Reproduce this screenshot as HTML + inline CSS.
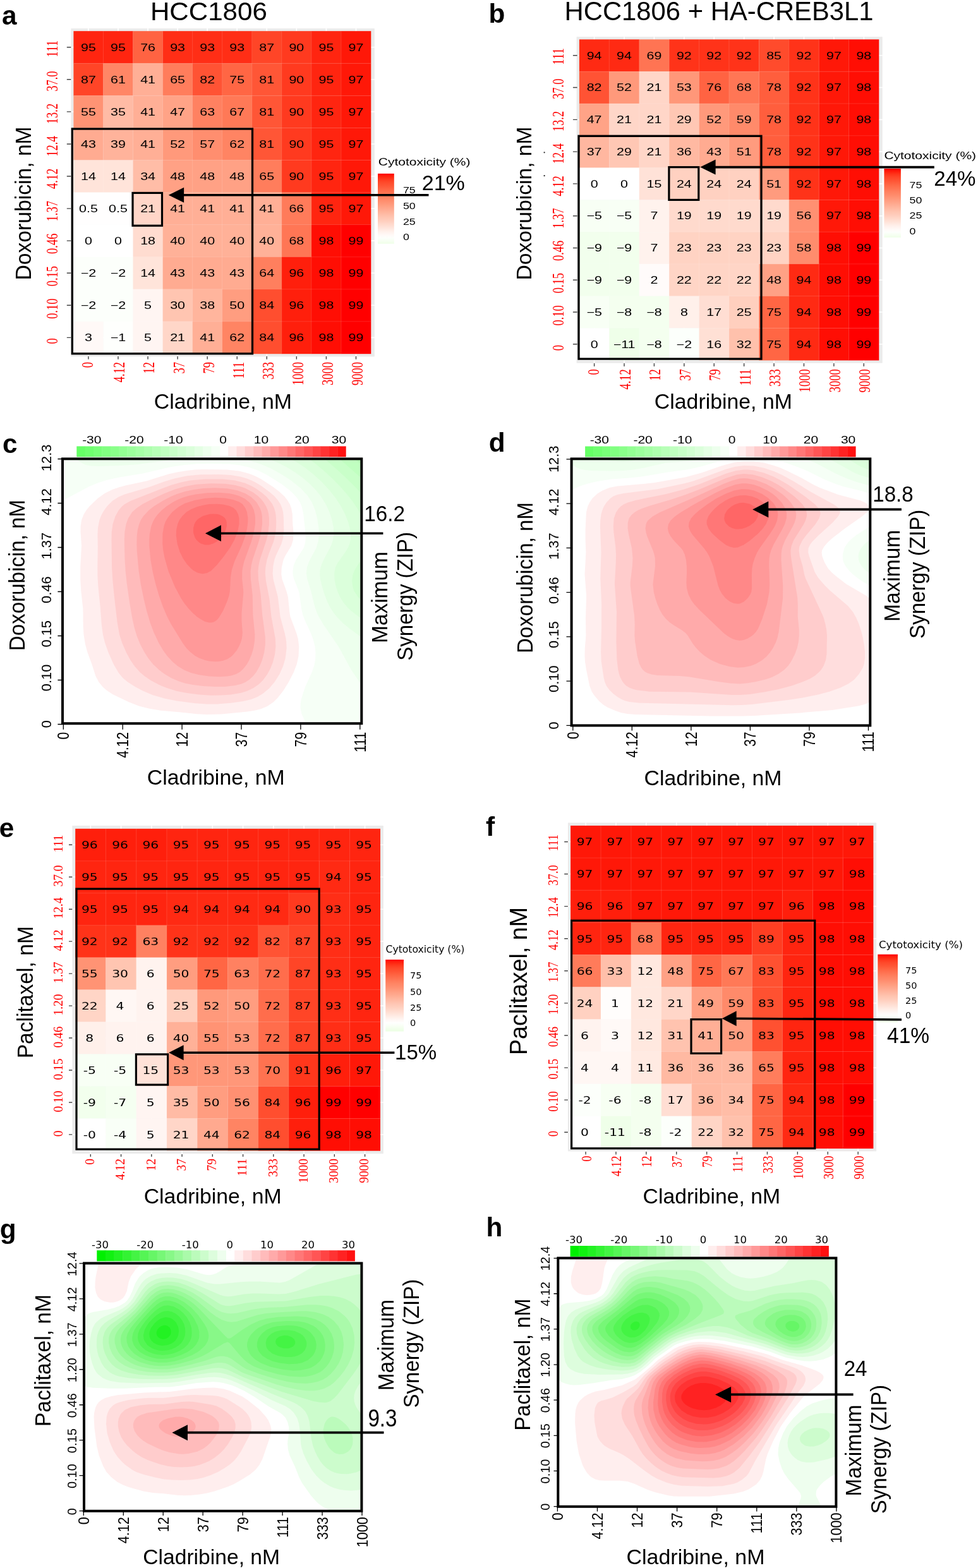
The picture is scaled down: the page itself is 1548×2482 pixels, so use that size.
<!DOCTYPE html>
<html lang="en"><head><meta charset="utf-8"><title>Figure: Cladribine combination cytotoxicity and ZIP synergy</title>
<style>html,body{margin:0;padding:0;background:#fff}svg{display:block}text{white-space:pre}</style></head><body>
<svg width="1548" height="2482" viewBox="0 0 1548 2482" role="img" aria-label="Cytotoxicity heatmaps and ZIP synergy contour maps for cladribine combined with doxorubicin or paclitaxel">
<rect width="1548" height="2482" fill="#fff"/>
<g id="panel-a">
<rect x="112.4" y="45" width="480.4" height="519.5" fill="#ebebeb"/>
<path d="M139.93 45V564.5M186.99 45V564.5M234.05 45V564.5M281.11 45V564.5M328.17 45V564.5M375.23 45V564.5M422.29 45V564.5M469.35 45V564.5M516.41 45V564.5M563.47 45V564.5M112.4 74.73H592.8M112.4 125.81H592.8M112.4 176.88H592.8M112.4 227.94H592.8M112.4 279.01H592.8M112.4 330.08H592.8M112.4 381.15H592.8M112.4 432.22H592.8M112.4 483.3H592.8M112.4 534.37H592.8" stroke="#fff" stroke-width="1.6" fill="none"/>
<rect x="116.4" y="49.2" width="94.42" height="51.37" fill="#ff2510"/>
<rect x="210.52" y="49.2" width="47.36" height="51.37" fill="#ff6342"/>
<rect x="257.58" y="49.2" width="141.48" height="51.37" fill="#ff2e16"/>
<rect x="398.76" y="49.2" width="47.36" height="51.37" fill="#ff4527"/>
<rect x="445.82" y="49.2" width="47.36" height="51.37" fill="#ff3a1f"/>
<rect x="492.88" y="49.2" width="47.36" height="51.37" fill="#ff2510"/>
<rect x="539.94" y="49.2" width="47.36" height="51.37" fill="#ff1808"/>
<rect x="116.4" y="100.27" width="47.36" height="51.37" fill="#ff4527"/>
<rect x="163.46" y="100.27" width="47.36" height="51.37" fill="#ff8666"/>
<rect x="210.52" y="100.27" width="47.36" height="51.37" fill="#ffaf96"/>
<rect x="257.58" y="100.27" width="47.36" height="51.37" fill="#ff7d5c"/>
<rect x="304.64" y="100.27" width="47.36" height="51.37" fill="#ff5334"/>
<rect x="351.7" y="100.27" width="47.36" height="51.37" fill="#ff6644"/>
<rect x="398.76" y="100.27" width="47.36" height="51.37" fill="#ff5636"/>
<rect x="445.82" y="100.27" width="47.36" height="51.37" fill="#ff3a1f"/>
<rect x="492.88" y="100.27" width="47.36" height="51.37" fill="#ff2510"/>
<rect x="539.94" y="100.27" width="47.36" height="51.37" fill="#ff1808"/>
<rect x="116.4" y="151.34" width="47.36" height="51.37" fill="#ff9374"/>
<rect x="163.46" y="151.34" width="47.36" height="51.37" fill="#ffbba5"/>
<rect x="210.52" y="151.34" width="47.36" height="51.37" fill="#ffaf96"/>
<rect x="257.58" y="151.34" width="47.36" height="51.37" fill="#ffa387"/>
<rect x="304.64" y="151.34" width="47.36" height="51.37" fill="#ff8161"/>
<rect x="351.7" y="151.34" width="47.36" height="51.37" fill="#ff7957"/>
<rect x="398.76" y="151.34" width="47.36" height="51.37" fill="#ff5636"/>
<rect x="445.82" y="151.34" width="47.36" height="51.37" fill="#ff3a1f"/>
<rect x="492.88" y="151.34" width="47.36" height="51.37" fill="#ff2510"/>
<rect x="539.94" y="151.34" width="47.36" height="51.37" fill="#ff1808"/>
<rect x="116.4" y="202.41" width="47.36" height="51.37" fill="#ffab91"/>
<rect x="163.46" y="202.41" width="47.36" height="51.37" fill="#ffb39b"/>
<rect x="210.52" y="202.41" width="47.36" height="51.37" fill="#ffaf96"/>
<rect x="257.58" y="202.41" width="47.36" height="51.37" fill="#ff997b"/>
<rect x="304.64" y="202.41" width="47.36" height="51.37" fill="#ff8e6f"/>
<rect x="351.7" y="202.41" width="47.36" height="51.37" fill="#ff8463"/>
<rect x="398.76" y="202.41" width="47.36" height="51.37" fill="#ff5636"/>
<rect x="445.82" y="202.41" width="47.36" height="51.37" fill="#ff3a1f"/>
<rect x="492.88" y="202.41" width="47.36" height="51.37" fill="#ff2510"/>
<rect x="539.94" y="202.41" width="47.36" height="51.37" fill="#ff1808"/>
<rect x="116.4" y="253.48" width="94.42" height="51.37" fill="#ffe4da"/>
<rect x="210.52" y="253.48" width="47.36" height="51.37" fill="#ffbda7"/>
<rect x="257.58" y="253.48" width="141.48" height="51.37" fill="#ffa185"/>
<rect x="398.76" y="253.48" width="47.36" height="51.37" fill="#ff7d5c"/>
<rect x="445.82" y="253.48" width="47.36" height="51.37" fill="#ff3a1f"/>
<rect x="492.88" y="253.48" width="47.36" height="51.37" fill="#ff2510"/>
<rect x="539.94" y="253.48" width="47.36" height="51.37" fill="#ff1808"/>
<rect x="116.4" y="304.55" width="94.42" height="51.37" fill="#fffefe"/>
<rect x="210.52" y="304.55" width="47.36" height="51.37" fill="#ffd6c8"/>
<rect x="257.58" y="304.55" width="188.54" height="51.37" fill="#ffaf96"/>
<rect x="445.82" y="304.55" width="47.36" height="51.37" fill="#ff7b5a"/>
<rect x="492.88" y="304.55" width="47.36" height="51.37" fill="#ff2510"/>
<rect x="539.94" y="304.55" width="47.36" height="51.37" fill="#ff1808"/>
<rect x="116.4" y="355.62" width="94.42" height="51.37" fill="#ffffff"/>
<rect x="210.52" y="355.62" width="47.36" height="51.37" fill="#ffdcd0"/>
<rect x="257.58" y="355.62" width="188.54" height="51.37" fill="#ffb198"/>
<rect x="445.82" y="355.62" width="47.36" height="51.37" fill="#ff7655"/>
<rect x="492.88" y="355.62" width="47.36" height="51.37" fill="#ff0e04"/>
<rect x="539.94" y="355.62" width="47.36" height="51.37" fill="#ff0000"/>
<rect x="116.4" y="406.69" width="94.42" height="51.37" fill="#fcfffb"/>
<rect x="210.52" y="406.69" width="47.36" height="51.37" fill="#ffe4da"/>
<rect x="257.58" y="406.69" width="141.48" height="51.37" fill="#ffab91"/>
<rect x="398.76" y="406.69" width="47.36" height="51.37" fill="#ff7f5e"/>
<rect x="445.82" y="406.69" width="47.36" height="51.37" fill="#ff1f0c"/>
<rect x="492.88" y="406.69" width="47.36" height="51.37" fill="#ff0e04"/>
<rect x="539.94" y="406.69" width="47.36" height="51.37" fill="#ff0000"/>
<rect x="116.4" y="457.76" width="94.42" height="51.37" fill="#fcfffb"/>
<rect x="210.52" y="457.76" width="47.36" height="51.37" fill="#fff5f2"/>
<rect x="257.58" y="457.76" width="47.36" height="51.37" fill="#ffc5b1"/>
<rect x="304.64" y="457.76" width="47.36" height="51.37" fill="#ffb59d"/>
<rect x="351.7" y="457.76" width="47.36" height="51.37" fill="#ff9d80"/>
<rect x="398.76" y="457.76" width="47.36" height="51.37" fill="#ff4e2f"/>
<rect x="445.82" y="457.76" width="47.36" height="51.37" fill="#ff1f0c"/>
<rect x="492.88" y="457.76" width="47.36" height="51.37" fill="#ff0e04"/>
<rect x="539.94" y="457.76" width="47.36" height="51.37" fill="#ff0000"/>
<rect x="116.4" y="508.83" width="47.36" height="51.37" fill="#fff9f7"/>
<rect x="163.46" y="508.83" width="47.36" height="51.37" fill="#fefffd"/>
<rect x="210.52" y="508.83" width="47.36" height="51.37" fill="#fff5f2"/>
<rect x="257.58" y="508.83" width="47.36" height="51.37" fill="#ffd6c8"/>
<rect x="304.64" y="508.83" width="47.36" height="51.37" fill="#ffaf96"/>
<rect x="351.7" y="508.83" width="47.36" height="51.37" fill="#ff8463"/>
<rect x="398.76" y="508.83" width="47.36" height="51.37" fill="#ff4e2f"/>
<rect x="445.82" y="508.83" width="47.36" height="51.37" fill="#ff1f0c"/>
<rect x="492.88" y="508.83" width="47.36" height="51.37" fill="#ff0e04"/>
<rect x="539.94" y="508.83" width="47.36" height="51.37" fill="#ff0000"/>
<path d="M163.46 49.2V559.9M210.52 49.2V559.9M257.58 49.2V559.9M304.64 49.2V559.9M351.7 49.2V559.9M398.76 49.2V559.9M445.82 49.2V559.9M492.88 49.2V559.9M539.94 49.2V559.9M116.4 100.27H587M116.4 151.34H587M116.4 202.41H587M116.4 253.48H587M116.4 304.55H587M116.4 355.62H587M116.4 406.69H587M116.4 457.76H587M116.4 508.83H587" stroke="#fff" stroke-opacity="0.13" stroke-width="1" fill="none"/>
<g font-family="'Liberation Sans',Arial,Helvetica,sans-serif" font-size="16" text-anchor="middle">
<text transform="translate(139.93 80.53) scale(1.34 1)">95</text>
<text transform="translate(186.99 80.53) scale(1.34 1)">95</text>
<text transform="translate(234.05 80.53) scale(1.34 1)">76</text>
<text transform="translate(281.11 80.53) scale(1.34 1)">93</text>
<text transform="translate(328.17 80.53) scale(1.34 1)">93</text>
<text transform="translate(375.23 80.53) scale(1.34 1)">93</text>
<text transform="translate(422.29 80.53) scale(1.34 1)">87</text>
<text transform="translate(469.35 80.53) scale(1.34 1)">90</text>
<text transform="translate(516.41 80.53) scale(1.34 1)">95</text>
<text transform="translate(563.47 80.53) scale(1.34 1)">97</text>
<text transform="translate(139.93 131.61) scale(1.34 1)">87</text>
<text transform="translate(186.99 131.61) scale(1.34 1)">61</text>
<text transform="translate(234.05 131.61) scale(1.34 1)">41</text>
<text transform="translate(281.11 131.61) scale(1.34 1)">65</text>
<text transform="translate(328.17 131.61) scale(1.34 1)">82</text>
<text transform="translate(375.23 131.61) scale(1.34 1)">75</text>
<text transform="translate(422.29 131.61) scale(1.34 1)">81</text>
<text transform="translate(469.35 131.61) scale(1.34 1)">90</text>
<text transform="translate(516.41 131.61) scale(1.34 1)">95</text>
<text transform="translate(563.47 131.61) scale(1.34 1)">97</text>
<text transform="translate(139.93 182.68) scale(1.34 1)">55</text>
<text transform="translate(186.99 182.68) scale(1.34 1)">35</text>
<text transform="translate(234.05 182.68) scale(1.34 1)">41</text>
<text transform="translate(281.11 182.68) scale(1.34 1)">47</text>
<text transform="translate(328.17 182.68) scale(1.34 1)">63</text>
<text transform="translate(375.23 182.68) scale(1.34 1)">67</text>
<text transform="translate(422.29 182.68) scale(1.34 1)">81</text>
<text transform="translate(469.35 182.68) scale(1.34 1)">90</text>
<text transform="translate(516.41 182.68) scale(1.34 1)">95</text>
<text transform="translate(563.47 182.68) scale(1.34 1)">97</text>
<text transform="translate(139.93 233.75) scale(1.34 1)">43</text>
<text transform="translate(186.99 233.75) scale(1.34 1)">39</text>
<text transform="translate(234.05 233.75) scale(1.34 1)">41</text>
<text transform="translate(281.11 233.75) scale(1.34 1)">52</text>
<text transform="translate(328.17 233.75) scale(1.34 1)">57</text>
<text transform="translate(375.23 233.75) scale(1.34 1)">62</text>
<text transform="translate(422.29 233.75) scale(1.34 1)">81</text>
<text transform="translate(469.35 233.75) scale(1.34 1)">90</text>
<text transform="translate(516.41 233.75) scale(1.34 1)">95</text>
<text transform="translate(563.47 233.75) scale(1.34 1)">97</text>
<text transform="translate(139.93 284.81) scale(1.34 1)">14</text>
<text transform="translate(186.99 284.81) scale(1.34 1)">14</text>
<text transform="translate(234.05 284.81) scale(1.34 1)">34</text>
<text transform="translate(281.11 284.81) scale(1.34 1)">48</text>
<text transform="translate(328.17 284.81) scale(1.34 1)">48</text>
<text transform="translate(375.23 284.81) scale(1.34 1)">48</text>
<text transform="translate(422.29 284.81) scale(1.34 1)">65</text>
<text transform="translate(469.35 284.81) scale(1.34 1)">90</text>
<text transform="translate(516.41 284.81) scale(1.34 1)">95</text>
<text transform="translate(563.47 284.81) scale(1.34 1)">97</text>
<text transform="translate(139.93 335.88) scale(1.34 1)">0.5</text>
<text transform="translate(186.99 335.88) scale(1.34 1)">0.5</text>
<text transform="translate(234.05 335.88) scale(1.34 1)">21</text>
<text transform="translate(281.11 335.88) scale(1.34 1)">41</text>
<text transform="translate(328.17 335.88) scale(1.34 1)">41</text>
<text transform="translate(375.23 335.88) scale(1.34 1)">41</text>
<text transform="translate(422.29 335.88) scale(1.34 1)">41</text>
<text transform="translate(469.35 335.88) scale(1.34 1)">66</text>
<text transform="translate(516.41 335.88) scale(1.34 1)">95</text>
<text transform="translate(563.47 335.88) scale(1.34 1)">97</text>
<text transform="translate(139.93 386.95) scale(1.34 1)">0</text>
<text transform="translate(186.99 386.95) scale(1.34 1)">0</text>
<text transform="translate(234.05 386.95) scale(1.34 1)">18</text>
<text transform="translate(281.11 386.95) scale(1.34 1)">40</text>
<text transform="translate(328.17 386.95) scale(1.34 1)">40</text>
<text transform="translate(375.23 386.95) scale(1.34 1)">40</text>
<text transform="translate(422.29 386.95) scale(1.34 1)">40</text>
<text transform="translate(469.35 386.95) scale(1.34 1)">68</text>
<text transform="translate(516.41 386.95) scale(1.34 1)">98</text>
<text transform="translate(563.47 386.95) scale(1.34 1)">99</text>
<text transform="translate(139.93 438.02) scale(1.34 1)">−2</text>
<text transform="translate(186.99 438.02) scale(1.34 1)">−2</text>
<text transform="translate(234.05 438.02) scale(1.34 1)">14</text>
<text transform="translate(281.11 438.02) scale(1.34 1)">43</text>
<text transform="translate(328.17 438.02) scale(1.34 1)">43</text>
<text transform="translate(375.23 438.02) scale(1.34 1)">43</text>
<text transform="translate(422.29 438.02) scale(1.34 1)">64</text>
<text transform="translate(469.35 438.02) scale(1.34 1)">96</text>
<text transform="translate(516.41 438.02) scale(1.34 1)">98</text>
<text transform="translate(563.47 438.02) scale(1.34 1)">99</text>
<text transform="translate(139.93 489.1) scale(1.34 1)">−2</text>
<text transform="translate(186.99 489.1) scale(1.34 1)">−2</text>
<text transform="translate(234.05 489.1) scale(1.34 1)">5</text>
<text transform="translate(281.11 489.1) scale(1.34 1)">30</text>
<text transform="translate(328.17 489.1) scale(1.34 1)">38</text>
<text transform="translate(375.23 489.1) scale(1.34 1)">50</text>
<text transform="translate(422.29 489.1) scale(1.34 1)">84</text>
<text transform="translate(469.35 489.1) scale(1.34 1)">96</text>
<text transform="translate(516.41 489.1) scale(1.34 1)">98</text>
<text transform="translate(563.47 489.1) scale(1.34 1)">99</text>
<text transform="translate(139.93 540.16) scale(1.34 1)">3</text>
<text transform="translate(186.99 540.16) scale(1.34 1)">−1</text>
<text transform="translate(234.05 540.16) scale(1.34 1)">5</text>
<text transform="translate(281.11 540.16) scale(1.34 1)">21</text>
<text transform="translate(328.17 540.16) scale(1.34 1)">41</text>
<text transform="translate(375.23 540.16) scale(1.34 1)">62</text>
<text transform="translate(422.29 540.16) scale(1.34 1)">84</text>
<text transform="translate(469.35 540.16) scale(1.34 1)">96</text>
<text transform="translate(516.41 540.16) scale(1.34 1)">98</text>
<text transform="translate(563.47 540.16) scale(1.34 1)">99</text>
</g>
<path d="M105.8 74.73H112.4M105.8 125.81H112.4M105.8 176.88H112.4M105.8 227.94H112.4M105.8 279.01H112.4M105.8 330.08H112.4M105.8 381.15H112.4M105.8 432.22H112.4M105.8 483.3H112.4M105.8 534.37H112.4M139.93 564.1V568.8M186.99 564.1V568.8M234.05 564.1V568.8M281.11 564.1V568.8M328.17 564.1V568.8M375.23 564.1V568.8M422.29 564.1V568.8M469.35 564.1V568.8M516.41 564.1V568.8M563.47 564.1V568.8" stroke="#444" stroke-width="1.4" fill="none"/>
<g font-family="'Liberation Serif','Times New Roman',Times,serif" font-size="18.5" fill="#ff0000">
<text transform="translate(91.4 77.2) rotate(-90) scale(1 1.36)" text-anchor="middle">111</text>
<text transform="translate(91.4 128.62) rotate(-90) scale(1 1.36)" text-anchor="middle">37.0</text>
<text transform="translate(91.4 180.04) rotate(-90) scale(1 1.36)" text-anchor="middle">13.2</text>
<text transform="translate(91.4 231.47) rotate(-90) scale(1 1.36)" text-anchor="middle">12.4</text>
<text transform="translate(91.4 282.89) rotate(-90) scale(1 1.36)" text-anchor="middle">4.12</text>
<text transform="translate(91.4 334.31) rotate(-90) scale(1 1.36)" text-anchor="middle">1.37</text>
<text transform="translate(91.4 385.73) rotate(-90) scale(1 1.36)" text-anchor="middle">0.46</text>
<text transform="translate(91.4 437.16) rotate(-90) scale(1 1.36)" text-anchor="middle">0.15</text>
<text transform="translate(91.4 488.58) rotate(-90) scale(1 1.36)" text-anchor="middle">0.10</text>
<text transform="translate(91.4 540) rotate(-90) scale(1 1.36)" text-anchor="middle">0</text>
<text transform="translate(147.43 573) rotate(-90) scale(1 1.36)" text-anchor="end">0</text>
<text transform="translate(197.39 573) rotate(-90) scale(1 1.36)" text-anchor="end">4.12</text>
<text transform="translate(244.45 573) rotate(-90) scale(1 1.36)" text-anchor="end">12</text>
<text transform="translate(291.51 573) rotate(-90) scale(1 1.36)" text-anchor="end">37</text>
<text transform="translate(338.57 573) rotate(-90) scale(1 1.36)" text-anchor="end">79</text>
<text transform="translate(385.63 573) rotate(-90) scale(1 1.36)" text-anchor="end">111</text>
<text transform="translate(432.69 573) rotate(-90) scale(1 1.36)" text-anchor="end">333</text>
<text transform="translate(479.75 573) rotate(-90) scale(1 1.36)" text-anchor="end">1000</text>
<text transform="translate(526.81 573) rotate(-90) scale(1 1.36)" text-anchor="end">3000</text>
<text transform="translate(573.87 573) rotate(-90) scale(1 1.36)" text-anchor="end">9000</text>
</g>
<rect x="114.3" y="204" width="285.2" height="355.8" fill="none" stroke="#000" stroke-width="3.3"/>
<rect x="210" y="305.4" width="46.5" height="51.8" fill="none" stroke="#000" stroke-width="3.2"/>
<linearGradient id="ga" x1="0" y1="0" x2="0" y2="1"><stop offset="0" stop-color="#ff0000"/><stop offset="0.04" stop-color="#ff230e"/><stop offset="0.08" stop-color="#ff381d"/><stop offset="0.12" stop-color="#ff4829"/><stop offset="0.17" stop-color="#ff5535"/><stop offset="0.21" stop-color="#ff6140"/><stop offset="0.25" stop-color="#ff6d4b"/><stop offset="0.29" stop-color="#ff7756"/><stop offset="0.33" stop-color="#ff8261"/><stop offset="0.38" stop-color="#ff8c6c"/><stop offset="0.42" stop-color="#ff9577"/><stop offset="0.46" stop-color="#ff9f82"/><stop offset="0.5" stop-color="#ffa88e"/><stop offset="0.54" stop-color="#ffb299"/><stop offset="0.58" stop-color="#ffbba5"/><stop offset="0.62" stop-color="#ffc4b0"/><stop offset="0.67" stop-color="#ffcdbc"/><stop offset="0.71" stop-color="#ffd6c8"/><stop offset="0.75" stop-color="#ffdfd4"/><stop offset="0.79" stop-color="#ffe8e0"/><stop offset="0.83" stop-color="#fff1ec"/><stop offset="0.88" stop-color="#fffaf8"/><stop offset="0.92" stop-color="#fcfffb"/><stop offset="0.96" stop-color="#f6fff2"/><stop offset="1" stop-color="#efffe8"/></linearGradient>
<rect x="598" y="274.8" width="25.8" height="111" fill="url(#ga)"/>
<text transform="translate(598.8 261.5) scale(1.22 1)" font-family="'Liberation Sans',Arial,Helvetica,sans-serif" font-size="17.2">Cytotoxicity (%)</text>
<text transform="translate(638 305.9) scale(1.2 1)" font-family="'Liberation Sans',Arial,Helvetica,sans-serif" font-size="14.8">75</text>
<text transform="translate(638 330.7) scale(1.2 1)" font-family="'Liberation Sans',Arial,Helvetica,sans-serif" font-size="14.8">50</text>
<text transform="translate(638 355.7) scale(1.2 1)" font-family="'Liberation Sans',Arial,Helvetica,sans-serif" font-size="14.8">25</text>
<text transform="translate(638 379.8) scale(1.2 1)" font-family="'Liberation Sans',Arial,Helvetica,sans-serif" font-size="14.8">0</text>
</g>
<g id="panel-b">
<rect x="912.6" y="58.2" width="484.1" height="516.5" fill="#ebebeb"/>
<path d="M940.61 58.2V574.7M988.01 58.2V574.7M1035.42 58.2V574.7M1082.84 58.2V574.7M1130.24 58.2V574.7M1177.65 58.2V574.7M1225.07 58.2V574.7M1272.47 58.2V574.7M1319.88 58.2V574.7M1367.3 58.2V574.7M912.6 87.79H1396.7M912.6 138.57H1396.7M912.6 189.35H1396.7M912.6 240.13H1396.7M912.6 290.91H1396.7M912.6 341.69H1396.7M912.6 392.47H1396.7M912.6 443.25H1396.7M912.6 494.03H1396.7M912.6 544.81H1396.7" stroke="#fff" stroke-width="1.6" fill="none"/>
<rect x="916.9" y="62.4" width="95.12" height="51.08" fill="#ff2a13"/>
<rect x="1011.72" y="62.4" width="47.71" height="51.08" fill="#ff7453"/>
<rect x="1059.13" y="62.4" width="142.53" height="51.08" fill="#ff3319"/>
<rect x="1201.36" y="62.4" width="47.71" height="51.08" fill="#ff4b2c"/>
<rect x="1248.77" y="62.4" width="47.71" height="51.08" fill="#ff3319"/>
<rect x="1296.18" y="62.4" width="47.71" height="51.08" fill="#ff1808"/>
<rect x="1343.59" y="62.4" width="47.71" height="51.08" fill="#ff0e04"/>
<rect x="916.9" y="113.18" width="47.71" height="51.08" fill="#ff5334"/>
<rect x="964.31" y="113.18" width="47.71" height="51.08" fill="#ff997b"/>
<rect x="1011.72" y="113.18" width="47.71" height="51.08" fill="#ffd6c8"/>
<rect x="1059.13" y="113.18" width="47.71" height="51.08" fill="#ff9779"/>
<rect x="1106.54" y="113.18" width="47.71" height="51.08" fill="#ff6342"/>
<rect x="1153.95" y="113.18" width="47.71" height="51.08" fill="#ff7655"/>
<rect x="1201.36" y="113.18" width="47.71" height="51.08" fill="#ff5e3d"/>
<rect x="1248.77" y="113.18" width="47.71" height="51.08" fill="#ff3319"/>
<rect x="1296.18" y="113.18" width="47.71" height="51.08" fill="#ff1808"/>
<rect x="1343.59" y="113.18" width="47.71" height="51.08" fill="#ff0e04"/>
<rect x="916.9" y="163.96" width="47.71" height="51.08" fill="#ffa387"/>
<rect x="964.31" y="163.96" width="95.12" height="51.08" fill="#ffd6c8"/>
<rect x="1059.13" y="163.96" width="47.71" height="51.08" fill="#ffc7b4"/>
<rect x="1106.54" y="163.96" width="47.71" height="51.08" fill="#ff997b"/>
<rect x="1153.95" y="163.96" width="47.71" height="51.08" fill="#ff8a6a"/>
<rect x="1201.36" y="163.96" width="47.71" height="51.08" fill="#ff5e3d"/>
<rect x="1248.77" y="163.96" width="47.71" height="51.08" fill="#ff3319"/>
<rect x="1296.18" y="163.96" width="47.71" height="51.08" fill="#ff1808"/>
<rect x="1343.59" y="163.96" width="47.71" height="51.08" fill="#ff0e04"/>
<rect x="916.9" y="214.74" width="47.71" height="51.08" fill="#ffb7a0"/>
<rect x="964.31" y="214.74" width="47.71" height="51.08" fill="#ffc7b4"/>
<rect x="1011.72" y="214.74" width="47.71" height="51.08" fill="#ffd6c8"/>
<rect x="1059.13" y="214.74" width="47.71" height="51.08" fill="#ffb9a2"/>
<rect x="1106.54" y="214.74" width="47.71" height="51.08" fill="#ffab91"/>
<rect x="1153.95" y="214.74" width="47.71" height="51.08" fill="#ff9b7e"/>
<rect x="1201.36" y="214.74" width="47.71" height="51.08" fill="#ff5e3d"/>
<rect x="1248.77" y="214.74" width="47.71" height="51.08" fill="#ff3319"/>
<rect x="1296.18" y="214.74" width="47.71" height="51.08" fill="#ff1808"/>
<rect x="1343.59" y="214.74" width="47.71" height="51.08" fill="#ff0e04"/>
<rect x="916.9" y="265.52" width="95.12" height="51.08" fill="#ffffff"/>
<rect x="1011.72" y="265.52" width="47.71" height="51.08" fill="#ffe2d8"/>
<rect x="1059.13" y="265.52" width="142.53" height="51.08" fill="#ffd1c1"/>
<rect x="1201.36" y="265.52" width="47.71" height="51.08" fill="#ff9b7e"/>
<rect x="1248.77" y="265.52" width="47.71" height="51.08" fill="#ff3319"/>
<rect x="1296.18" y="265.52" width="47.71" height="51.08" fill="#ff1808"/>
<rect x="1343.59" y="265.52" width="47.71" height="51.08" fill="#ff0e04"/>
<rect x="916.9" y="316.3" width="95.12" height="51.08" fill="#f8fff5"/>
<rect x="1011.72" y="316.3" width="47.71" height="51.08" fill="#fff2ed"/>
<rect x="1059.13" y="316.3" width="189.94" height="51.08" fill="#ffdacd"/>
<rect x="1248.77" y="316.3" width="47.71" height="51.08" fill="#ff9072"/>
<rect x="1296.18" y="316.3" width="47.71" height="51.08" fill="#ff1808"/>
<rect x="1343.59" y="316.3" width="47.71" height="51.08" fill="#ff0e04"/>
<rect x="916.9" y="367.08" width="95.12" height="51.08" fill="#f2ffed"/>
<rect x="1011.72" y="367.08" width="47.71" height="51.08" fill="#fff2ed"/>
<rect x="1059.13" y="367.08" width="189.94" height="51.08" fill="#ffd3c3"/>
<rect x="1248.77" y="367.08" width="47.71" height="51.08" fill="#ff8c6d"/>
<rect x="1296.18" y="367.08" width="47.71" height="51.08" fill="#ff0e04"/>
<rect x="1343.59" y="367.08" width="47.71" height="51.08" fill="#ff0000"/>
<rect x="916.9" y="417.86" width="95.12" height="51.08" fill="#f2ffed"/>
<rect x="1011.72" y="417.86" width="47.71" height="51.08" fill="#fffbfa"/>
<rect x="1059.13" y="417.86" width="142.53" height="51.08" fill="#ffd5c6"/>
<rect x="1201.36" y="417.86" width="47.71" height="51.08" fill="#ffa185"/>
<rect x="1248.77" y="417.86" width="47.71" height="51.08" fill="#ff2a13"/>
<rect x="1296.18" y="417.86" width="47.71" height="51.08" fill="#ff0e04"/>
<rect x="1343.59" y="417.86" width="47.71" height="51.08" fill="#ff0000"/>
<rect x="916.9" y="468.64" width="47.71" height="51.08" fill="#f8fff5"/>
<rect x="964.31" y="468.64" width="95.12" height="51.08" fill="#f4ffef"/>
<rect x="1059.13" y="468.64" width="47.71" height="51.08" fill="#fff0ea"/>
<rect x="1106.54" y="468.64" width="47.71" height="51.08" fill="#ffded3"/>
<rect x="1153.95" y="468.64" width="47.71" height="51.08" fill="#ffcfbe"/>
<rect x="1201.36" y="468.64" width="47.71" height="51.08" fill="#ff6644"/>
<rect x="1248.77" y="468.64" width="47.71" height="51.08" fill="#ff2a13"/>
<rect x="1296.18" y="468.64" width="47.71" height="51.08" fill="#ff0e04"/>
<rect x="1343.59" y="468.64" width="47.71" height="51.08" fill="#ff0000"/>
<rect x="916.9" y="519.42" width="47.71" height="51.08" fill="#ffffff"/>
<rect x="964.31" y="519.42" width="47.71" height="51.08" fill="#efffe9"/>
<rect x="1011.72" y="519.42" width="47.71" height="51.08" fill="#f4ffef"/>
<rect x="1059.13" y="519.42" width="47.71" height="51.08" fill="#fcfffb"/>
<rect x="1106.54" y="519.42" width="47.71" height="51.08" fill="#ffe0d5"/>
<rect x="1153.95" y="519.42" width="47.71" height="51.08" fill="#ffc1ac"/>
<rect x="1201.36" y="519.42" width="47.71" height="51.08" fill="#ff6644"/>
<rect x="1248.77" y="519.42" width="47.71" height="51.08" fill="#ff2a13"/>
<rect x="1296.18" y="519.42" width="47.71" height="51.08" fill="#ff0e04"/>
<rect x="1343.59" y="519.42" width="47.71" height="51.08" fill="#ff0000"/>
<path d="M964.31 62.4V570.2M1011.72 62.4V570.2M1059.13 62.4V570.2M1106.54 62.4V570.2M1153.95 62.4V570.2M1201.36 62.4V570.2M1248.77 62.4V570.2M1296.18 62.4V570.2M1343.59 62.4V570.2M916.9 113.18H1391M916.9 163.96H1391M916.9 214.74H1391M916.9 265.52H1391M916.9 316.3H1391M916.9 367.08H1391M916.9 417.86H1391M916.9 468.64H1391M916.9 519.42H1391" stroke="#fff" stroke-opacity="0.13" stroke-width="1" fill="none"/>
<g font-family="'Liberation Sans',Arial,Helvetica,sans-serif" font-size="16" text-anchor="middle">
<text transform="translate(940.61 93.59) scale(1.34 1)">94</text>
<text transform="translate(988.01 93.59) scale(1.34 1)">94</text>
<text transform="translate(1035.42 93.59) scale(1.34 1)">69</text>
<text transform="translate(1082.84 93.59) scale(1.34 1)">92</text>
<text transform="translate(1130.24 93.59) scale(1.34 1)">92</text>
<text transform="translate(1177.65 93.59) scale(1.34 1)">92</text>
<text transform="translate(1225.07 93.59) scale(1.34 1)">85</text>
<text transform="translate(1272.47 93.59) scale(1.34 1)">92</text>
<text transform="translate(1319.88 93.59) scale(1.34 1)">97</text>
<text transform="translate(1367.3 93.59) scale(1.34 1)">98</text>
<text transform="translate(940.61 144.37) scale(1.34 1)">82</text>
<text transform="translate(988.01 144.37) scale(1.34 1)">52</text>
<text transform="translate(1035.42 144.37) scale(1.34 1)">21</text>
<text transform="translate(1082.84 144.37) scale(1.34 1)">53</text>
<text transform="translate(1130.24 144.37) scale(1.34 1)">76</text>
<text transform="translate(1177.65 144.37) scale(1.34 1)">68</text>
<text transform="translate(1225.07 144.37) scale(1.34 1)">78</text>
<text transform="translate(1272.47 144.37) scale(1.34 1)">92</text>
<text transform="translate(1319.88 144.37) scale(1.34 1)">97</text>
<text transform="translate(1367.3 144.37) scale(1.34 1)">98</text>
<text transform="translate(940.61 195.15) scale(1.34 1)">47</text>
<text transform="translate(988.01 195.15) scale(1.34 1)">21</text>
<text transform="translate(1035.42 195.15) scale(1.34 1)">21</text>
<text transform="translate(1082.84 195.15) scale(1.34 1)">29</text>
<text transform="translate(1130.24 195.15) scale(1.34 1)">52</text>
<text transform="translate(1177.65 195.15) scale(1.34 1)">59</text>
<text transform="translate(1225.07 195.15) scale(1.34 1)">78</text>
<text transform="translate(1272.47 195.15) scale(1.34 1)">92</text>
<text transform="translate(1319.88 195.15) scale(1.34 1)">97</text>
<text transform="translate(1367.3 195.15) scale(1.34 1)">98</text>
<text transform="translate(940.61 245.93) scale(1.34 1)">37</text>
<text transform="translate(988.01 245.93) scale(1.34 1)">29</text>
<text transform="translate(1035.42 245.93) scale(1.34 1)">21</text>
<text transform="translate(1082.84 245.93) scale(1.34 1)">36</text>
<text transform="translate(1130.24 245.93) scale(1.34 1)">43</text>
<text transform="translate(1177.65 245.93) scale(1.34 1)">51</text>
<text transform="translate(1225.07 245.93) scale(1.34 1)">78</text>
<text transform="translate(1272.47 245.93) scale(1.34 1)">92</text>
<text transform="translate(1319.88 245.93) scale(1.34 1)">97</text>
<text transform="translate(1367.3 245.93) scale(1.34 1)">98</text>
<text transform="translate(940.61 296.71) scale(1.34 1)">0</text>
<text transform="translate(988.01 296.71) scale(1.34 1)">0</text>
<text transform="translate(1035.42 296.71) scale(1.34 1)">15</text>
<text transform="translate(1082.84 296.71) scale(1.34 1)">24</text>
<text transform="translate(1130.24 296.71) scale(1.34 1)">24</text>
<text transform="translate(1177.65 296.71) scale(1.34 1)">24</text>
<text transform="translate(1225.07 296.71) scale(1.34 1)">51</text>
<text transform="translate(1272.47 296.71) scale(1.34 1)">92</text>
<text transform="translate(1319.88 296.71) scale(1.34 1)">97</text>
<text transform="translate(1367.3 296.71) scale(1.34 1)">98</text>
<text transform="translate(940.61 347.49) scale(1.34 1)">−5</text>
<text transform="translate(988.01 347.49) scale(1.34 1)">−5</text>
<text transform="translate(1035.42 347.49) scale(1.34 1)">7</text>
<text transform="translate(1082.84 347.49) scale(1.34 1)">19</text>
<text transform="translate(1130.24 347.49) scale(1.34 1)">19</text>
<text transform="translate(1177.65 347.49) scale(1.34 1)">19</text>
<text transform="translate(1225.07 347.49) scale(1.34 1)">19</text>
<text transform="translate(1272.47 347.49) scale(1.34 1)">56</text>
<text transform="translate(1319.88 347.49) scale(1.34 1)">97</text>
<text transform="translate(1367.3 347.49) scale(1.34 1)">98</text>
<text transform="translate(940.61 398.27) scale(1.34 1)">−9</text>
<text transform="translate(988.01 398.27) scale(1.34 1)">−9</text>
<text transform="translate(1035.42 398.27) scale(1.34 1)">7</text>
<text transform="translate(1082.84 398.27) scale(1.34 1)">23</text>
<text transform="translate(1130.24 398.27) scale(1.34 1)">23</text>
<text transform="translate(1177.65 398.27) scale(1.34 1)">23</text>
<text transform="translate(1225.07 398.27) scale(1.34 1)">23</text>
<text transform="translate(1272.47 398.27) scale(1.34 1)">58</text>
<text transform="translate(1319.88 398.27) scale(1.34 1)">98</text>
<text transform="translate(1367.3 398.27) scale(1.34 1)">99</text>
<text transform="translate(940.61 449.05) scale(1.34 1)">−9</text>
<text transform="translate(988.01 449.05) scale(1.34 1)">−9</text>
<text transform="translate(1035.42 449.05) scale(1.34 1)">2</text>
<text transform="translate(1082.84 449.05) scale(1.34 1)">22</text>
<text transform="translate(1130.24 449.05) scale(1.34 1)">22</text>
<text transform="translate(1177.65 449.05) scale(1.34 1)">22</text>
<text transform="translate(1225.07 449.05) scale(1.34 1)">48</text>
<text transform="translate(1272.47 449.05) scale(1.34 1)">94</text>
<text transform="translate(1319.88 449.05) scale(1.34 1)">98</text>
<text transform="translate(1367.3 449.05) scale(1.34 1)">99</text>
<text transform="translate(940.61 499.83) scale(1.34 1)">−5</text>
<text transform="translate(988.01 499.83) scale(1.34 1)">−8</text>
<text transform="translate(1035.42 499.83) scale(1.34 1)">−8</text>
<text transform="translate(1082.84 499.83) scale(1.34 1)">8</text>
<text transform="translate(1130.24 499.83) scale(1.34 1)">17</text>
<text transform="translate(1177.65 499.83) scale(1.34 1)">25</text>
<text transform="translate(1225.07 499.83) scale(1.34 1)">75</text>
<text transform="translate(1272.47 499.83) scale(1.34 1)">94</text>
<text transform="translate(1319.88 499.83) scale(1.34 1)">98</text>
<text transform="translate(1367.3 499.83) scale(1.34 1)">99</text>
<text transform="translate(940.61 550.61) scale(1.34 1)">0</text>
<text transform="translate(988.01 550.61) scale(1.34 1)">−11</text>
<text transform="translate(1035.42 550.61) scale(1.34 1)">−8</text>
<text transform="translate(1082.84 550.61) scale(1.34 1)">−2</text>
<text transform="translate(1130.24 550.61) scale(1.34 1)">16</text>
<text transform="translate(1177.65 550.61) scale(1.34 1)">32</text>
<text transform="translate(1225.07 550.61) scale(1.34 1)">75</text>
<text transform="translate(1272.47 550.61) scale(1.34 1)">94</text>
<text transform="translate(1319.88 550.61) scale(1.34 1)">98</text>
<text transform="translate(1367.3 550.61) scale(1.34 1)">99</text>
</g>
<path d="M906.9 87.79H913.7M906.9 138.57H913.7M906.9 189.35H913.7M906.9 240.13H913.7M906.9 290.91H913.7M906.9 341.69H913.7M906.9 392.47H913.7M906.9 443.25H913.7M906.9 494.03H913.7M906.9 544.81H913.7M940.61 575V580M988.01 575V580M1035.42 575V580M1082.84 575V580M1130.24 575V580M1177.65 575V580M1225.07 575V580M1272.47 575V580M1319.88 575V580M1367.3 575V580" stroke="#444" stroke-width="1.4" fill="none"/>
<g font-family="'Liberation Serif','Times New Roman',Times,serif" font-size="18.5" fill="#ff0000">
<text transform="translate(892.2 89.5) rotate(-90) scale(1 1.36)" text-anchor="middle">111</text>
<text transform="translate(892.2 140.73) rotate(-90) scale(1 1.36)" text-anchor="middle">37.0</text>
<text transform="translate(892.2 191.97) rotate(-90) scale(1 1.36)" text-anchor="middle">13.2</text>
<text transform="translate(892.2 243.2) rotate(-90) scale(1 1.36)" text-anchor="middle">12.4</text>
<text transform="translate(892.2 294.43) rotate(-90) scale(1 1.36)" text-anchor="middle">4.12</text>
<text transform="translate(892.2 345.67) rotate(-90) scale(1 1.36)" text-anchor="middle">1.37</text>
<text transform="translate(892.2 396.9) rotate(-90) scale(1 1.36)" text-anchor="middle">0.46</text>
<text transform="translate(892.2 448.13) rotate(-90) scale(1 1.36)" text-anchor="middle">0.15</text>
<text transform="translate(892.2 499.37) rotate(-90) scale(1 1.36)" text-anchor="middle">0.10</text>
<text transform="translate(892.2 550.6) rotate(-90) scale(1 1.36)" text-anchor="middle">0</text>
<text transform="translate(947.61 584.2) rotate(-90) scale(1 1.36)" text-anchor="end">0</text>
<text transform="translate(998.01 584.2) rotate(-90) scale(1 1.36)" text-anchor="end">4.12</text>
<text transform="translate(1045.42 584.2) rotate(-90) scale(1 1.36)" text-anchor="end">12</text>
<text transform="translate(1092.84 584.2) rotate(-90) scale(1 1.36)" text-anchor="end">37</text>
<text transform="translate(1140.24 584.2) rotate(-90) scale(1 1.36)" text-anchor="end">79</text>
<text transform="translate(1187.65 584.2) rotate(-90) scale(1 1.36)" text-anchor="end">111</text>
<text transform="translate(1235.07 584.2) rotate(-90) scale(1 1.36)" text-anchor="end">333</text>
<text transform="translate(1282.47 584.2) rotate(-90) scale(1 1.36)" text-anchor="end">1000</text>
<text transform="translate(1329.88 584.2) rotate(-90) scale(1 1.36)" text-anchor="end">3000</text>
<text transform="translate(1377.3 584.2) rotate(-90) scale(1 1.36)" text-anchor="end">9000</text>
</g>
<rect x="916" y="215.3" width="289" height="352.8" fill="none" stroke="#000" stroke-width="3.3"/>
<rect x="1058.9" y="264.6" width="46.9" height="51.8" fill="none" stroke="#000" stroke-width="3.2"/>
<linearGradient id="gb" x1="0" y1="0" x2="0" y2="1"><stop offset="0" stop-color="#ff0000"/><stop offset="0.04" stop-color="#ff1c0b"/><stop offset="0.08" stop-color="#ff341a"/><stop offset="0.12" stop-color="#ff4527"/><stop offset="0.17" stop-color="#ff5333"/><stop offset="0.21" stop-color="#ff5f3e"/><stop offset="0.25" stop-color="#ff6b49"/><stop offset="0.29" stop-color="#ff7554"/><stop offset="0.33" stop-color="#ff805f"/><stop offset="0.38" stop-color="#ff8a6a"/><stop offset="0.42" stop-color="#ff9475"/><stop offset="0.46" stop-color="#ff9d81"/><stop offset="0.5" stop-color="#ffa78c"/><stop offset="0.54" stop-color="#ffb098"/><stop offset="0.58" stop-color="#ffbaa3"/><stop offset="0.62" stop-color="#ffc3af"/><stop offset="0.67" stop-color="#ffccbb"/><stop offset="0.71" stop-color="#ffd5c6"/><stop offset="0.75" stop-color="#ffded2"/><stop offset="0.79" stop-color="#ffe7de"/><stop offset="0.83" stop-color="#fff0eb"/><stop offset="0.88" stop-color="#fff9f7"/><stop offset="0.92" stop-color="#fdfffc"/><stop offset="0.96" stop-color="#f6fff2"/><stop offset="1" stop-color="#efffe9"/></linearGradient>
<rect x="1399.4" y="267" width="26.5" height="109" fill="url(#gb)"/>
<text transform="translate(1399.4 252.3) scale(1.22 1)" font-family="'Liberation Sans',Arial,Helvetica,sans-serif" font-size="17.2">Cytotoxicity (%)</text>
<text transform="translate(1439.6 297.7) scale(1.2 1)" font-family="'Liberation Sans',Arial,Helvetica,sans-serif" font-size="14.8">75</text>
<text transform="translate(1439.6 321.6) scale(1.2 1)" font-family="'Liberation Sans',Arial,Helvetica,sans-serif" font-size="14.8">50</text>
<text transform="translate(1439.6 345.8) scale(1.2 1)" font-family="'Liberation Sans',Arial,Helvetica,sans-serif" font-size="14.8">25</text>
<text transform="translate(1439.6 370.7) scale(1.2 1)" font-family="'Liberation Sans',Arial,Helvetica,sans-serif" font-size="14.8">0</text>
</g>
<g id="panel-e">
<rect x="114.3" y="1306.9" width="492.5" height="519.3" fill="#ebebeb"/>
<path d="M143.33 1306.9V1826.2M191.58 1306.9V1826.2M239.83 1306.9V1826.2M288.08 1306.9V1826.2M336.33 1306.9V1826.2M384.58 1306.9V1826.2M432.83 1306.9V1826.2M481.08 1306.9V1826.2M529.33 1306.9V1826.2M577.58 1306.9V1826.2M114.3 1337.28H606.8M114.3 1388.24H606.8M114.3 1439.2H606.8M114.3 1490.16H606.8M114.3 1541.12H606.8M114.3 1592.08H606.8M114.3 1643.04H606.8M114.3 1694H606.8M114.3 1744.96H606.8M114.3 1795.92H606.8" stroke="#fff" stroke-width="1.6" fill="none"/>
<rect x="119.2" y="1311.8" width="145.05" height="51.26" fill="#ff1f0c"/>
<rect x="263.95" y="1311.8" width="338.05" height="51.26" fill="#ff2510"/>
<rect x="119.2" y="1362.76" width="386.3" height="51.26" fill="#ff2510"/>
<rect x="505.2" y="1362.76" width="48.55" height="51.26" fill="#ff2a13"/>
<rect x="553.45" y="1362.76" width="48.55" height="51.26" fill="#ff2510"/>
<rect x="119.2" y="1413.72" width="145.05" height="51.26" fill="#ff2510"/>
<rect x="263.95" y="1413.72" width="193.3" height="51.26" fill="#ff2a13"/>
<rect x="456.95" y="1413.72" width="48.55" height="51.26" fill="#ff3a1f"/>
<rect x="505.2" y="1413.72" width="48.55" height="51.26" fill="#ff2e16"/>
<rect x="553.45" y="1413.72" width="48.55" height="51.26" fill="#ff2510"/>
<rect x="119.2" y="1464.68" width="96.8" height="51.26" fill="#ff3319"/>
<rect x="215.7" y="1464.68" width="48.55" height="51.26" fill="#ff8161"/>
<rect x="263.95" y="1464.68" width="145.05" height="51.26" fill="#ff3319"/>
<rect x="408.7" y="1464.68" width="48.55" height="51.26" fill="#ff5334"/>
<rect x="456.95" y="1464.68" width="48.55" height="51.26" fill="#ff4527"/>
<rect x="505.2" y="1464.68" width="48.55" height="51.26" fill="#ff2e16"/>
<rect x="553.45" y="1464.68" width="48.55" height="51.26" fill="#ff2510"/>
<rect x="119.2" y="1515.64" width="48.55" height="51.26" fill="#ff9374"/>
<rect x="167.45" y="1515.64" width="48.55" height="51.26" fill="#ffc5b1"/>
<rect x="215.7" y="1515.64" width="48.55" height="51.26" fill="#fff3ef"/>
<rect x="263.95" y="1515.64" width="48.55" height="51.26" fill="#ff9d80"/>
<rect x="312.2" y="1515.64" width="48.55" height="51.26" fill="#ff6644"/>
<rect x="360.45" y="1515.64" width="48.55" height="51.26" fill="#ff8161"/>
<rect x="408.7" y="1515.64" width="48.55" height="51.26" fill="#ff6d4c"/>
<rect x="456.95" y="1515.64" width="48.55" height="51.26" fill="#ff4527"/>
<rect x="505.2" y="1515.64" width="48.55" height="51.26" fill="#ff2e16"/>
<rect x="553.45" y="1515.64" width="48.55" height="51.26" fill="#ff2510"/>
<rect x="119.2" y="1566.6" width="48.55" height="51.26" fill="#ffd5c6"/>
<rect x="167.45" y="1566.6" width="48.55" height="51.26" fill="#fff7f4"/>
<rect x="215.7" y="1566.6" width="48.55" height="51.26" fill="#fff3ef"/>
<rect x="263.95" y="1566.6" width="48.55" height="51.26" fill="#ffcfbe"/>
<rect x="312.2" y="1566.6" width="48.55" height="51.26" fill="#ff997b"/>
<rect x="360.45" y="1566.6" width="48.55" height="51.26" fill="#ff9d80"/>
<rect x="408.7" y="1566.6" width="48.55" height="51.26" fill="#ff6d4c"/>
<rect x="456.95" y="1566.6" width="48.55" height="51.26" fill="#ff4527"/>
<rect x="505.2" y="1566.6" width="48.55" height="51.26" fill="#ff2e16"/>
<rect x="553.45" y="1566.6" width="48.55" height="51.26" fill="#ff2510"/>
<rect x="119.2" y="1617.56" width="48.55" height="51.26" fill="#fff0ea"/>
<rect x="167.45" y="1617.56" width="96.8" height="51.26" fill="#fff3ef"/>
<rect x="263.95" y="1617.56" width="48.55" height="51.26" fill="#ffb198"/>
<rect x="312.2" y="1617.56" width="48.55" height="51.26" fill="#ff9374"/>
<rect x="360.45" y="1617.56" width="48.55" height="51.26" fill="#ff9779"/>
<rect x="408.7" y="1617.56" width="48.55" height="51.26" fill="#ff6d4c"/>
<rect x="456.95" y="1617.56" width="48.55" height="51.26" fill="#ff4527"/>
<rect x="505.2" y="1617.56" width="48.55" height="51.26" fill="#ff2e16"/>
<rect x="553.45" y="1617.56" width="48.55" height="51.26" fill="#ff2510"/>
<rect x="119.2" y="1668.52" width="96.8" height="51.26" fill="#f8fff5"/>
<rect x="215.7" y="1668.52" width="48.55" height="51.26" fill="#ffe2d8"/>
<rect x="263.95" y="1668.52" width="145.05" height="51.26" fill="#ff9779"/>
<rect x="408.7" y="1668.52" width="48.55" height="51.26" fill="#ff7250"/>
<rect x="456.95" y="1668.52" width="48.55" height="51.26" fill="#ff371c"/>
<rect x="505.2" y="1668.52" width="48.55" height="51.26" fill="#ff1f0c"/>
<rect x="553.45" y="1668.52" width="48.55" height="51.26" fill="#ff1808"/>
<rect x="119.2" y="1719.48" width="48.55" height="51.26" fill="#f2ffed"/>
<rect x="167.45" y="1719.48" width="48.55" height="51.26" fill="#f5fff1"/>
<rect x="215.7" y="1719.48" width="48.55" height="51.26" fill="#fff5f2"/>
<rect x="263.95" y="1719.48" width="48.55" height="51.26" fill="#ffbba5"/>
<rect x="312.2" y="1719.48" width="48.55" height="51.26" fill="#ff9d80"/>
<rect x="360.45" y="1719.48" width="48.55" height="51.26" fill="#ff9072"/>
<rect x="408.7" y="1719.48" width="48.55" height="51.26" fill="#ff4e2f"/>
<rect x="456.95" y="1719.48" width="48.55" height="51.26" fill="#ff1f0c"/>
<rect x="505.2" y="1719.48" width="96.8" height="51.26" fill="#ff0000"/>
<rect x="119.2" y="1770.44" width="48.55" height="51.26" fill="#ffffff"/>
<rect x="167.45" y="1770.44" width="48.55" height="51.26" fill="#f9fff7"/>
<rect x="215.7" y="1770.44" width="48.55" height="51.26" fill="#fff5f2"/>
<rect x="263.95" y="1770.44" width="48.55" height="51.26" fill="#ffd6c8"/>
<rect x="312.2" y="1770.44" width="48.55" height="51.26" fill="#ffa98f"/>
<rect x="360.45" y="1770.44" width="48.55" height="51.26" fill="#ff8463"/>
<rect x="408.7" y="1770.44" width="48.55" height="51.26" fill="#ff4e2f"/>
<rect x="456.95" y="1770.44" width="48.55" height="51.26" fill="#ff1f0c"/>
<rect x="505.2" y="1770.44" width="96.8" height="51.26" fill="#ff0e04"/>
<path d="M167.45 1311.8V1821.4M215.7 1311.8V1821.4M263.95 1311.8V1821.4M312.2 1311.8V1821.4M360.45 1311.8V1821.4M408.7 1311.8V1821.4M456.95 1311.8V1821.4M505.2 1311.8V1821.4M553.45 1311.8V1821.4M119.2 1362.76H601.7M119.2 1413.72H601.7M119.2 1464.68H601.7M119.2 1515.64H601.7M119.2 1566.6H601.7M119.2 1617.56H601.7M119.2 1668.52H601.7M119.2 1719.48H601.7M119.2 1770.44H601.7" stroke="#fff" stroke-opacity="0.13" stroke-width="1" fill="none"/>
<g font-family="'DejaVu Sans',Verdana,sans-serif" font-size="16" text-anchor="middle">
<text transform="translate(141.83 1343.08) scale(1.27 1)">96</text>
<text transform="translate(190.08 1343.08) scale(1.27 1)">96</text>
<text transform="translate(238.33 1343.08) scale(1.27 1)">96</text>
<text transform="translate(286.58 1343.08) scale(1.27 1)">95</text>
<text transform="translate(334.83 1343.08) scale(1.27 1)">95</text>
<text transform="translate(383.08 1343.08) scale(1.27 1)">95</text>
<text transform="translate(431.33 1343.08) scale(1.27 1)">95</text>
<text transform="translate(479.58 1343.08) scale(1.27 1)">95</text>
<text transform="translate(527.83 1343.08) scale(1.27 1)">95</text>
<text transform="translate(576.08 1343.08) scale(1.27 1)">95</text>
<text transform="translate(141.83 1394.04) scale(1.27 1)">95</text>
<text transform="translate(190.08 1394.04) scale(1.27 1)">95</text>
<text transform="translate(238.33 1394.04) scale(1.27 1)">95</text>
<text transform="translate(286.58 1394.04) scale(1.27 1)">95</text>
<text transform="translate(334.83 1394.04) scale(1.27 1)">95</text>
<text transform="translate(383.08 1394.04) scale(1.27 1)">95</text>
<text transform="translate(431.33 1394.04) scale(1.27 1)">95</text>
<text transform="translate(479.58 1394.04) scale(1.27 1)">95</text>
<text transform="translate(527.83 1394.04) scale(1.27 1)">94</text>
<text transform="translate(576.08 1394.04) scale(1.27 1)">95</text>
<text transform="translate(141.83 1445) scale(1.27 1)">95</text>
<text transform="translate(190.08 1445) scale(1.27 1)">95</text>
<text transform="translate(238.33 1445) scale(1.27 1)">95</text>
<text transform="translate(286.58 1445) scale(1.27 1)">94</text>
<text transform="translate(334.83 1445) scale(1.27 1)">94</text>
<text transform="translate(383.08 1445) scale(1.27 1)">94</text>
<text transform="translate(431.33 1445) scale(1.27 1)">94</text>
<text transform="translate(479.58 1445) scale(1.27 1)">90</text>
<text transform="translate(527.83 1445) scale(1.27 1)">93</text>
<text transform="translate(576.08 1445) scale(1.27 1)">95</text>
<text transform="translate(141.83 1495.96) scale(1.27 1)">92</text>
<text transform="translate(190.08 1495.96) scale(1.27 1)">92</text>
<text transform="translate(238.33 1495.96) scale(1.27 1)">63</text>
<text transform="translate(286.58 1495.96) scale(1.27 1)">92</text>
<text transform="translate(334.83 1495.96) scale(1.27 1)">92</text>
<text transform="translate(383.08 1495.96) scale(1.27 1)">92</text>
<text transform="translate(431.33 1495.96) scale(1.27 1)">82</text>
<text transform="translate(479.58 1495.96) scale(1.27 1)">87</text>
<text transform="translate(527.83 1495.96) scale(1.27 1)">93</text>
<text transform="translate(576.08 1495.96) scale(1.27 1)">95</text>
<text transform="translate(141.83 1546.92) scale(1.27 1)">55</text>
<text transform="translate(190.08 1546.92) scale(1.27 1)">30</text>
<text transform="translate(238.33 1546.92) scale(1.27 1)">6</text>
<text transform="translate(286.58 1546.92) scale(1.27 1)">50</text>
<text transform="translate(334.83 1546.92) scale(1.27 1)">75</text>
<text transform="translate(383.08 1546.92) scale(1.27 1)">63</text>
<text transform="translate(431.33 1546.92) scale(1.27 1)">72</text>
<text transform="translate(479.58 1546.92) scale(1.27 1)">87</text>
<text transform="translate(527.83 1546.92) scale(1.27 1)">93</text>
<text transform="translate(576.08 1546.92) scale(1.27 1)">95</text>
<text transform="translate(141.83 1597.88) scale(1.27 1)">22</text>
<text transform="translate(190.08 1597.88) scale(1.27 1)">4</text>
<text transform="translate(238.33 1597.88) scale(1.27 1)">6</text>
<text transform="translate(286.58 1597.88) scale(1.27 1)">25</text>
<text transform="translate(334.83 1597.88) scale(1.27 1)">52</text>
<text transform="translate(383.08 1597.88) scale(1.27 1)">50</text>
<text transform="translate(431.33 1597.88) scale(1.27 1)">72</text>
<text transform="translate(479.58 1597.88) scale(1.27 1)">87</text>
<text transform="translate(527.83 1597.88) scale(1.27 1)">93</text>
<text transform="translate(576.08 1597.88) scale(1.27 1)">95</text>
<text transform="translate(141.83 1648.84) scale(1.27 1)">8</text>
<text transform="translate(190.08 1648.84) scale(1.27 1)">6</text>
<text transform="translate(238.33 1648.84) scale(1.27 1)">6</text>
<text transform="translate(286.58 1648.84) scale(1.27 1)">40</text>
<text transform="translate(334.83 1648.84) scale(1.27 1)">55</text>
<text transform="translate(383.08 1648.84) scale(1.27 1)">53</text>
<text transform="translate(431.33 1648.84) scale(1.27 1)">72</text>
<text transform="translate(479.58 1648.84) scale(1.27 1)">87</text>
<text transform="translate(527.83 1648.84) scale(1.27 1)">93</text>
<text transform="translate(576.08 1648.84) scale(1.27 1)">95</text>
<text transform="translate(141.83 1699.8) scale(1.27 1)">-5</text>
<text transform="translate(190.08 1699.8) scale(1.27 1)">-5</text>
<text transform="translate(238.33 1699.8) scale(1.27 1)">15</text>
<text transform="translate(286.58 1699.8) scale(1.27 1)">53</text>
<text transform="translate(334.83 1699.8) scale(1.27 1)">53</text>
<text transform="translate(383.08 1699.8) scale(1.27 1)">53</text>
<text transform="translate(431.33 1699.8) scale(1.27 1)">70</text>
<text transform="translate(479.58 1699.8) scale(1.27 1)">91</text>
<text transform="translate(527.83 1699.8) scale(1.27 1)">96</text>
<text transform="translate(576.08 1699.8) scale(1.27 1)">97</text>
<text transform="translate(141.83 1750.76) scale(1.27 1)">-9</text>
<text transform="translate(190.08 1750.76) scale(1.27 1)">-7</text>
<text transform="translate(238.33 1750.76) scale(1.27 1)">5</text>
<text transform="translate(286.58 1750.76) scale(1.27 1)">35</text>
<text transform="translate(334.83 1750.76) scale(1.27 1)">50</text>
<text transform="translate(383.08 1750.76) scale(1.27 1)">56</text>
<text transform="translate(431.33 1750.76) scale(1.27 1)">84</text>
<text transform="translate(479.58 1750.76) scale(1.27 1)">96</text>
<text transform="translate(527.83 1750.76) scale(1.27 1)">99</text>
<text transform="translate(576.08 1750.76) scale(1.27 1)">99</text>
<text transform="translate(141.83 1801.72) scale(1.27 1)">-0</text>
<text transform="translate(190.08 1801.72) scale(1.27 1)">-4</text>
<text transform="translate(238.33 1801.72) scale(1.27 1)">5</text>
<text transform="translate(286.58 1801.72) scale(1.27 1)">21</text>
<text transform="translate(334.83 1801.72) scale(1.27 1)">44</text>
<text transform="translate(383.08 1801.72) scale(1.27 1)">62</text>
<text transform="translate(431.33 1801.72) scale(1.27 1)">84</text>
<text transform="translate(479.58 1801.72) scale(1.27 1)">96</text>
<text transform="translate(527.83 1801.72) scale(1.27 1)">98</text>
<text transform="translate(576.08 1801.72) scale(1.27 1)">98</text>
</g>
<path d="M109 1337.28H114.3M109 1388.24H114.3M109 1439.2H114.3M109 1490.16H114.3M109 1541.12H114.3M109 1592.08H114.3M109 1643.04H114.3M109 1694H114.3M109 1744.96H114.3M109 1795.92H114.3M143.33 1827V1831M191.58 1827V1831M239.83 1827V1831M288.08 1827V1831M336.33 1827V1831M384.58 1827V1831M432.83 1827V1831M481.08 1827V1831M529.33 1827V1831M577.58 1827V1831" stroke="#444" stroke-width="1.4" fill="none"/>
<g font-family="'Liberation Serif','Times New Roman',Times,serif" font-size="19.4" fill="#ff0000">
<text transform="translate(98.6 1335.5) rotate(-90) scale(1 1.04)" text-anchor="middle">111</text>
<text transform="translate(98.6 1386.5) rotate(-90) scale(1 1.04)" text-anchor="middle">37.0</text>
<text transform="translate(98.6 1437.5) rotate(-90) scale(1 1.04)" text-anchor="middle">12.4</text>
<text transform="translate(98.6 1488.5) rotate(-90) scale(1 1.04)" text-anchor="middle">4.12</text>
<text transform="translate(98.6 1539.5) rotate(-90) scale(1 1.04)" text-anchor="middle">1.37</text>
<text transform="translate(98.6 1590.5) rotate(-90) scale(1 1.04)" text-anchor="middle">1.20</text>
<text transform="translate(98.6 1641.5) rotate(-90) scale(1 1.04)" text-anchor="middle">0.46</text>
<text transform="translate(98.6 1692.5) rotate(-90) scale(1 1.04)" text-anchor="middle">0.15</text>
<text transform="translate(98.6 1743.5) rotate(-90) scale(1 1.04)" text-anchor="middle">0.10</text>
<text transform="translate(98.6 1794.5) rotate(-90) scale(1 1.04)" text-anchor="middle">0</text>
<text transform="translate(149.13 1834) rotate(-90) scale(1 1.04)" text-anchor="end">0</text>
<text transform="translate(197.38 1834) rotate(-90) scale(1 1.04)" text-anchor="end">4.12</text>
<text transform="translate(245.63 1834) rotate(-90) scale(1 1.04)" text-anchor="end">12</text>
<text transform="translate(293.88 1834) rotate(-90) scale(1 1.04)" text-anchor="end">37</text>
<text transform="translate(342.13 1834) rotate(-90) scale(1 1.04)" text-anchor="end">79</text>
<text transform="translate(390.38 1834) rotate(-90) scale(1 1.04)" text-anchor="end">111</text>
<text transform="translate(438.63 1834) rotate(-90) scale(1 1.04)" text-anchor="end">333</text>
<text transform="translate(486.88 1834) rotate(-90) scale(1 1.04)" text-anchor="end">1000</text>
<text transform="translate(535.12 1834) rotate(-90) scale(1 1.04)" text-anchor="end">3000</text>
<text transform="translate(583.38 1834) rotate(-90) scale(1 1.04)" text-anchor="end">9000</text>
</g>
<rect x="121" y="1407" width="384.2" height="412.2" fill="none" stroke="#000" stroke-width="3.2"/>
<rect x="215.4" y="1668.9" width="50.2" height="48.2" fill="none" stroke="#000" stroke-width="3.2"/>
<linearGradient id="ge" x1="0" y1="0" x2="0" y2="1"><stop offset="0" stop-color="#ff0000"/><stop offset="0.04" stop-color="#ff230f"/><stop offset="0.08" stop-color="#ff391e"/><stop offset="0.12" stop-color="#ff492a"/><stop offset="0.17" stop-color="#ff5636"/><stop offset="0.21" stop-color="#ff6341"/><stop offset="0.25" stop-color="#ff6e4d"/><stop offset="0.29" stop-color="#ff7958"/><stop offset="0.33" stop-color="#ff8463"/><stop offset="0.38" stop-color="#ff8e6f"/><stop offset="0.42" stop-color="#ff987a"/><stop offset="0.46" stop-color="#ffa286"/><stop offset="0.5" stop-color="#ffab91"/><stop offset="0.54" stop-color="#ffb59d"/><stop offset="0.58" stop-color="#ffbea9"/><stop offset="0.62" stop-color="#ffc7b5"/><stop offset="0.67" stop-color="#ffd1c1"/><stop offset="0.71" stop-color="#ffdacd"/><stop offset="0.75" stop-color="#ffe3d9"/><stop offset="0.79" stop-color="#ffece5"/><stop offset="0.83" stop-color="#fff5f2"/><stop offset="0.88" stop-color="#fffffe"/><stop offset="0.92" stop-color="#f9fff6"/><stop offset="0.96" stop-color="#f2ffec"/><stop offset="1" stop-color="#ebffe3"/></linearGradient>
<rect x="610.2" y="1519" width="28.8" height="113.6" fill="url(#ge)"/>
<text transform="translate(610.6 1507.6)" font-family="'DejaVu Sans',Verdana,sans-serif" font-size="15.6">Cytotoxicity (%)</text>
<text transform="translate(649.1 1549.3)" font-family="'DejaVu Sans',Verdana,sans-serif" font-size="14.5">75</text>
<text transform="translate(649.1 1574.7)" font-family="'DejaVu Sans',Verdana,sans-serif" font-size="14.5">50</text>
<text transform="translate(649.1 1599.6)" font-family="'DejaVu Sans',Verdana,sans-serif" font-size="14.5">25</text>
<text transform="translate(649.1 1624.1)" font-family="'DejaVu Sans',Verdana,sans-serif" font-size="14.5">0</text>
</g>
<g id="panel-f">
<rect x="898.9" y="1302.3" width="488.3" height="520.1" fill="#ebebeb"/>
<path d="M927.05 1302.3V1822.4M974.95 1302.3V1822.4M1022.85 1302.3V1822.4M1070.75 1302.3V1822.4M1118.65 1302.3V1822.4M1166.55 1302.3V1822.4M1214.45 1302.3V1822.4M1262.35 1302.3V1822.4M1310.25 1302.3V1822.4M1358.15 1302.3V1822.4M898.9 1332.45H1387.2M898.9 1383.54H1387.2M898.9 1434.62H1387.2M898.9 1485.72H1387.2M898.9 1536.81H1387.2M898.9 1587.89H1387.2M898.9 1638.99H1387.2M898.9 1690.08H1387.2M898.9 1741.16H1387.2M898.9 1792.26H1387.2" stroke="#fff" stroke-width="1.6" fill="none"/>
<rect x="903.1" y="1306.9" width="479.3" height="51.39" fill="#ff1808"/>
<rect x="903.1" y="1357.99" width="431.4" height="51.39" fill="#ff1808"/>
<rect x="1334.2" y="1357.99" width="48.2" height="51.39" fill="#ff0e04"/>
<rect x="903.1" y="1409.08" width="96.1" height="51.39" fill="#ff1f0c"/>
<rect x="998.9" y="1409.08" width="239.8" height="51.39" fill="#ff1808"/>
<rect x="1238.4" y="1409.08" width="48.2" height="51.39" fill="#ff1f0c"/>
<rect x="1286.3" y="1409.08" width="96.1" height="51.39" fill="#ff0e04"/>
<rect x="903.1" y="1460.17" width="96.1" height="51.39" fill="#ff2510"/>
<rect x="998.9" y="1460.17" width="48.2" height="51.39" fill="#ff7655"/>
<rect x="1046.8" y="1460.17" width="144" height="51.39" fill="#ff2510"/>
<rect x="1190.5" y="1460.17" width="48.2" height="51.39" fill="#ff3e22"/>
<rect x="1238.4" y="1460.17" width="48.2" height="51.39" fill="#ff2510"/>
<rect x="1286.3" y="1460.17" width="96.1" height="51.39" fill="#ff0e04"/>
<rect x="903.1" y="1511.26" width="48.2" height="51.39" fill="#ff7b5a"/>
<rect x="951" y="1511.26" width="48.2" height="51.39" fill="#ffbfaa"/>
<rect x="998.9" y="1511.26" width="48.2" height="51.39" fill="#ffe8df"/>
<rect x="1046.8" y="1511.26" width="48.2" height="51.39" fill="#ffa185"/>
<rect x="1094.7" y="1511.26" width="48.2" height="51.39" fill="#ff6644"/>
<rect x="1142.6" y="1511.26" width="48.2" height="51.39" fill="#ff7957"/>
<rect x="1190.5" y="1511.26" width="48.2" height="51.39" fill="#ff5131"/>
<rect x="1238.4" y="1511.26" width="48.2" height="51.39" fill="#ff2510"/>
<rect x="1286.3" y="1511.26" width="96.1" height="51.39" fill="#ff0e04"/>
<rect x="903.1" y="1562.35" width="48.2" height="51.39" fill="#ffd1c1"/>
<rect x="951" y="1562.35" width="48.2" height="51.39" fill="#fffdfc"/>
<rect x="998.9" y="1562.35" width="48.2" height="51.39" fill="#ffe8df"/>
<rect x="1046.8" y="1562.35" width="48.2" height="51.39" fill="#ffd6c8"/>
<rect x="1094.7" y="1562.35" width="48.2" height="51.39" fill="#ff9f82"/>
<rect x="1142.6" y="1562.35" width="48.2" height="51.39" fill="#ff8a6a"/>
<rect x="1190.5" y="1562.35" width="48.2" height="51.39" fill="#ff5131"/>
<rect x="1238.4" y="1562.35" width="48.2" height="51.39" fill="#ff2510"/>
<rect x="1286.3" y="1562.35" width="96.1" height="51.39" fill="#ff0e04"/>
<rect x="903.1" y="1613.44" width="48.2" height="51.39" fill="#fff3ef"/>
<rect x="951" y="1613.44" width="48.2" height="51.39" fill="#fff9f7"/>
<rect x="998.9" y="1613.44" width="48.2" height="51.39" fill="#ffe8df"/>
<rect x="1046.8" y="1613.44" width="48.2" height="51.39" fill="#ffc3af"/>
<rect x="1094.7" y="1613.44" width="48.2" height="51.39" fill="#ffaf96"/>
<rect x="1142.6" y="1613.44" width="48.2" height="51.39" fill="#ff9d80"/>
<rect x="1190.5" y="1613.44" width="48.2" height="51.39" fill="#ff5131"/>
<rect x="1238.4" y="1613.44" width="48.2" height="51.39" fill="#ff2510"/>
<rect x="1286.3" y="1613.44" width="96.1" height="51.39" fill="#ff0e04"/>
<rect x="903.1" y="1664.53" width="96.1" height="51.39" fill="#fff7f4"/>
<rect x="998.9" y="1664.53" width="48.2" height="51.39" fill="#ffeae2"/>
<rect x="1046.8" y="1664.53" width="144" height="51.39" fill="#ffb9a2"/>
<rect x="1190.5" y="1664.53" width="48.2" height="51.39" fill="#ff7d5c"/>
<rect x="1238.4" y="1664.53" width="48.2" height="51.39" fill="#ff2510"/>
<rect x="1286.3" y="1664.53" width="96.1" height="51.39" fill="#ff0e04"/>
<rect x="903.1" y="1715.62" width="48.2" height="51.39" fill="#fcfffb"/>
<rect x="951" y="1715.62" width="48.2" height="51.39" fill="#f7fff3"/>
<rect x="998.9" y="1715.62" width="48.2" height="51.39" fill="#f4ffef"/>
<rect x="1046.8" y="1715.62" width="48.2" height="51.39" fill="#ffded3"/>
<rect x="1094.7" y="1715.62" width="48.2" height="51.39" fill="#ffb9a2"/>
<rect x="1142.6" y="1715.62" width="48.2" height="51.39" fill="#ffbda7"/>
<rect x="1190.5" y="1715.62" width="48.2" height="51.39" fill="#ff6644"/>
<rect x="1238.4" y="1715.62" width="48.2" height="51.39" fill="#ff2a13"/>
<rect x="1286.3" y="1715.62" width="48.2" height="51.39" fill="#ff0e04"/>
<rect x="1334.2" y="1715.62" width="48.2" height="51.39" fill="#ff0000"/>
<rect x="903.1" y="1766.71" width="48.2" height="51.39" fill="#ffffff"/>
<rect x="951" y="1766.71" width="48.2" height="51.39" fill="#efffe9"/>
<rect x="998.9" y="1766.71" width="48.2" height="51.39" fill="#f4ffef"/>
<rect x="1046.8" y="1766.71" width="48.2" height="51.39" fill="#fcfffb"/>
<rect x="1094.7" y="1766.71" width="48.2" height="51.39" fill="#ffd5c6"/>
<rect x="1142.6" y="1766.71" width="48.2" height="51.39" fill="#ffc1ac"/>
<rect x="1190.5" y="1766.71" width="48.2" height="51.39" fill="#ff6644"/>
<rect x="1238.4" y="1766.71" width="48.2" height="51.39" fill="#ff2a13"/>
<rect x="1286.3" y="1766.71" width="48.2" height="51.39" fill="#ff0e04"/>
<rect x="1334.2" y="1766.71" width="48.2" height="51.39" fill="#ff0000"/>
<path d="M951 1306.9V1817.8M998.9 1306.9V1817.8M1046.8 1306.9V1817.8M1094.7 1306.9V1817.8M1142.6 1306.9V1817.8M1190.5 1306.9V1817.8M1238.4 1306.9V1817.8M1286.3 1306.9V1817.8M1334.2 1306.9V1817.8M903.1 1357.99H1382.1M903.1 1409.08H1382.1M903.1 1460.17H1382.1M903.1 1511.26H1382.1M903.1 1562.35H1382.1M903.1 1613.44H1382.1M903.1 1664.53H1382.1M903.1 1715.62H1382.1M903.1 1766.71H1382.1" stroke="#fff" stroke-opacity="0.13" stroke-width="1" fill="none"/>
<g font-family="'DejaVu Sans',Verdana,sans-serif" font-size="16" text-anchor="middle">
<text transform="translate(925.55 1338.25) scale(1.27 1)">97</text>
<text transform="translate(973.45 1338.25) scale(1.27 1)">97</text>
<text transform="translate(1021.35 1338.25) scale(1.27 1)">97</text>
<text transform="translate(1069.25 1338.25) scale(1.27 1)">97</text>
<text transform="translate(1117.15 1338.25) scale(1.27 1)">97</text>
<text transform="translate(1165.05 1338.25) scale(1.27 1)">97</text>
<text transform="translate(1212.95 1338.25) scale(1.27 1)">97</text>
<text transform="translate(1260.85 1338.25) scale(1.27 1)">97</text>
<text transform="translate(1308.75 1338.25) scale(1.27 1)">97</text>
<text transform="translate(1356.65 1338.25) scale(1.27 1)">97</text>
<text transform="translate(925.55 1389.34) scale(1.27 1)">97</text>
<text transform="translate(973.45 1389.34) scale(1.27 1)">97</text>
<text transform="translate(1021.35 1389.34) scale(1.27 1)">97</text>
<text transform="translate(1069.25 1389.34) scale(1.27 1)">97</text>
<text transform="translate(1117.15 1389.34) scale(1.27 1)">97</text>
<text transform="translate(1165.05 1389.34) scale(1.27 1)">97</text>
<text transform="translate(1212.95 1389.34) scale(1.27 1)">97</text>
<text transform="translate(1260.85 1389.34) scale(1.27 1)">97</text>
<text transform="translate(1308.75 1389.34) scale(1.27 1)">97</text>
<text transform="translate(1356.65 1389.34) scale(1.27 1)">98</text>
<text transform="translate(925.55 1440.42) scale(1.27 1)">96</text>
<text transform="translate(973.45 1440.42) scale(1.27 1)">96</text>
<text transform="translate(1021.35 1440.42) scale(1.27 1)">97</text>
<text transform="translate(1069.25 1440.42) scale(1.27 1)">97</text>
<text transform="translate(1117.15 1440.42) scale(1.27 1)">97</text>
<text transform="translate(1165.05 1440.42) scale(1.27 1)">97</text>
<text transform="translate(1212.95 1440.42) scale(1.27 1)">97</text>
<text transform="translate(1260.85 1440.42) scale(1.27 1)">96</text>
<text transform="translate(1308.75 1440.42) scale(1.27 1)">98</text>
<text transform="translate(1356.65 1440.42) scale(1.27 1)">98</text>
<text transform="translate(925.55 1491.52) scale(1.27 1)">95</text>
<text transform="translate(973.45 1491.52) scale(1.27 1)">95</text>
<text transform="translate(1021.35 1491.52) scale(1.27 1)">68</text>
<text transform="translate(1069.25 1491.52) scale(1.27 1)">95</text>
<text transform="translate(1117.15 1491.52) scale(1.27 1)">95</text>
<text transform="translate(1165.05 1491.52) scale(1.27 1)">95</text>
<text transform="translate(1212.95 1491.52) scale(1.27 1)">89</text>
<text transform="translate(1260.85 1491.52) scale(1.27 1)">95</text>
<text transform="translate(1308.75 1491.52) scale(1.27 1)">98</text>
<text transform="translate(1356.65 1491.52) scale(1.27 1)">98</text>
<text transform="translate(925.55 1542.61) scale(1.27 1)">66</text>
<text transform="translate(973.45 1542.61) scale(1.27 1)">33</text>
<text transform="translate(1021.35 1542.61) scale(1.27 1)">12</text>
<text transform="translate(1069.25 1542.61) scale(1.27 1)">48</text>
<text transform="translate(1117.15 1542.61) scale(1.27 1)">75</text>
<text transform="translate(1165.05 1542.61) scale(1.27 1)">67</text>
<text transform="translate(1212.95 1542.61) scale(1.27 1)">83</text>
<text transform="translate(1260.85 1542.61) scale(1.27 1)">95</text>
<text transform="translate(1308.75 1542.61) scale(1.27 1)">98</text>
<text transform="translate(1356.65 1542.61) scale(1.27 1)">98</text>
<text transform="translate(925.55 1593.69) scale(1.27 1)">24</text>
<text transform="translate(973.45 1593.69) scale(1.27 1)">1</text>
<text transform="translate(1021.35 1593.69) scale(1.27 1)">12</text>
<text transform="translate(1069.25 1593.69) scale(1.27 1)">21</text>
<text transform="translate(1117.15 1593.69) scale(1.27 1)">49</text>
<text transform="translate(1165.05 1593.69) scale(1.27 1)">59</text>
<text transform="translate(1212.95 1593.69) scale(1.27 1)">83</text>
<text transform="translate(1260.85 1593.69) scale(1.27 1)">95</text>
<text transform="translate(1308.75 1593.69) scale(1.27 1)">98</text>
<text transform="translate(1356.65 1593.69) scale(1.27 1)">98</text>
<text transform="translate(925.55 1644.79) scale(1.27 1)">6</text>
<text transform="translate(973.45 1644.79) scale(1.27 1)">3</text>
<text transform="translate(1021.35 1644.79) scale(1.27 1)">12</text>
<text transform="translate(1069.25 1644.79) scale(1.27 1)">31</text>
<text transform="translate(1117.15 1644.79) scale(1.27 1)">41</text>
<text transform="translate(1165.05 1644.79) scale(1.27 1)">50</text>
<text transform="translate(1212.95 1644.79) scale(1.27 1)">83</text>
<text transform="translate(1260.85 1644.79) scale(1.27 1)">95</text>
<text transform="translate(1308.75 1644.79) scale(1.27 1)">98</text>
<text transform="translate(1356.65 1644.79) scale(1.27 1)">98</text>
<text transform="translate(925.55 1695.88) scale(1.27 1)">4</text>
<text transform="translate(973.45 1695.88) scale(1.27 1)">4</text>
<text transform="translate(1021.35 1695.88) scale(1.27 1)">11</text>
<text transform="translate(1069.25 1695.88) scale(1.27 1)">36</text>
<text transform="translate(1117.15 1695.88) scale(1.27 1)">36</text>
<text transform="translate(1165.05 1695.88) scale(1.27 1)">36</text>
<text transform="translate(1212.95 1695.88) scale(1.27 1)">65</text>
<text transform="translate(1260.85 1695.88) scale(1.27 1)">95</text>
<text transform="translate(1308.75 1695.88) scale(1.27 1)">98</text>
<text transform="translate(1356.65 1695.88) scale(1.27 1)">98</text>
<text transform="translate(925.55 1746.96) scale(1.27 1)">-2</text>
<text transform="translate(973.45 1746.96) scale(1.27 1)">-6</text>
<text transform="translate(1021.35 1746.96) scale(1.27 1)">-8</text>
<text transform="translate(1069.25 1746.96) scale(1.27 1)">17</text>
<text transform="translate(1117.15 1746.96) scale(1.27 1)">36</text>
<text transform="translate(1165.05 1746.96) scale(1.27 1)">34</text>
<text transform="translate(1212.95 1746.96) scale(1.27 1)">75</text>
<text transform="translate(1260.85 1746.96) scale(1.27 1)">94</text>
<text transform="translate(1308.75 1746.96) scale(1.27 1)">98</text>
<text transform="translate(1356.65 1746.96) scale(1.27 1)">99</text>
<text transform="translate(925.55 1798.06) scale(1.27 1)">0</text>
<text transform="translate(973.45 1798.06) scale(1.27 1)">-11</text>
<text transform="translate(1021.35 1798.06) scale(1.27 1)">-8</text>
<text transform="translate(1069.25 1798.06) scale(1.27 1)">-2</text>
<text transform="translate(1117.15 1798.06) scale(1.27 1)">22</text>
<text transform="translate(1165.05 1798.06) scale(1.27 1)">32</text>
<text transform="translate(1212.95 1798.06) scale(1.27 1)">75</text>
<text transform="translate(1260.85 1798.06) scale(1.27 1)">94</text>
<text transform="translate(1308.75 1798.06) scale(1.27 1)">98</text>
<text transform="translate(1356.65 1798.06) scale(1.27 1)">99</text>
</g>
<path d="M893.2 1332.45H898.9M893.2 1383.54H898.9M893.2 1434.62H898.9M893.2 1485.72H898.9M893.2 1536.81H898.9M893.2 1587.89H898.9M893.2 1638.99H898.9M893.2 1690.08H898.9M893.2 1741.16H898.9M893.2 1792.26H898.9M927.05 1823V1827.5M974.95 1823V1827.5M1022.85 1823V1827.5M1070.75 1823V1827.5M1118.65 1823V1827.5M1166.55 1823V1827.5M1214.45 1823V1827.5M1262.35 1823V1827.5M1310.25 1823V1827.5M1358.15 1823V1827.5" stroke="#444" stroke-width="1.4" fill="none"/>
<g font-family="'Liberation Serif','Times New Roman',Times,serif" font-size="18.6" fill="#ff0000">
<text transform="translate(883.2 1334.3) rotate(-90) scale(1 1.2)" text-anchor="middle">111</text>
<text transform="translate(883.2 1385.43) rotate(-90) scale(1 1.2)" text-anchor="middle">37.0</text>
<text transform="translate(883.2 1436.57) rotate(-90) scale(1 1.2)" text-anchor="middle">12.4</text>
<text transform="translate(883.2 1487.7) rotate(-90) scale(1 1.2)" text-anchor="middle">4.12</text>
<text transform="translate(883.2 1538.83) rotate(-90) scale(1 1.2)" text-anchor="middle">1.37</text>
<text transform="translate(883.2 1589.97) rotate(-90) scale(1 1.2)" text-anchor="middle">1.20</text>
<text transform="translate(883.2 1641.1) rotate(-90) scale(1 1.2)" text-anchor="middle">0.46</text>
<text transform="translate(883.2 1692.23) rotate(-90) scale(1 1.2)" text-anchor="middle">0.15</text>
<text transform="translate(883.2 1743.37) rotate(-90) scale(1 1.2)" text-anchor="middle">0.10</text>
<text transform="translate(883.2 1794.5) rotate(-90) scale(1 1.2)" text-anchor="middle">0</text>
<text transform="translate(935.55 1829.5) rotate(-90) scale(1 1.2)" text-anchor="end">0</text>
<text transform="translate(983.45 1829.5) rotate(-90) scale(1 1.2)" text-anchor="end">4.12</text>
<text transform="translate(1031.35 1829.5) rotate(-90) scale(1 1.2)" text-anchor="end">12</text>
<text transform="translate(1079.25 1829.5) rotate(-90) scale(1 1.2)" text-anchor="end">37</text>
<text transform="translate(1127.15 1829.5) rotate(-90) scale(1 1.2)" text-anchor="end">79</text>
<text transform="translate(1175.05 1829.5) rotate(-90) scale(1 1.2)" text-anchor="end">111</text>
<text transform="translate(1222.95 1829.5) rotate(-90) scale(1 1.2)" text-anchor="end">333</text>
<text transform="translate(1270.85 1829.5) rotate(-90) scale(1 1.2)" text-anchor="end">1000</text>
<text transform="translate(1318.75 1829.5) rotate(-90) scale(1 1.2)" text-anchor="end">3000</text>
<text transform="translate(1366.65 1829.5) rotate(-90) scale(1 1.2)" text-anchor="end">9000</text>
</g>
<rect x="904.6" y="1457.2" width="385.2" height="360.6" fill="none" stroke="#000" stroke-width="3.2"/>
<rect x="1094" y="1613.6" width="47.6" height="53.8" fill="none" stroke="#000" stroke-width="3.2"/>
<linearGradient id="gf" x1="0" y1="0" x2="0" y2="1"><stop offset="0" stop-color="#ff0000"/><stop offset="0.04" stop-color="#ff230f"/><stop offset="0.08" stop-color="#ff381d"/><stop offset="0.12" stop-color="#ff482a"/><stop offset="0.17" stop-color="#ff5535"/><stop offset="0.21" stop-color="#ff6240"/><stop offset="0.25" stop-color="#ff6d4c"/><stop offset="0.29" stop-color="#ff7857"/><stop offset="0.33" stop-color="#ff8262"/><stop offset="0.38" stop-color="#ff8c6d"/><stop offset="0.42" stop-color="#ff9678"/><stop offset="0.46" stop-color="#ffa083"/><stop offset="0.5" stop-color="#ffa98f"/><stop offset="0.54" stop-color="#ffb29a"/><stop offset="0.58" stop-color="#ffbca6"/><stop offset="0.62" stop-color="#ffc5b1"/><stop offset="0.67" stop-color="#ffcebd"/><stop offset="0.71" stop-color="#ffd7c9"/><stop offset="0.75" stop-color="#ffe0d5"/><stop offset="0.79" stop-color="#ffe9e1"/><stop offset="0.83" stop-color="#fff2ed"/><stop offset="0.88" stop-color="#fffbfa"/><stop offset="0.92" stop-color="#fbfffa"/><stop offset="0.96" stop-color="#f5fff0"/><stop offset="1" stop-color="#eeffe7"/></linearGradient>
<rect x="1389.3" y="1510.7" width="31.7" height="107.5" fill="url(#gf)"/>
<text transform="translate(1391 1500.6) scale(1.04 1)" font-family="'DejaVu Sans',Verdana,sans-serif" font-size="16">Cytotoxicity (%)</text>
<text transform="translate(1432.9 1540.8)" font-family="'DejaVu Sans',Verdana,sans-serif" font-size="14.5">75</text>
<text transform="translate(1432.9 1565.1)" font-family="'DejaVu Sans',Verdana,sans-serif" font-size="14.5">50</text>
<text transform="translate(1432.9 1588.8)" font-family="'DejaVu Sans',Verdana,sans-serif" font-size="14.5">25</text>
<text transform="translate(1432.9 1612.3)" font-family="'DejaVu Sans',Verdana,sans-serif" font-size="14.5">0</text>
</g>
<g id="panel-c">
<rect x="99" y="726.3" width="473.3" height="418.9" fill="#fff"/>
<clipPath id="cpc"><rect x="99" y="726.3" width="473.3" height="418.9"/></clipPath>
<g clip-path="url(#cpc)"><g fill-rule="evenodd"><path d="M294.9 745L308.6 743.6L321.3 743L359.5 743.4L378.6 745.5L394.4 749.7L404 753.4L413.5 758.4L432.6 771.1L442.1 778.2L450 785.6L455.1 791.9L458.7 798.1L461.1 804.4L462.8 813.8L463.3 829.4L464.5 841.9L464 854.4L461.2 863.8L451.6 879.7L448.7 885.7L445.8 898.2L445.3 909L446.6 916.9L453.4 935.7L455.9 945.1L458.4 970.1L459.5 976.3L469 1001.4L471.7 1010.7L473.3 1023.3L472.5 1038.9L469.7 1051.4L464.9 1063.9L457 1079.5L448.5 1093.2L439.7 1104.6L432.6 1111.6L423 1117.9L413.5 1122L404 1124.5L391.3 1126.4L350 1130.4L327.7 1131.1L311.8 1130.3L286.4 1127.4L254.6 1124.7L235.5 1121.6L219.7 1117.4L203.8 1111.3L178.3 1098.9L168.8 1092.8L162.5 1087.2L156.3 1079.5L151.4 1070.2L145.4 1051.4L138.4 1032.6L135 1020.1L132.5 1004.5L131.7 992L131.4 963.8L128.3 935.7L127.2 916.9L127.2 898.2L129 863.8L127.5 841.9L127.6 832.5L129.1 823.1L132.8 813.8L136.7 807.5L141.8 801.2L154.9 788.7L165.6 781.1L178.3 774.8L187.9 771.4L197.4 768.8L232.4 761.3L267.3 750.3L280 747.4Z" fill="#ffeeee"/><path d="M317.1 751.2L346.8 751L365.8 752L381.7 754.7L390.8 757.5L397.6 760.2L404.7 763.7L413.5 769.1L427.5 779.4L434.5 785.6L439.9 791.9L443.9 798.1L446.5 804.4L448.1 810.6L448.9 820L449.3 838.8L448.2 851.3L445.5 860.7L436.7 879.4L434.5 885.7L432.5 895.1L431.6 907.6L432.6 917.3L439.9 945.1L443.6 976.3L450.5 1001.4L452.5 1010.7L453.3 1017L453.6 1026.4L451.7 1042L448.1 1054.5L442.5 1067L434.7 1079.5L426.2 1089.5L416.7 1097.6L407.2 1103.2L397.6 1107L384.9 1110.1L365.8 1112.8L343.6 1114.5L327.7 1114.5L308.6 1113.2L280 1109.4L261 1105.7L241.9 1100.2L226 1093.5L213.3 1086.7L202 1079.5L194.5 1073.3L187.9 1065.3L179.8 1051.4L171.4 1032.6L165.9 1017L162.9 1004.5L160.8 988.9L158.7 960.7L155.5 929.4L154.5 913.8L154.3 898.2L154.8 866.9L154.5 845L155 835.6L157.5 823.1L159.8 816.9L163 810.6L169.5 801.2L178.3 792.6L187.9 786.5L197.2 782.5L235.5 771.2L261 762L276.9 757.2L295.9 753.3Z" fill="#ffdddd"/><path d="M300.7 760.6L324.5 758.4L353.1 758.4L372.2 760.5L388.1 764.8L397.6 769L404.8 773.1L413.8 779.4L421.1 785.6L426.8 791.9L431.1 798.1L434 804.4L435.8 810.6L436.8 816.9L437.2 826.3L437 835.6L436 845L433 857.5L425.7 876.3L422.6 885.7L420.3 898.2L419.8 907.6L421 920.1L426.5 948.2L429.5 976.3L435.8 1010.7L436.4 1023.3L435.1 1035.8L431.9 1048.3L428.3 1057.6L423.3 1067L416.4 1076.4L410.2 1082.7L400.8 1089.3L391.3 1093.8L381.7 1096.7L365.8 1099.4L350 1100.6L334.1 1100.7L315 1099.6L295.9 1097.1L280 1093.9L264.1 1089.1L251.4 1083.8L238.7 1076.9L228.8 1070.2L221.5 1063.9L213 1054.5L206.5 1045.1L199.7 1032.6L193 1017L189.1 1004.5L185.7 985.7L180.6 942L178.2 916.9L177.1 898.2L176.5 854.4L176.8 841.9L178.5 829.4L182.6 816.9L187.9 807.5L193.4 801.2L197.4 797.9L206.9 792.7L270.5 767.9L286.4 763.4Z" fill="#ffcccc"/><path d="M310.4 766.8L334.1 765.2L356.3 765.7L372.2 768L381.7 770.5L388.1 772.8L400.8 779.6L408.7 785.6L413.5 790.3L417.3 795L421.1 801.2L423.7 807.5L425.2 813.8L425.9 820L426 829.4L424.2 845L420.9 857.5L411.4 885.7L409.4 895.1L408.4 904.4L409 916.9L412.7 942L415.2 973.2L419.8 1007.6L419.9 1020.1L418.3 1032.6L414.9 1045.1L411 1054.5L405.6 1063.9L400.6 1070.2L394.4 1075.9L388.1 1080L381.7 1082.7L372.2 1085.1L356.3 1086.9L340.4 1087.1L321.3 1086L305.5 1083.9L292.7 1081.4L283.2 1078.6L271.1 1073.3L261 1067.3L252.2 1060.8L242.3 1051.4L234.7 1042L228.6 1032.6L222 1020.1L216.9 1007.6L213 995.1L209.5 979.5L205.2 954.5L200.7 923.2L198.7 904.4L197.4 882.5L196.8 854.4L197.4 841.9L199.6 829.4L203.1 820L209.3 810.6L216 804.4L225.5 798.1L237.1 791.9L261 780.7L276.9 774.5L292.7 770Z" fill="#ffbbbb"/><path d="M321.2 773.1L340.4 772.2L359.5 773.2L375.4 776.2L388.1 780.9L397.6 786.8L406.1 795L411.6 804.4L413.7 810.6L414.9 816.9L415.1 829.4L412.9 845L409.5 857.5L399.9 885.7L397.7 895.1L396.6 904.4L396.9 916.9L399.7 942L400.4 973.2L403.4 1004.5L403.1 1013.9L401.1 1026.4L398.3 1035.8L394.4 1044.9L390.8 1051.4L384.9 1059L379.3 1063.9L373.7 1067L365.8 1069.5L359.5 1070.5L346.8 1071.3L330.9 1070.5L315 1068.2L302.3 1065L291.8 1060.8L281.5 1054.5L273.7 1048.1L265.1 1038.9L258.2 1029.5L250.9 1017L243.6 1001.4L237.7 985.7L232.4 968L227.6 948.2L222.8 924.5L219.7 904.2L216.8 873.2L216.4 860.7L216.7 848.1L217.8 838.8L220.3 829.4L223 823.1L226.9 816.9L235.8 807.5L243.8 801.2L259 791.9L270.5 786L280 782L292.7 778L305.5 775.2Z" fill="#ffaaaa"/><path d="M309.6 782.5L327.7 780.2L346.8 779.7L362.7 781.1L369.9 782.5L378.6 785.1L388.1 789.8L394.4 795L397 798.1L399 801.2L401.9 807.5L403.9 816.9L404 829.4L401.4 845L397.6 858.1L386.4 888.8L384.2 898.2L383.3 904.4L383.2 916.9L385 932.6L385.3 938.8L382.5 970.1L382.5 982.6L383.9 1001.4L382.9 1010.7L381 1017L378.3 1023.3L374.7 1029.5L369 1036.5L365.8 1039.4L359.5 1043.4L353.1 1045.8L346.8 1047L340.4 1047.3L330.9 1046.4L324.5 1045L315 1041.4L308.6 1037.9L301.7 1032.6L295.5 1026.4L289.6 1018.5L270.5 987.5L264.1 975.1L257.8 960.2L251.4 942.1L246 923.2L241.6 904.4L238.3 885.7L236.3 863.8L236.3 854.4L236.9 845L239.5 832.5L241.9 826.3L245.3 820L250.1 813.8L256.2 807.5L263.9 801.2L273.5 795L280 791.5L289.6 787.6L299.1 784.8Z" fill="#ff9999"/><path d="M325.1 788.7L340.4 787.8L356.3 788.5L369 790.9L378.6 794.4L383.9 798.1L388.5 804.4L390.9 810.6L392.4 820L392.3 826.3L391.3 835.6L388.1 848.9L382.6 863.8L371.2 888.8L367.1 901.3L365 913.8L363.9 935.7L362.7 942.3L359.8 951.3L353.1 966.7L346.8 977.3L343.6 980.9L340.4 983.4L337.2 984.9L334.1 985.6L330.9 985.5L324.5 983.9L318.2 980.6L311.8 976.2L305.5 970.7L299.1 964.1L292.7 956.2L286.4 946.7L276.9 929.1L266.7 904.4L260.4 882.5L258.1 870L257.2 860.7L257.4 845L259.5 832.5L261.7 826.3L265.1 820L272.6 810.6L283.2 801.9L292.7 796.7L307.8 791.9Z" fill="#ff8888"/><path d="M331.1 798.1L343.6 797.7L353.1 798.5L362.7 800.7L369 803.6L373.5 807.5L376.9 813.8L378.4 820L378.5 829.4L376 841.9L371.1 854.4L364.1 866.9L353.1 882.3L343.6 894.1L334.1 903.4L327.7 906.9L321.3 908.3L318.2 908.1L311.8 906.2L305.5 902.4L302.3 899.8L295.9 893.1L289.6 883.8L284.5 873.2L280.6 860.7L278.8 848.1L279.1 838.8L281.2 829.4L284.1 823.1L288.5 816.9L295.1 810.6L302.3 806.2L311.8 802.3L321.3 799.7Z" fill="#ff7777"/><path d="M331.9 813.8L337.2 813.4L343.6 813.8L346.8 814.5L352.2 816.9L355.8 820L357.7 823.1L358.7 826.3L358.9 832.5L357.4 838.8L354.5 845L350 851.2L346.8 854.4L342.7 857.5L337.2 860.5L330.9 862.4L324.5 862.5L318.2 860.6L315 858.6L310.8 854.4L308.6 851L306.5 845L306 841.9L306.1 835.6L307.7 829.4L309.4 826.3L311.9 823.1L315 820.4L321.3 816.7Z" fill="#ff6666"/><path d="M98.9 726.2L572.4 726.2L572.4 1145.2L484.3 1145.2L477.2 1129.6L475.5 1120.2L475.7 1113.9L476.7 1107.7L479.3 1098.3L483.4 1086.6L493.6 1063.9L497 1054.5L499 1045.1L499.5 1032.6L498.5 1023.3L495.2 1010.7L491.6 1001.4L482.8 982.6L479.3 973.2L477.1 963.8L473.7 938.8L471.7 932.6L465.4 916.9L463.8 910.7L463.4 904.4L464.7 895.1L468.7 885.7L480.9 866.9L483.4 857.5L483.8 848.1L480.3 813.8L477.5 801.2L474.7 795L470.6 788.7L465.2 782.5L458.7 776.2L445.3 766L423 751.9L409.1 745L394.4 739.7L378.6 736.2L362.7 734.6L334.1 734L311.8 734.3L292.7 735.9L273.7 738.6L261 741.2L226 749.6L187.9 755.7L168.8 760L156.1 764L141.4 770L98.9 792.5Z" fill="#f6fff6"/><path d="M120.6 726.2L283.6 726.2L216.5 735.2L191.1 736.9L156.1 738L143.4 737.5L134.5 735.6L127.5 731.8ZM380.3 726.2L572.4 726.2L572.4 1085.2L567 1076.4L556.5 1061.2L535.7 1023.3L512 988.7L504.7 976.3L501.7 970.1L498.3 960.7L492.2 935.7L486.3 916.9L484.9 907.6L485.8 898.2L489.2 888.8L500.7 866.9L503.5 857.5L504.7 848.1L504.4 835.6L502 820L498.8 807.5L493.6 795L486.6 784.3L476.1 773.1L461.2 761L446.3 751.2L429.4 741.8L413.5 734.9L397.6 729.7Z" fill="#edffed"/><path d="M425 726.2L572.4 726.2L572.4 1009.1L553.3 994.9L543.8 987.2L534.3 977.8L528 970.1L522 960.7L517.5 951.3L512.9 938.8L509.2 926.3L507.1 916.9L506.3 910.7L506.4 904.4L507.4 898.2L510.9 888.8L524.1 863.8L527.1 854.4L528.3 845L527.9 835.6L525.5 823.1L521.4 810.6L515.6 798.1L507.8 785.6L500.3 776.2L491.2 766.8L480.2 757.3L467.5 747.9L454.8 740.1L439.9 732.5Z" fill="#e4ffe4"/><path d="M459.6 726.2L572.4 726.2L572.4 979.2L562.9 972.6L555.9 967L549.4 960.7L543.8 953.9L540 948.2L535.3 938.8L532 929.4L529.8 920.1L529.1 907.6L530.8 898.2L534.3 891.2L547 873.2L550.8 866.9L553.4 860.7L554.8 854.4L555 845L553.6 835.6L551 826.3L546.1 813.8L539.6 801.2L531.5 788.7L521.7 776.2L510.1 763.7L496.6 751.2L483.4 740.7L471.2 732.5Z" fill="#dbffdb"/><path d="M489 726.2L572.4 726.2L572.4 816.6L565.4 804.4L559.1 795L549.3 782.5L538.3 770L526 757.5L512.5 745L499.3 733.9ZM570.2 888.8L572.4 885.8L572.4 950.5L566 944.1L560.6 935.7L558.4 929.4L557.1 920.1L558.2 910.7L560.4 904.4L563.7 898.2Z" fill="#d2ffd2"/><path d="M513.6 726.2L572.4 726.2L572.4 781.6L561.4 770L545.4 754.3L528.3 738.7Z" fill="#c9ffc9"/><path d="M537.3 726.2L572.4 726.2L572.4 757.2Z" fill="#c0ffc0"/><path d="M561.3 726.2L572.4 726.2L572.4 735.6Z" fill="#b7ffb7"/></g></g>
<rect x="121.3" y="706.4" width="13.73" height="16.9" fill="#66ff66"/>
<rect x="134.62" y="706.4" width="13.73" height="16.9" fill="#6fff6f"/>
<rect x="147.95" y="706.4" width="13.73" height="16.9" fill="#78ff78"/>
<rect x="161.28" y="706.4" width="13.73" height="16.9" fill="#81ff81"/>
<rect x="174.6" y="706.4" width="13.73" height="16.9" fill="#8aff8a"/>
<rect x="187.93" y="706.4" width="13.73" height="16.9" fill="#93ff93"/>
<rect x="201.25" y="706.4" width="13.73" height="16.9" fill="#9cff9c"/>
<rect x="214.57" y="706.4" width="13.73" height="16.9" fill="#a5ffa5"/>
<rect x="227.9" y="706.4" width="13.73" height="16.9" fill="#aeffae"/>
<rect x="241.23" y="706.4" width="13.73" height="16.9" fill="#b7ffb7"/>
<rect x="254.55" y="706.4" width="13.73" height="16.9" fill="#c0ffc0"/>
<rect x="267.88" y="706.4" width="13.73" height="16.9" fill="#c9ffc9"/>
<rect x="281.2" y="706.4" width="13.73" height="16.9" fill="#d2ffd2"/>
<rect x="294.53" y="706.4" width="13.73" height="16.9" fill="#dbffdb"/>
<rect x="307.85" y="706.4" width="13.73" height="16.9" fill="#e4ffe4"/>
<rect x="321.18" y="706.4" width="13.73" height="16.9" fill="#edffed"/>
<rect x="334.5" y="706.4" width="13.73" height="16.9" fill="#f6fff6"/>
<rect x="361.15" y="706.4" width="13.73" height="16.9" fill="#ffeeee"/>
<rect x="374.48" y="706.4" width="13.73" height="16.9" fill="#ffdddd"/>
<rect x="387.8" y="706.4" width="13.73" height="16.9" fill="#ffcccc"/>
<rect x="401.13" y="706.4" width="13.73" height="16.9" fill="#ffbbbb"/>
<rect x="414.45" y="706.4" width="13.73" height="16.9" fill="#ffaaaa"/>
<rect x="427.78" y="706.4" width="13.73" height="16.9" fill="#ff9999"/>
<rect x="441.1" y="706.4" width="13.73" height="16.9" fill="#ff8888"/>
<rect x="454.43" y="706.4" width="13.73" height="16.9" fill="#ff7777"/>
<rect x="467.75" y="706.4" width="13.73" height="16.9" fill="#ff6666"/>
<rect x="481.08" y="706.4" width="13.73" height="16.9" fill="#ff5555"/>
<rect x="494.4" y="706.4" width="13.73" height="16.9" fill="#ff4444"/>
<rect x="507.73" y="706.4" width="13.73" height="16.9" fill="#ff3333"/>
<rect x="521.05" y="706.4" width="13.73" height="16.9" fill="#ff2222"/>
<rect x="534.38" y="706.4" width="13.33" height="16.9" fill="#ff1111"/>
<g font-family="'Liberation Sans',Arial,Helvetica,sans-serif" font-size="16.8" text-anchor="middle">
<text transform="translate(145.3 702) scale(1.25 1)">-30</text>
<text transform="translate(212.4 702) scale(1.25 1)">-20</text>
<text transform="translate(274.5 702) scale(1.25 1)">-10</text>
<text transform="translate(353.2 702) scale(1.25 1)">0</text>
<text transform="translate(413.4 702) scale(1.25 1)">10</text>
<text transform="translate(478 702) scale(1.25 1)">20</text>
<text transform="translate(536.5 702) scale(1.25 1)">30</text>
</g>
<rect x="99" y="726.3" width="473.3" height="418.9" fill="none" stroke="#000" stroke-width="4"/>
<path d="M100.3 1146.5V1154.7M194.2 1146.5V1154.7M288.1 1146.5V1154.7M382 1146.5V1154.7M475.9 1146.5V1154.7M569.8 1146.5V1154.7M91.4 726.5H97.8M91.4 796.5H97.8M91.4 866.5H97.8M91.4 936.5H97.8M91.4 1006.5H97.8M91.4 1076.5H97.8M91.4 1146.5H97.8" stroke="#000" stroke-width="1.3" fill="none"/>
<g font-family="'Liberation Sans',Arial,Helvetica,sans-serif">
<text transform="translate(109.25 1158.8) rotate(-90) scale(1 1.19)" font-size="21" text-anchor="end">0</text>
<text transform="translate(203.15 1158.8) rotate(-90) scale(1 1.19)" font-size="21" text-anchor="end">4.12</text>
<text transform="translate(297.05 1158.8) rotate(-90) scale(1 1.19)" font-size="21" text-anchor="end">12</text>
<text transform="translate(390.95 1158.8) rotate(-90) scale(1 1.19)" font-size="21" text-anchor="end">37</text>
<text transform="translate(484.85 1158.8) rotate(-90) scale(1 1.19)" font-size="21" text-anchor="end">79</text>
<text transform="translate(578.75 1158.8) rotate(-90) scale(1 1.19)" font-size="21" text-anchor="end">111</text>
<text transform="translate(81.4 724.9) rotate(-90) scale(1 1)" font-size="21.9" text-anchor="middle">12.3</text>
<text transform="translate(81.4 794.5) rotate(-90) scale(1 1)" font-size="21.9" text-anchor="middle">4.12</text>
<text transform="translate(81.4 864.1) rotate(-90) scale(1 1)" font-size="21.9" text-anchor="middle">1.37</text>
<text transform="translate(81.4 933.7) rotate(-90) scale(1 1)" font-size="21.9" text-anchor="middle">0.46</text>
<text transform="translate(81.4 1003.3) rotate(-90) scale(1 1)" font-size="21.9" text-anchor="middle">0.15</text>
<text transform="translate(81.4 1072.9) rotate(-90) scale(1 1)" font-size="21.9" text-anchor="middle">0.10</text>
<text transform="translate(81.4 1146.2) rotate(-90) scale(1 1)" font-size="21.9" text-anchor="middle">0</text>
</g>
</g>
<g id="panel-d">
<rect x="904.6" y="726.3" width="472.7" height="422.1" fill="#fff"/>
<clipPath id="cpd"><rect x="904.6" y="726.3" width="472.7" height="422.1"/></clipPath>
<g clip-path="url(#cpd)"><g fill-rule="evenodd"><path d="M1160 732.4L1167.9 731L1177.4 730.2L1193.3 730.3L1209.2 732.6L1225.1 737L1234.6 740.3L1245.4 745L1269.6 757.1L1288.6 767.8L1298.2 772.2L1326.8 783L1361.9 792.3L1369.1 795.4L1373.6 798.6L1374.4 799.7L1375.5 801.7L1375.5 804.9L1374.2 808L1371.8 811.2L1364.4 817.5L1336.3 837.2L1317 852.2L1310.2 858.5L1304.7 864.8L1301.3 870.8L1300.6 874.2L1301.4 880.5L1305 890L1310.5 899.4L1316.1 905.7L1323.6 912.3L1339.5 924.4L1371.9 943.6L1377.6 948.2L1377.6 1111L1368.1 1115L1358.5 1117.6L1317.2 1123.9L1266.4 1128.4L1193.3 1132.9L1174.2 1133.5L1126.5 1133.5L1005.8 1131.1L993.1 1130L983.5 1128.2L974 1125L961.3 1119.5L954.9 1115.6L949 1110.6L940.8 1101.1L936.7 1094.8L933.2 1085.4L928 1060.2L926 1047.6L925.5 1038.1L925.8 1025.5L927.4 1006.6L927 978.2L928.1 943.6L925.5 908.9L927.4 874.2L926.5 852.2L926.5 839.6L927.9 811.2L930.2 801.7L933.2 795.4L937.5 789.1L945.4 781.6L953.7 776.5L964.5 772.1L977.2 769.6L1012.1 766.6L1036.2 763.9L1085.2 755.3L1110.7 748.2L1142.4 737.2Z" fill="#ffeeee"/><path d="M1163.6 738.7L1177.4 737.1L1193.3 737.6L1209.2 740.7L1225.1 746.1L1237.8 751.8L1256.8 762.3L1282.3 777.9L1319.8 798.6L1324.4 801.7L1327.8 804.9L1329.6 808L1329.6 811.2L1328.5 814.3L1326.5 817.5L1318.1 826.9L1295 847.9L1285.4 857.8L1282.3 862.1L1279.5 867.9L1279.2 874.2L1280.8 880.5L1289.7 905.7L1295 914.4L1304.5 925.4L1314 935L1342.3 959.3L1350.1 968.8L1355.4 978.2L1359.5 987.7L1363.5 1000.3L1365.8 1009.7L1368.1 1022.9L1369 1031.8L1369.1 1041.2L1367.8 1050.7L1365.7 1057L1360 1066.5L1351.8 1075.9L1343 1082.2L1330.4 1088.5L1312.9 1094.8L1295 1099.6L1272.7 1104.1L1247.3 1108L1190.1 1115L1174.2 1116L1158.3 1116.2L1012.1 1112.7L996.3 1111L989.9 1109.4L983.5 1106.7L977.2 1103L970.5 1098L964.2 1091.7L959.8 1085.4L957.1 1079.1L955.6 1072.8L951.8 1047.6L951.1 1031.8L952 994L952.1 956.2L950.3 915.2L951.5 874.2L949.9 833.3L950.3 823.8L951.5 814.3L953.2 808L955.8 801.7L959.8 795.4L965.8 789.1L970.8 785.6L977.2 782.9L986.7 781.1L1040.7 774.2L1082.1 765.6L1094.8 762.2L1107.5 758L1148.8 742.7Z" fill="#ffdddd"/><path d="M1164.7 745L1177.4 743.4L1183.8 743.5L1193.3 744.6L1209.2 748.5L1225.1 754.8L1234.6 759.7L1247.1 767.1L1274.5 786L1290.2 798.6L1295.7 804.9L1297.5 808L1298.4 811.2L1298.4 814.3L1296.6 820.6L1290.5 830.1L1275.9 847.5L1270.1 855.3L1265.5 864.8L1264.5 871.1L1265.8 880.5L1270.5 896.3L1273 908.9L1274.9 915.2L1301.3 971.9L1303.8 978.2L1306.4 987.7L1308.2 997.1L1309 1006.6L1308.5 1034.9L1307.2 1044.4L1303.7 1053.9L1299.7 1060.2L1297 1063.3L1290 1069.6L1282.3 1074.3L1271.4 1079.1L1253.1 1085.4L1231.4 1091.2L1209.2 1095.6L1186.9 1098.9L1171 1100L1158.3 1100L1091.6 1095.6L1028 1094.7L1009 1092.5L1002.6 1090.9L996.3 1088.5L991.2 1085.4L987.8 1082.2L985.4 1079.1L982 1072.8L979.8 1066.5L978.4 1060.2L976.4 1044.4L975.4 1016L976 968.8L972.9 924.6L974.8 890L975 877.4L974.2 864.8L971.4 842.7L970.8 833.3L971.7 820.6L974.9 811.2L979.2 804.9L982.4 801.7L986.9 798.6L993.5 795.4L1005.8 791.9L1053.5 782.3L1082.1 774.8L1107.5 766.2L1148.8 749.8Z" fill="#ffcccc"/><path d="M1166.4 751.3L1177.4 749.9L1191.7 751.3L1206 755.2L1221.9 762L1231.1 767.1L1241 773.4L1257.5 786L1264.4 792.3L1270.3 798.6L1274.6 804.9L1276.1 808L1277.2 814.3L1276.9 817.5L1275.1 823.8L1272 830.1L1256.1 855.3L1252.5 864.8L1251.5 871.1L1251.6 877.4L1252.8 886.8L1262.3 946.7L1262.9 959.3L1262.7 975.1L1264.8 997.1L1264.8 1006.6L1263.9 1016L1261.8 1025.5L1258.4 1034.9L1252 1047.6L1247.5 1053.9L1241.3 1060.2L1232.5 1066.5L1221.9 1071.9L1212.4 1075.3L1196.9 1079.1L1183.8 1081.3L1171 1082.4L1155.2 1081.6L1136.5 1079.1L1091.6 1071.4L1075.7 1070.1L1040.7 1069L1031.2 1067.6L1024.9 1065.6L1020.9 1063.3L1017.5 1060.2L1015.1 1057L1011.9 1050.7L1008.6 1038.1L1005.2 1016L1004.4 1006.6L1004.7 987.7L1004.1 975.1L997.7 927.8L997.7 921.5L1000.8 896.3L1001.5 883.7L1000.1 867.9L995.1 845.9L993.6 836.4L993.8 826.9L995.6 820.6L999.4 815.2L1004 811.2L1009.1 808L1016 804.9L1028 800.7L1063 790.4L1085.2 783L1107.5 774.5L1148.8 756.9Z" fill="#ffbbbb"/><path d="M1170.9 757.6L1177.4 757.1L1183.8 757.4L1196.5 760L1212.4 766L1225.8 773.4L1238.9 782.8L1245.9 789.1L1251.7 795.4L1257.9 804.9L1259.2 808L1260.3 814.3L1259.7 820.6L1257.7 826.9L1254.8 833.3L1242.6 855.3L1238.8 864.8L1237.3 871.1L1236.6 877.4L1236.5 886.8L1239.3 927.8L1239.1 946.7L1232.6 1000.3L1230.5 1009.7L1228.3 1016L1223.7 1025.5L1218.7 1032.9L1212.4 1040L1206 1045.3L1196.7 1050.7L1188.3 1053.9L1177.4 1056.2L1167.9 1056.7L1155.2 1055.2L1139.3 1050.9L1124.9 1044.4L1115 1038.1L1107.6 1031.8L1101.7 1025.5L1096.8 1019.2L1088.4 1005.8L1085.2 1002L1078.9 997.2L1066.2 989.6L1059.8 985L1053.5 979.1L1048 971.9L1043.9 964.4L1040.4 956.2L1037.2 946.7L1034.8 937.2L1033.4 924.6L1037 896.3L1036.8 883.7L1035.5 877.4L1033.4 871.1L1024.3 849L1022.5 842.7L1021.6 836.4L1022.4 830.1L1023.6 826.9L1025.7 823.8L1032.9 817.5L1043.9 811.2L1097.9 787.7L1145.6 765.7L1158.6 760.8Z" fill="#ffaaaa"/><path d="M1164.2 767.1L1174.2 765.3L1180.6 765.2L1186.9 765.9L1193.3 767.3L1201.9 770.2L1214.9 776.5L1221.9 781.1L1228.2 786L1237.4 795.4L1243 804.9L1244.9 811.2L1245.2 814.3L1244.9 820.6L1242 830.1L1237.8 838.5L1224.7 861.6L1220.5 871.1L1218.6 877.4L1217.6 883.7L1217.2 893.1L1218.2 924.6L1217.5 937.2L1214 956.2L1206 980.8L1199.6 995.7L1196.5 1000.3L1193.3 1003.8L1190.1 1006.6L1183.8 1010.6L1177.4 1013L1171 1013.9L1164.7 1013L1158.3 1010.7L1152 1007.1L1145.6 1002.2L1107.2 965.6L1098.6 956.2L1094.1 949.9L1089.5 940.4L1087 930.9L1086.4 921.5L1087.1 905.7L1086.9 896.3L1086 886.8L1083.7 877.4L1080.7 871.1L1078.3 867.9L1066.3 855.3L1061.5 849L1058.2 842.7L1056.9 836.4L1057.9 830.1L1061.6 823.8L1068.3 817.5L1077.1 811.2L1098.3 798.6L1133.3 779.7L1148.8 772.5Z" fill="#ff9999"/><path d="M1161.7 776.5L1174.2 774.2L1183.8 774.4L1193.7 776.5L1206 781.7L1215.5 787.9L1223.4 795.4L1225.8 798.6L1229.3 804.9L1230.4 808L1231.4 814.3L1230.1 823.8L1226.2 833.3L1218.7 845.1L1202.2 867.9L1198.5 874.2L1194.4 883.7L1191.5 893.1L1190.4 899.4L1189.9 908.9L1190.1 930.9L1189.1 937.2L1187.8 940.4L1183.8 946.6L1177.4 952.5L1171 955.4L1167.9 955.8L1161.5 955L1155.2 952.2L1148.2 946.7L1142.4 939.6L1139.4 934.1L1136.9 927.8L1128.9 896.3L1122.6 880.5L1119 874.2L1114.5 867.9L1095.7 845.9L1091.9 839.6L1090 833.3L1090.6 826.9L1093.8 820.6L1099.4 814.3L1106.5 808L1119.2 798.6L1133.9 789.1L1148.8 781.4Z" fill="#ff8888"/><path d="M1162.9 786L1171 784.2L1180.6 784L1190.1 785.7L1198.7 789.1L1206 793.8L1212.4 800.3L1215.2 804.9L1216.4 808L1217.3 814.3L1216.4 820.6L1212.4 829.6L1207.5 836.4L1199.6 844.9L1186.9 855.8L1177.4 862.3L1167.9 866.5L1161.5 867.1L1155.2 865.6L1148.8 862.4L1139.3 855.3L1129.7 846.7L1125.9 842.7L1121.3 836.4L1118.8 830.1L1118.5 826.9L1118.8 823.8L1121.1 817.5L1125.5 811.2L1131.4 804.9L1138.8 798.6L1148.4 792.3L1155.2 788.8Z" fill="#ff7777"/><path d="M1163.2 798.6L1171 796.1L1177.4 795.7L1186.9 797.7L1194.2 801.7L1197.4 804.9L1199.3 808L1200.2 811.2L1199.6 817.5L1196.3 823.8L1193.3 827.2L1186.9 831.9L1180.6 835L1174.2 837L1167.9 837.6L1164.7 837.4L1158.3 835.7L1153.8 833.3L1148.8 828.3L1146.7 823.8L1146.2 820.6L1147.2 814.3L1150.7 808L1153.7 804.9L1157.6 801.7Z" fill="#ff6666"/><path d="M904.1 726.1L1152.2 726.1L1110.7 738.2L1088.4 743.2L1056.6 747.6L1015.3 754.5L996.3 756.5L967.7 758.6L945.4 762L932.7 764.9L920 768.7L910.5 772.8L904.1 777ZM1220.8 726.1L1377.6 726.1L1377.6 781.6L1364.9 777.6L1336.3 770.5L1323.6 766.4L1304.5 758.8L1279.1 746.1L1263.2 739.4L1241 731.5ZM1376.8 833.3L1377.6 832.8L1377.6 927.5L1366.9 921.5L1357.6 915.2L1349.8 908.9L1343.3 902.6L1338.4 896.3L1335.2 890L1334.3 886.8L1333.7 880.5L1334.6 874.2L1336.4 867.9L1337.9 864.8L1342.4 858.5L1348.7 852.2L1355.4 846.9Z" fill="#f6fff6"/><path d="M904.1 726.1L1112.6 726.1L1101.1 728.4L1088.4 730.1L1053.5 732.8L1018.5 740.7L1002.6 743.5L986.7 745L967.7 745.4L935.9 745L926.3 744.1L920 742.7L913.6 740.4L904.1 735ZM1270.2 726.1L1377.6 726.1L1377.6 768.9L1355.4 762.7L1340.4 757.6L1323.6 750.1L1288.6 731.8L1282 729.3ZM1376 855.3L1377.6 854.2L1377.6 908.6L1369.8 902.6L1363.9 896.3L1360.2 890L1359.2 886.8L1358.5 880.5L1359.6 874.2L1362.7 867.9L1368.1 861.6Z" fill="#edffed"/><path d="M950 726.1L1014.9 726.1L999.4 729.4L986.7 730.8L967.7 729.4ZM1311.8 726.1L1377.6 726.1L1377.6 757.1L1361.7 752.3L1351.9 748.2Z" fill="#e4ffe4"/><path d="M1341.3 726.1L1377.6 726.1L1377.6 744.6L1361.7 738.2Z" fill="#dbffdb"/><path d="M1367.5 726.1L1377.6 726.1L1377.6 731Z" fill="#d2ffd2"/></g></g>
<rect x="926.1" y="706.5" width="13.79" height="16.9" fill="#66ff66"/>
<rect x="939.49" y="706.5" width="13.79" height="16.9" fill="#6fff6f"/>
<rect x="952.88" y="706.5" width="13.79" height="16.9" fill="#78ff78"/>
<rect x="966.27" y="706.5" width="13.79" height="16.9" fill="#81ff81"/>
<rect x="979.66" y="706.5" width="13.79" height="16.9" fill="#8aff8a"/>
<rect x="993.05" y="706.5" width="13.79" height="16.9" fill="#93ff93"/>
<rect x="1006.44" y="706.5" width="13.79" height="16.9" fill="#9cff9c"/>
<rect x="1019.83" y="706.5" width="13.79" height="16.9" fill="#a5ffa5"/>
<rect x="1033.22" y="706.5" width="13.79" height="16.9" fill="#aeffae"/>
<rect x="1046.62" y="706.5" width="13.79" height="16.9" fill="#b7ffb7"/>
<rect x="1060.01" y="706.5" width="13.79" height="16.9" fill="#c0ffc0"/>
<rect x="1073.4" y="706.5" width="13.79" height="16.9" fill="#c9ffc9"/>
<rect x="1086.79" y="706.5" width="13.79" height="16.9" fill="#d2ffd2"/>
<rect x="1100.18" y="706.5" width="13.79" height="16.9" fill="#dbffdb"/>
<rect x="1113.57" y="706.5" width="13.79" height="16.9" fill="#e4ffe4"/>
<rect x="1126.96" y="706.5" width="13.79" height="16.9" fill="#edffed"/>
<rect x="1140.35" y="706.5" width="13.79" height="16.9" fill="#f6fff6"/>
<rect x="1167.13" y="706.5" width="13.79" height="16.9" fill="#ffeeee"/>
<rect x="1180.52" y="706.5" width="13.79" height="16.9" fill="#ffdddd"/>
<rect x="1193.91" y="706.5" width="13.79" height="16.9" fill="#ffcccc"/>
<rect x="1207.3" y="706.5" width="13.79" height="16.9" fill="#ffbbbb"/>
<rect x="1220.69" y="706.5" width="13.79" height="16.9" fill="#ffaaaa"/>
<rect x="1234.08" y="706.5" width="13.79" height="16.9" fill="#ff9999"/>
<rect x="1247.47" y="706.5" width="13.79" height="16.9" fill="#ff8888"/>
<rect x="1260.87" y="706.5" width="13.79" height="16.9" fill="#ff7777"/>
<rect x="1274.26" y="706.5" width="13.79" height="16.9" fill="#ff6666"/>
<rect x="1287.65" y="706.5" width="13.79" height="16.9" fill="#ff5555"/>
<rect x="1301.04" y="706.5" width="13.79" height="16.9" fill="#ff4444"/>
<rect x="1314.43" y="706.5" width="13.79" height="16.9" fill="#ff3333"/>
<rect x="1327.82" y="706.5" width="13.79" height="16.9" fill="#ff2222"/>
<rect x="1341.21" y="706.5" width="13.39" height="16.9" fill="#ff1111"/>
<g font-family="'Liberation Sans',Arial,Helvetica,sans-serif" font-size="16.8" text-anchor="middle">
<text transform="translate(948.8 702) scale(1.25 1)">-30</text>
<text transform="translate(1017.6 702) scale(1.25 1)">-20</text>
<text transform="translate(1080.2 702) scale(1.25 1)">-10</text>
<text transform="translate(1158.6 702) scale(1.25 1)">0</text>
<text transform="translate(1218.8 702) scale(1.25 1)">10</text>
<text transform="translate(1283.4 702) scale(1.25 1)">20</text>
<text transform="translate(1342.6 702) scale(1.25 1)">30</text>
</g>
<rect x="904.6" y="726.3" width="472.7" height="422.1" fill="none" stroke="#000" stroke-width="4"/>
<path d="M906.8 1150V1156.5M1000.34 1150V1156.5M1093.88 1150V1156.5M1187.42 1150V1156.5M1280.96 1150V1156.5M1374.5 1150V1156.5M896.5 726.8H903M896.5 797.07H903M896.5 867.33H903M896.5 937.6H903M896.5 1007.87H903M896.5 1078.13H903M896.5 1148.4H903" stroke="#000" stroke-width="1.3" fill="none"/>
<g font-family="'Liberation Sans',Arial,Helvetica,sans-serif">
<text transform="translate(915.75 1158.4) rotate(-90) scale(1 1.19)" font-size="21" text-anchor="end">0</text>
<text transform="translate(1009.29 1158.4) rotate(-90) scale(1 1.19)" font-size="21" text-anchor="end">4.12</text>
<text transform="translate(1102.83 1158.4) rotate(-90) scale(1 1.19)" font-size="21" text-anchor="end">12</text>
<text transform="translate(1196.37 1158.4) rotate(-90) scale(1 1.19)" font-size="21" text-anchor="end">37</text>
<text transform="translate(1289.91 1158.4) rotate(-90) scale(1 1.19)" font-size="21" text-anchor="end">79</text>
<text transform="translate(1383.45 1158.4) rotate(-90) scale(1 1.19)" font-size="21" text-anchor="end">111</text>
<text transform="translate(883.7 726.8) rotate(-90) scale(1 1)" font-size="21.9" text-anchor="middle">12.3</text>
<text transform="translate(883.7 794.77) rotate(-90) scale(1 1)" font-size="21.9" text-anchor="middle">4.12</text>
<text transform="translate(883.7 864.73) rotate(-90) scale(1 1)" font-size="21.9" text-anchor="middle">1.37</text>
<text transform="translate(883.7 934.7) rotate(-90) scale(1 1)" font-size="21.9" text-anchor="middle">0.46</text>
<text transform="translate(883.7 1004.67) rotate(-90) scale(1 1)" font-size="21.9" text-anchor="middle">0.15</text>
<text transform="translate(883.7 1074.63) rotate(-90) scale(1 1)" font-size="21.9" text-anchor="middle">0.10</text>
<text transform="translate(883.7 1148.4) rotate(-90) scale(1 1)" font-size="21.9" text-anchor="middle">0</text>
</g>
</g>
<g id="panel-g">
<rect x="133" y="1999.6" width="439.4" height="392.2" fill="#fff"/>
<clipPath id="cpg"><rect x="133" y="1999.6" width="439.4" height="392.2"/></clipPath>
<g clip-path="url(#cpg)"><g fill-rule="evenodd"><path d="M155.4 1999.9L225.5 1999.9L221.3 2002.9L215.4 2008.5L207.3 2020.3L203.8 2029.1L200.7 2043.7L197.7 2050.4L194.7 2054.7L189.8 2058.3L185.9 2059.9L180 2061.4L174.1 2061.7L165.2 2060L159.3 2057L154.8 2052.5L152 2046.6L150.4 2037.9L150.6 2029.1L151.7 2020.3L154.8 2005.7ZM303 2198.5L321.8 2196.9L339.5 2196.6L353.9 2198.5L363.8 2201.4L382.9 2210.2L391.7 2216L410.1 2230.6L420.6 2242.3L424.6 2248.1L428.4 2256.9L429.4 2262.7L429 2268.6L427.5 2274.4L415.4 2309.4L410.4 2319L404.5 2326.6L395.6 2334L378.6 2344.5L369 2349.7L360.2 2353.5L339.5 2360.4L327.7 2363.6L315.9 2365.6L301.1 2366.9L292.2 2367.2L280.4 2366.7L259.7 2364.2L242 2363L227.2 2360.5L203.6 2353.9L194.7 2350.6L185.9 2345.9L176.4 2338.6L168.5 2329.9L163.4 2321.1L156.6 2303.6L153.2 2289L149.4 2259.8L148.6 2242.3L149.1 2236.4L151.2 2227.7L153.4 2223.3L156.3 2219.5L160.6 2216L166.3 2213.1L175.8 2210.2L185.9 2208.3L227.2 2204.4L268.6 2202.9Z" fill="#ffeeee"/><path d="M280.7 2210.2L295.2 2208.6L307 2208.1L336.6 2209L345.4 2210L354.3 2212.5L360.2 2215.1L377.9 2226L384.2 2230.6L390.2 2236.4L392.7 2239.7L395.7 2245.2L397.5 2251L398.1 2259.8L397.1 2265.6L395.1 2271.5L381.3 2297.8L375.3 2306.5L370.2 2312.4L363.6 2318.2L355.2 2324L345 2329.9L333.6 2335.1L321.8 2339L312.9 2340.9L301.1 2342.4L286.3 2343L271.6 2342.6L259.7 2341.6L245 2338.6L227.2 2333.9L215.6 2329.9L209.5 2326.8L197.7 2318.2L191.8 2312.6L186.4 2306.5L180 2296.9L174.1 2283.8L169.6 2268.6L168 2254L168.7 2242.3L170.4 2236.4L173.3 2230.6L178.7 2224.8L183.3 2221.8L191.1 2218.9L203.6 2216L224.3 2213.5L236.1 2212.8L259.7 2212.7Z" fill="#ffdddd"/><path d="M287.2 2218.9L298.1 2218.5L307 2219.1L333.6 2223.2L342.5 2225.6L351.3 2229.9L360.3 2236.4L366.6 2242.3L370.7 2248.1L372.7 2254L372.7 2259.8L371.5 2265.6L367.8 2274.4L360.8 2286.1L354.3 2294.4L348 2300.7L339.5 2307.4L331.4 2312.4L324.7 2315.6L315.9 2318.8L307 2320.9L298.1 2322.1L286.3 2322.6L274.5 2322L265.6 2320.8L253.8 2318L242 2314.1L233.1 2310.7L224.3 2306.5L215.4 2300.8L209.5 2296L200.7 2287.4L195.1 2280.2L191.7 2274.4L188.3 2265.6L186.8 2256.9L186.8 2251L187.9 2245.2L190.4 2239.4L192.5 2236.4L197.7 2231.8L206.6 2227.5L221.3 2224.4L236.1 2223.1L259.7 2222.7Z" fill="#ffcccc"/><path d="M274.3 2230.6L289.3 2229.4L304.1 2230.6L321.8 2234.7L333.6 2239.9L337.3 2242.3L342.5 2246.7L345.6 2251L346.6 2254L346.9 2256.9L346.3 2262.7L342.4 2271.5L333.5 2283.2L327.7 2288.7L321.8 2293.1L312.2 2297.8L298.1 2301L289.3 2301.7L283.4 2301.5L268.6 2299L259.7 2296.4L250.9 2293.1L233.1 2284.6L226.4 2280.2L221.3 2276L217 2271.5L213.2 2265.6L211.1 2259.8L210.8 2254L212.5 2248.7L214.9 2245.2L218.2 2242.3L223.5 2239.4L232.7 2236.4Z" fill="#ffbbbb"/><path d="M265.5 2245.2L277.5 2242.8L283.4 2242.5L289.3 2243.1L297.2 2245.2L303.2 2248.1L306.9 2251L308.8 2254L309.7 2256.9L309.5 2259.8L308.3 2262.7L304.1 2267.2L298.1 2270.5L292.2 2272.7L283.4 2274.2L277.5 2273.9L271.6 2272.4L262.7 2268.9L257.3 2265.6L253.8 2262.4L252.1 2259.8L251.4 2256.9L252.1 2254L254.3 2251L258.1 2248.1Z" fill="#ffaaaa"/><path d="M365.4 2002.8L376.9 1999.9L572.9 1999.9L572.9 2391.2L524.4 2391.2L516.8 2388.2L510.9 2385.1L504.9 2380.8L500.3 2376.6L492.5 2367.8L478.1 2347.4L473.5 2338.6L466.6 2321.1L458.4 2303.6L456 2294.8L455.2 2286.1L455.4 2280.2L457.3 2268.6L457.3 2259.8L455.3 2251L451.8 2244.1L447.5 2239.4L443.6 2236.4L425.2 2226.2L401.4 2210.2L386.8 2201.8L372 2194.8L366.1 2192.4L354.3 2189.2L345.4 2187.7L336.6 2187.2L310 2189.2L283.4 2193.8L268.6 2195.4L242 2195.8L197.7 2197.7L174.1 2197.8L147.5 2196.8L138.1 2195.6L135.7 2194.6L132.7 2192.5L132.7 2090.1L134.8 2084.6L138.6 2080.2L141.6 2078.6L147.5 2076.7L171.1 2072.7L180 2070.5L188.8 2067.3L197.7 2062L201.5 2058.3L205.3 2052.5L209.4 2043.7L213.7 2032L219 2023.3L221.3 2020.3L227.2 2014.9L233.1 2011.2L239.1 2008.6L245 2006.9L253.8 2005.7L265.6 2005.6L280.4 2006.4L295.2 2009.1L323.7 2017.4L330.6 2018.2L336.6 2017.6L342.5 2015.4L349.5 2011.6L357.2 2006.3Z" fill="#eefeee"/><path d="M499.7 2002.8L504.8 1999.9L572.9 1999.9L572.9 2357.8L564 2359L555.2 2359.4L546.3 2359.1L537.4 2357.7L528.6 2355.3L522.7 2352.8L513.8 2347.6L507.9 2343.1L500.5 2335.7L493.1 2326L485.5 2312.4L480.3 2300.7L477.5 2291.9L476.3 2286.1L474.5 2262.7L473.2 2254L470.6 2245.2L465.3 2236.4L459.3 2230.6L451.8 2225.7L431.1 2216.7L402.3 2201.4L377.5 2189.7L366.1 2184.9L357.2 2182.2L348.4 2180.4L339.5 2179.7L330.6 2180L315.9 2181.6L283.4 2187.1L268.6 2188.7L218.4 2189.6L188.8 2188.3L174.1 2185.7L168.2 2183.8L162.3 2180.9L154.9 2175.1L152.5 2172.2L149 2166.3L145.8 2157.6L143.5 2148.8L141.9 2140.1L141.4 2131.3L142 2122.5L144.2 2110.9L146.8 2102.1L149.7 2096.3L153.4 2091.9L159.3 2087.3L165.2 2084.1L188.8 2074L194.7 2070.7L200.7 2066.5L206 2061.2L210.2 2055.4L219.6 2037.9L224.3 2030.8L230.2 2024.8L239.1 2019.4L247.9 2016.5L256.8 2015.4L268.6 2015L280.4 2015.8L295.2 2019.1L327.7 2030.6L339.5 2032.6L348.4 2032.4L380.9 2029.2L395.6 2028.4L410.4 2028.6L442.9 2030.4L451.3 2029.1L458.3 2026.2Z" fill="#ddfddd"/><path d="M564 2017.4L572.9 2016.8L572.9 2185.4L567 2193.5L562.7 2201.4L560.8 2207.2L560.2 2213.1L560.8 2218.9L562.7 2224.8L565.9 2230.6L572.9 2240.2L572.9 2326.6L564 2330.4L555.2 2332.6L549.3 2333.3L540.4 2333.1L534.5 2332.2L528.6 2330.4L522.7 2327.8L516.8 2323.8L511.1 2318.2L506.6 2312.4L502 2304.6L498.7 2297.8L495.5 2289L492.8 2277.3L489.7 2251L488.3 2245.2L486.2 2239.4L482.7 2233.5L477 2227.7L469.5 2222.6L462.4 2218.9L431.1 2206.6L366.1 2178L357.2 2174.9L348.4 2173L339.5 2172.6L330.6 2173.3L310 2176.3L280.4 2181.5L262.7 2183L242 2183.3L221.3 2182.8L203.6 2181.2L188.8 2178.7L182.9 2177L177 2174.2L173.7 2172.2L168.2 2167.6L164.5 2163.4L160.7 2157.6L155.7 2145.9L154.2 2140.1L152.9 2131.3L153.1 2119.6L154 2113.8L155.8 2107.9L158.8 2102.1L160.9 2099.2L165.2 2094.8L171.1 2090.4L191.8 2078.6L203.6 2070.3L212.2 2061.2L224.3 2042.7L230.2 2035.2L233.6 2032L239.1 2028.2L247.9 2024.5L256.8 2022.7L265.6 2022.2L274.5 2022.6L286.3 2024.5L295.2 2027.1L304.1 2030.5L348.4 2049.7L354.3 2051.5L360.2 2052.2L366.1 2051.9L386.8 2048.5L398.6 2047.5L413.4 2047.4L440 2048.6L451.8 2048L466.5 2044.4L504.9 2032.5Z" fill="#ccfccc"/><path d="M257.4 2029.1L265.6 2028.5L274.5 2029L283.4 2030.6L295.2 2034.4L307 2039.7L319.8 2046.6L347.9 2064.1L351.3 2065.6L357.2 2067L363.1 2067.2L369 2066.6L389.7 2062.4L404.5 2060.7L451.8 2059.6L490.2 2052.9L507.9 2051.1L519.7 2051L528.6 2051.7L537.4 2053.3L546.3 2056.1L555.2 2060.6L561.1 2064.9L567 2070.5L572.9 2077.8L572.9 2152.9L567 2163.4L559.2 2175.1L534.5 2207.3L528.6 2213.6L522.7 2218L516.8 2220.1L513.8 2220.3L504.9 2219.6L496.1 2217.9L445.9 2203L386.8 2180.7L360.2 2168.1L351.3 2165.7L345.4 2165.2L336.6 2165.8L280.4 2175.9L268.6 2177.3L256.8 2177.8L236.1 2177.4L218.4 2175.8L203.6 2173L191.8 2169.3L182.9 2164.5L177 2159.5L170.8 2151.7L166.4 2143L163.7 2134.2L162.6 2125.5L163.1 2116.7L165.8 2107.9L169.7 2102.1L175.7 2096.3L200.7 2078.7L209.5 2071L218 2061.2L230.2 2044.6L236.1 2038.5L245 2032.7L250.9 2030.5ZM519.6 2245.2L522.7 2243.2L525.6 2242.6L528.6 2242.8L531.5 2243.5L537.4 2246.5L546.6 2254L551.5 2259.8L555 2265.6L557.3 2271.5L558.6 2277.3L558.2 2286.1L556 2291.9L554 2294.8L551 2297.8L546.3 2300.6L543.4 2301.6L537.4 2302.1L531.8 2300.7L528.6 2299L522.7 2293.7L519.7 2289.9L515.9 2283.2L513.5 2277.3L512.1 2271.5L511.7 2262.7L513.8 2253.6L516.8 2248.2Z" fill="#bbfbbb"/><path d="M258 2034.9L265.6 2034.3L274.5 2035L283.4 2037L293.8 2040.8L304.1 2045.8L314.9 2052.5L342.5 2072.6L351.3 2076.9L360.2 2079L366.1 2079.3L375 2078.4L398.6 2073L413.4 2070.7L425.2 2069.8L448.8 2069.1L487.2 2065.2L499 2065.2L507.9 2066L516.8 2067.6L525.6 2070.3L536.7 2075.8L546.3 2083.7L549.7 2087.5L553.7 2093.3L557.8 2102.1L560.6 2113.8L561.2 2125.5L559.8 2137.1L556.3 2148.8L550.8 2160.5L545.4 2169.3L537.4 2179.6L528.6 2188.5L522.7 2193L513.8 2197.7L504.9 2200.3L496.1 2201.5L484.3 2201.3L469.5 2199.3L451.8 2195.5L437 2191.3L386.8 2174L382.8 2172.2L363.1 2160.5L357.2 2158.1L351.3 2156.9L345.4 2156.9L339.5 2157.7L286.3 2169.4L274.5 2171.4L262.7 2172.5L247.9 2172.6L233.1 2171.5L218.4 2169L206.6 2165.6L197.7 2161.7L188.8 2156L182.9 2150.4L177.7 2143L173.9 2134.2L172.1 2125.5L172.4 2116.7L174.1 2110.9L177.6 2105L183 2099.2L203.6 2082.5L213.9 2072.9L233.1 2049.5L239 2043.7L247.9 2038L253.8 2035.8Z" fill="#aafaaa"/><path d="M257.5 2040.8L265.6 2040L274.5 2040.9L283.4 2043.3L292.2 2046.9L302.3 2052.5L310.8 2058.3L333.6 2077.7L342.5 2084.3L351.3 2089.3L360.2 2092.1L366.1 2092.7L375 2091.7L407.5 2081.6L419.3 2079.3L431.1 2078L472.5 2075.4L484.3 2075.3L499 2077L510.9 2080.2L520 2084.6L528.6 2091L535.6 2099.2L540.2 2107.9L542.8 2116.7L544 2128.4L542.8 2140.1L540.3 2148.8L536.4 2157.6L530.9 2166.3L523.3 2175.1L516.8 2180.4L510.8 2183.9L502 2187.3L493.1 2189.1L484.3 2189.9L469.5 2189.3L454.7 2187L434 2182.1L411.2 2175.1L389.7 2167L383.7 2163.4L366.1 2150.7L360.2 2148L354.3 2146.7L348.4 2146.7L342.5 2147.7L321.8 2154.8L300.3 2160.5L280.4 2165L265.6 2167.2L253.8 2167.6L239.1 2166.5L224.3 2163.8L214 2160.5L206.6 2157.1L198.2 2151.7L191.7 2145.9L187.1 2140.1L184.1 2134.2L181.7 2125.5L181.4 2119.6L182.5 2113.8L185.2 2107.9L189.7 2102.1L215.4 2077.7L239.1 2051L247.9 2044.4L253.8 2041.8Z" fill="#99f999"/><path d="M257.6 2046.6L265.6 2045.8L271.6 2046.3L277.5 2047.7L289.3 2052.4L299.2 2058.3L306.9 2064.1L316.5 2072.9L357.2 2115.4L360.2 2118.2L363.1 2118.8L366.1 2117.5L383.4 2105L397.7 2096.3L410.4 2090.6L422.2 2087.2L440 2084.8L469.5 2083.5L484.3 2084.6L493.1 2086.4L499 2088.3L507.9 2092.6L513.8 2096.8L519.7 2102.9L524.7 2110.9L527.7 2119.6L528.9 2128.4L528.9 2134.2L528 2140.1L525.4 2148.8L520.8 2157.6L516.8 2163.1L510.9 2168.9L506.1 2172.2L499.9 2175.1L493.1 2177.3L484.3 2178.9L475.4 2179.5L457.7 2178.4L440 2175.3L418.4 2169.3L401.5 2162.7L392.7 2157.6L385.8 2151.7L377.7 2143L366.1 2129L363.1 2125.8L360.2 2124.3L354.3 2126.6L327 2143L318.8 2147.2L304.1 2152.9L283.4 2158.8L268.6 2161.5L253.8 2162.3L245 2161.7L236.1 2160.3L221.3 2156L212.5 2151.8L206.6 2147.9L200.9 2143L196.1 2137.1L193 2131.3L191.3 2125.5L190.8 2119.6L191.8 2113.8L194.5 2107.9L198.7 2102.1L221.3 2078.1L239.1 2058.3L247.9 2050.9L253.8 2047.8Z" fill="#88f888"/><path d="M259 2052.5L262.7 2051.9L268.6 2052.1L274.5 2053.3L280.4 2055.2L291.7 2061.2L302.9 2070L313.7 2081.7L323.8 2096.3L327 2102.1L329.3 2107.9L330.3 2113.8L330.3 2116.7L328.9 2122.5L325.6 2128.4L323.2 2131.3L317 2137.1L313 2140.1L304.1 2145.1L289.3 2151L276 2154.7L262.7 2156.7L250.9 2156.7L239.1 2154.9L230.2 2152.4L221.3 2148.5L212.9 2143L206.9 2137.1L203 2131.3L200.7 2124.6L200.3 2116.7L201.9 2110.9L206.9 2102.1L213.9 2093.3L233.1 2072L242 2062.8L247.9 2057.8L253.8 2054.2ZM430.6 2093.3L440 2091.9L454.7 2091L472.5 2091.5L481.3 2093L487.2 2094.8L496.1 2098.8L500.9 2102.1L506.9 2107.9L510.8 2113.8L513.2 2119.6L514.8 2128.4L514.3 2137.1L512.7 2143L510.1 2148.8L506.1 2154.7L499 2161.1L493.1 2164.5L488.4 2166.3L475.4 2169.1L463.6 2169.5L445.9 2167.6L428.1 2163.5L413.4 2157.7L403.6 2151.7L397.6 2145.9L395.5 2143L392.5 2137.1L391.1 2131.3L391 2128.4L391.3 2125.5L393.1 2119.6L396.4 2113.8L398.7 2110.9L404.5 2105.3L408.8 2102.1L419.3 2096.7Z" fill="#77f777"/><path d="M253.8 2061.2L259.7 2059L262.7 2058.6L268.6 2058.8L277.5 2061.2L283.4 2064.1L289.3 2067.9L298.3 2075.8L303.3 2081.7L307.4 2087.5L313.2 2099.2L315.4 2107.9L315.3 2116.7L313.6 2122.5L310.2 2128.4L304.9 2134.2L296.8 2140.1L286.3 2145.1L274.9 2148.8L265.6 2150.6L256.8 2151.1L247.9 2150.4L239.1 2148.5L230.2 2145.2L221.5 2140.1L215.4 2134.3L211.5 2128.4L209.5 2122.5L209.2 2116.7L210.3 2110.9L212.9 2105L216.6 2099.2L226 2087.5L239.1 2073.2L247.9 2065.2ZM438.9 2099.2L454.7 2097.9L463.6 2098.3L469.5 2099L475.4 2100.5L481.3 2102.7L485.8 2105L490.2 2108.1L493.1 2110.9L497.4 2116.7L499.8 2122.5L500.7 2128.4L500.3 2134.2L498.5 2140.1L496.1 2144.4L493.1 2148L487.2 2152.9L478.4 2156.9L469.5 2158.8L457.7 2159.2L442.9 2157.5L431.6 2154.7L422.2 2150.6L415.3 2145.9L410.1 2140.1L408.5 2137.1L406.8 2131.3L406.9 2125.5L408.7 2119.6L410.1 2116.7L414.5 2110.9L422 2105L431.1 2101Z" fill="#66f666"/><path d="M258.7 2067.1L265.6 2066.2L274.5 2068.1L283.4 2072.8L289.3 2077.7L295.3 2084.6L300.3 2093.3L303.1 2102.1L303.7 2110.9L303 2116.7L300.9 2122.5L297.1 2128.4L290.8 2134.2L283.4 2138.7L274.5 2142.2L265.6 2144.3L256.8 2144.9L247.9 2144L242 2142.5L235.7 2140.1L230.2 2136.9L224.3 2131.8L221.6 2128.4L218.8 2122.5L217.9 2116.7L218.6 2110.9L220.8 2105L224.2 2099.2L230.7 2090.4L238.6 2081.7L245 2075.6L252.5 2070ZM435.5 2107.9L445.9 2105.6L457.7 2105.4L466.5 2107L475.3 2110.9L479.1 2113.8L481.7 2116.7L484.7 2122.5L485.4 2125.5L485.1 2131.3L482.6 2137.1L478.4 2141.8L472.5 2145.3L466.5 2147.2L460.6 2148.1L451.8 2148L442.9 2146.8L437 2145.1L431.1 2142.4L425.2 2137.7L422.6 2134.2L421.4 2131.3L420.6 2125.5L422.1 2119.6L425.2 2114.9L429.8 2110.9Z" fill="#55f555"/><path d="M258.9 2075.8L265.6 2075L271.6 2076.2L277.5 2079L283.4 2083.8L288.5 2090.4L291.4 2096.3L292.9 2102.1L293.3 2107.9L292.8 2113.8L290.9 2119.6L287.2 2125.5L283.4 2129.2L277.5 2133.1L271.6 2135.7L265.6 2137.3L256.8 2138L250.9 2137.4L245 2135.9L241 2134.2L236.1 2131.3L232.7 2128.4L228.7 2122.5L227.6 2119.6L226.9 2113.8L229 2105L232 2099.2L236.1 2093.3L242 2086.9L247.9 2081.7L253.8 2077.9ZM449.8 2113.8L454.7 2114.1L457.7 2115L461.9 2116.7L465.4 2119.6L467 2122.5L467.3 2125.5L466.4 2128.4L464 2131.3L457.7 2134.2L448.8 2134.3L442.9 2132.6L440 2130.9L437.6 2128.4L436.3 2125.5L436.2 2122.5L437.4 2119.6L440.5 2116.7L442.9 2115.5Z" fill="#44f444"/><path d="M253.8 2087.5L259.7 2085.4L262.7 2085.1L268.6 2086L272 2087.5L275.9 2090.4L278.5 2093.3L281.6 2099.2L282.5 2102.1L283 2107.9L282.1 2113.8L280.4 2117.8L277.5 2122L274.5 2124.7L271.6 2126.6L265.6 2129L256.8 2130L250.9 2129.1L247.9 2128.1L243.2 2125.5L240.1 2122.5L238.1 2119.6L236.9 2116.7L236.3 2110.9L236.8 2107.9L239 2102.1L245 2094.2L249.3 2090.4Z" fill="#33f333"/><path d="M255.1 2099.2L259.7 2097.8L262.7 2097.9L265.6 2099L268.6 2101.6L270.3 2105L270.7 2107.9L270.4 2110.9L269.1 2113.8L266.6 2116.7L262.7 2118.9L259.7 2119.7L256.8 2119.7L253.8 2118.8L250.5 2116.7L248.4 2113.8L247.6 2110.9L247.8 2107.9L249 2105L251.1 2102.1Z" fill="#22f222"/></g></g>
<rect x="153.3" y="1979.2" width="14.02" height="17.2" fill="#00f000"/>
<rect x="166.92" y="1979.2" width="14.02" height="17.2" fill="#11f111"/>
<rect x="180.54" y="1979.2" width="14.02" height="17.2" fill="#22f222"/>
<rect x="194.16" y="1979.2" width="14.02" height="17.2" fill="#33f333"/>
<rect x="207.78" y="1979.2" width="14.02" height="17.2" fill="#44f444"/>
<rect x="221.4" y="1979.2" width="14.02" height="17.2" fill="#55f555"/>
<rect x="235.02" y="1979.2" width="14.02" height="17.2" fill="#66f666"/>
<rect x="248.64" y="1979.2" width="14.02" height="17.2" fill="#77f777"/>
<rect x="262.26" y="1979.2" width="14.02" height="17.2" fill="#88f888"/>
<rect x="275.88" y="1979.2" width="14.02" height="17.2" fill="#99f999"/>
<rect x="289.5" y="1979.2" width="14.02" height="17.2" fill="#aafaaa"/>
<rect x="303.12" y="1979.2" width="14.02" height="17.2" fill="#bbfbbb"/>
<rect x="316.74" y="1979.2" width="14.02" height="17.2" fill="#ccfccc"/>
<rect x="330.36" y="1979.2" width="14.02" height="17.2" fill="#ddfddd"/>
<rect x="343.98" y="1979.2" width="14.02" height="17.2" fill="#eefeee"/>
<rect x="371.22" y="1979.2" width="14.02" height="17.2" fill="#ffeeee"/>
<rect x="384.84" y="1979.2" width="14.02" height="17.2" fill="#ffdddd"/>
<rect x="398.46" y="1979.2" width="14.02" height="17.2" fill="#ffcccc"/>
<rect x="412.08" y="1979.2" width="14.02" height="17.2" fill="#ffbbbb"/>
<rect x="425.7" y="1979.2" width="14.02" height="17.2" fill="#ffaaaa"/>
<rect x="439.32" y="1979.2" width="14.02" height="17.2" fill="#ff9999"/>
<rect x="452.94" y="1979.2" width="14.02" height="17.2" fill="#ff8888"/>
<rect x="466.56" y="1979.2" width="14.02" height="17.2" fill="#ff7777"/>
<rect x="480.18" y="1979.2" width="14.02" height="17.2" fill="#ff6666"/>
<rect x="493.8" y="1979.2" width="14.02" height="17.2" fill="#ff5555"/>
<rect x="507.42" y="1979.2" width="14.02" height="17.2" fill="#ff4444"/>
<rect x="521.04" y="1979.2" width="14.02" height="17.2" fill="#ff3333"/>
<rect x="534.66" y="1979.2" width="14.02" height="17.2" fill="#ff2222"/>
<rect x="548.28" y="1979.2" width="13.62" height="17.2" fill="#ff1111"/>
<g font-family="'DejaVu Sans',Verdana,sans-serif" font-size="16.5" text-anchor="middle">
<text transform="translate(158.5 1975.8) scale(1 1)">-30</text>
<text transform="translate(229.7 1975.8) scale(1 1)">-20</text>
<text transform="translate(301.2 1975.8) scale(1 1)">-10</text>
<text transform="translate(363.8 1975.8) scale(1 1)">0</text>
<text transform="translate(422.6 1975.8) scale(1 1)">10</text>
<text transform="translate(487.6 1975.8) scale(1 1)">20</text>
<text transform="translate(551.6 1975.8) scale(1 1)">30</text>
</g>
<rect x="133" y="1999.6" width="439.4" height="392.2" fill="none" stroke="#000" stroke-width="4"/>
<path d="M132.3 2392.5V2399M195.26 2392.5V2399M258.21 2392.5V2399M321.17 2392.5V2399M384.13 2392.5V2399M447.09 2392.5V2399M510.04 2392.5V2399M573 2392.5V2399M125.5 1999.9H131.5M125.5 2055.86H131.5M125.5 2111.81H131.5M125.5 2167.77H131.5M125.5 2223.73H131.5M125.5 2279.69H131.5M125.5 2335.64H131.5M125.5 2391.6H131.5" stroke="#000" stroke-width="1.3" fill="none"/>
<g font-family="'Liberation Sans',Arial,Helvetica,sans-serif">
<text transform="translate(140.81 2401.3) rotate(-90) scale(1 1.1)" font-size="21.6" text-anchor="end">0</text>
<text transform="translate(203.76 2401.3) rotate(-90) scale(1 1.1)" font-size="21.6" text-anchor="end">4.12</text>
<text transform="translate(266.72 2401.3) rotate(-90) scale(1 1.1)" font-size="21.6" text-anchor="end">12</text>
<text transform="translate(329.68 2401.3) rotate(-90) scale(1 1.1)" font-size="21.6" text-anchor="end">37</text>
<text transform="translate(392.63 2401.3) rotate(-90) scale(1 1.1)" font-size="21.6" text-anchor="end">79</text>
<text transform="translate(455.59 2401.3) rotate(-90) scale(1 1.1)" font-size="21.6" text-anchor="end">111</text>
<text transform="translate(518.55 2401.3) rotate(-90) scale(1 1.1)" font-size="21.6" text-anchor="end">333</text>
<text transform="translate(581.51 2401.3) rotate(-90) scale(1 1.1)" font-size="21.6" text-anchor="end">1000</text>
<text transform="translate(120.8 2000.9) rotate(-90) scale(1 1.05)" font-size="20" text-anchor="middle">12.4</text>
<text transform="translate(120.8 2056.86) rotate(-90) scale(1 1.05)" font-size="20" text-anchor="middle">4.12</text>
<text transform="translate(120.8 2112.81) rotate(-90) scale(1 1.05)" font-size="20" text-anchor="middle">1.37</text>
<text transform="translate(120.8 2168.77) rotate(-90) scale(1 1.05)" font-size="20" text-anchor="middle">1.20</text>
<text transform="translate(120.8 2224.73) rotate(-90) scale(1 1.05)" font-size="20" text-anchor="middle">0.46</text>
<text transform="translate(120.8 2280.69) rotate(-90) scale(1 1.05)" font-size="20" text-anchor="middle">0.15</text>
<text transform="translate(120.8 2336.64) rotate(-90) scale(1 1.05)" font-size="20" text-anchor="middle">0.10</text>
<text transform="translate(120.8 2392.6) rotate(-90) scale(1 1.05)" font-size="20" text-anchor="middle">0</text>
</g>
</g>
<g id="panel-h">
<rect x="883.3" y="1991.4" width="440.1" height="393.4" fill="#fff"/>
<clipPath id="cph"><rect x="883.3" y="1991.4" width="440.1" height="393.4"/></clipPath>
<g clip-path="url(#cph)"><g fill-rule="evenodd"><path d="M911.5 1991.6L964.4 1991.6L960 1997.5L956.7 2006.2L953.4 2029.6L951.1 2038.4L949.6 2041.3L947.2 2044.3L943.2 2047.2L939.8 2048.5L933.9 2049.8L928 2050L922.1 2049.3L916.2 2047.2L913.2 2045.3L908.8 2041.3L906.7 2038.4L905.2 2035.5L903.7 2029.6L903.9 2020.9L905.8 2012.1L910.6 1997.5ZM1090.2 2126.2L1096.4 2124.8L1105.3 2124L1123 2124.5L1143.7 2127.2L1188 2136.4L1214.6 2143.8L1238.2 2152.4L1269 2161.3L1285.3 2167.1L1292.7 2170L1298.2 2173L1301.9 2175.9L1303.5 2178.8L1303.4 2181.7L1302.2 2184.7L1297.4 2190.5L1274.9 2208.1L1270.7 2212L1250 2237.8L1235.9 2257.8L1223.7 2281.2L1214.8 2301.7L1212.2 2310.5L1208 2330.9L1206 2336.8L1202.8 2343L1196.9 2349.7L1185 2357.6L1176.2 2361.1L1161.4 2364.4L1123 2368.7L1075.7 2368.8L1066.9 2368.4L1058 2367.2L1037.3 2362.3L1025.5 2358.3L1003.6 2348.5L993 2345.1L981.2 2343.7L957.6 2343.8L948.7 2343.2L942.8 2341.7L936.9 2338.7L933.9 2336.6L928.9 2330.9L925.1 2325.1L922.1 2318.9L916.3 2301.7L912.6 2281.2L910.1 2252L910.5 2237.3L911.2 2231.5L912.9 2225.6L915.7 2219.8L917.8 2216.9L924.4 2211L931 2207L936.9 2204.4L942.8 2202.5L957.6 2199.7L984.1 2193L1004.8 2183.8L1010.7 2179.4L1028.8 2164.2L1041.6 2152.5L1066.9 2135L1075.7 2130.7Z" fill="#ffeeee"/><path d="M1097.2 2129.1L1105.3 2128.2L1114.1 2128.2L1137.8 2131L1176.2 2139.1L1205.1 2146.6L1255.8 2164.2L1261.9 2166.8L1267.1 2170L1270.4 2173L1272.8 2175.9L1274.3 2178.8L1275 2181.7L1275 2184.7L1274.4 2187.6L1271.7 2193.5L1261.9 2205.7L1253.1 2219.8L1228.9 2254.9L1194.7 2313.4L1185 2332.1L1181.2 2336.8L1174.1 2342.6L1167.3 2346.6L1161.4 2348.7L1143.7 2352.3L1120 2353L1078.7 2351.7L1066.9 2350.1L1055.1 2346.8L1040.3 2340.8L1031.4 2335.8L1020.3 2328L996 2309.3L987.1 2303.4L981.2 2300.2L964.4 2292.9L957.6 2289L954.6 2286.6L949.9 2281.2L946.3 2275.4L945.2 2272.4L941.3 2252L940.5 2240.3L941.9 2228.6L944.4 2222.7L946.8 2219.8L951.7 2217.3L960.5 2215.1L969.4 2212.2L987.1 2203.4L1001.9 2195.1L1007.8 2190.5L1020.7 2175.9L1043.2 2156.5L1048.7 2152.5L1072.8 2136.9L1084.6 2132.2Z" fill="#ffdddd"/><path d="M1090.2 2134.9L1096.4 2133.4L1105.3 2132.3L1111.2 2132.1L1120 2132.7L1140.7 2136.1L1176.2 2144.2L1211.6 2154.6L1250 2170L1255.9 2173.4L1258.6 2175.9L1260.3 2178.8L1261 2181.7L1261 2184.7L1259.3 2190.5L1248.3 2211L1202.8 2281.9L1188 2302L1170.3 2323.8L1161.4 2331.1L1155.5 2334.2L1149.6 2336.4L1140.7 2338.4L1128.9 2339.4L1081.6 2338.2L1072.8 2337.1L1063.9 2334.9L1055.1 2331.8L1047.2 2328L1038.3 2322.2L1031.1 2316.3L1022.6 2307.9L1017.4 2301.7L1011.8 2292.9L1000.6 2272.4L989 2254.9L985 2246.1L983.5 2237.3L984.2 2231.5L986 2225.6L990.2 2216.9L992.4 2213.9L1004.8 2203.1L1010.7 2197L1018.8 2184.7L1023.4 2178.8L1031.4 2171.4L1046.2 2159.3L1052.1 2155.1L1072.8 2141.9L1081.4 2137.9Z" fill="#ffcccc"/><path d="M1095.5 2137.9L1102.3 2136.6L1111.2 2136L1127.3 2137.9L1142.1 2140.8L1164.4 2146.2L1193.9 2154.7L1212.3 2161.3L1230.3 2170L1239.2 2175.9L1242.4 2178.8L1244.6 2181.7L1245.8 2184.7L1245.9 2190.5L1244.6 2196.4L1241.5 2205.2L1238.6 2211L1219.5 2243.2L1205.7 2263.8L1196.9 2275.7L1179.1 2296.2L1170.3 2305.1L1161.4 2312.9L1155.5 2317.1L1149.6 2320.3L1137.8 2324.2L1128.9 2325.5L1120 2325.9L1081.6 2324.6L1072.8 2323.2L1063.9 2320.7L1058 2318.3L1052.1 2315.1L1043.2 2308.8L1037.3 2303.4L1031.4 2296.8L1026.5 2290L1018.5 2275.4L1011.5 2260.7L1006.7 2249L1004.1 2240.3L1003.3 2234.4L1003.2 2228.6L1003.9 2222.7L1005.8 2216.9L1016.6 2199.5L1024.4 2184.7L1028.9 2178.8L1035.2 2173L1049.1 2162L1069.8 2148.6L1081.6 2142.4Z" fill="#ffbbbb"/><path d="M1102 2140.8L1108.2 2140.1L1114.1 2140.2L1123 2141.2L1134.8 2143.5L1169.6 2152.5L1196.2 2161.3L1211.6 2168.2L1223.7 2175.9L1229.6 2181.7L1231.5 2184.7L1233.4 2190.5L1233.6 2196.4L1231.6 2205.2L1220.2 2228.6L1215.1 2237.3L1207.4 2249L1199.8 2259.6L1191 2270.5L1176.2 2285.7L1167.3 2293.4L1158.5 2300.1L1149.6 2305.5L1143.7 2308.2L1137.8 2310.2L1128.9 2312.2L1120 2313.1L1111.2 2313.2L1084.6 2311.4L1069.8 2308.2L1061 2304.6L1055.1 2301.3L1047.8 2295.8L1041.8 2290L1037 2284.1L1031.4 2275.6L1026.5 2266.6L1021.3 2254.9L1018.3 2246.1L1016.4 2237.3L1015.7 2225.6L1016.4 2219.8L1018 2213.9L1028.5 2187.6L1032.2 2181.7L1034.7 2178.8L1041.2 2173L1052.1 2164.8L1072.8 2151.7L1087.6 2144.7Z" fill="#ffaaaa"/><path d="M1095.4 2146.6L1108.2 2144.3L1114.1 2144.3L1123 2145.4L1134.8 2147.9L1152.5 2152.5L1180.5 2161.3L1196.9 2168L1205.7 2172.8L1210.3 2175.9L1214.6 2179.5L1219.1 2184.7L1220.8 2187.6L1222.7 2193.5L1223 2199.3L1222.1 2205.2L1218.9 2213.9L1213.8 2225.6L1205.3 2240.3L1191 2259.2L1176.2 2274.3L1161.4 2286.1L1146.6 2294.7L1140.7 2297.2L1131.9 2299.9L1123 2301.4L1114.1 2302.1L1105.3 2301.9L1093.5 2300.8L1075.7 2297.1L1066.9 2293.8L1061 2290.7L1055.1 2286.6L1049.1 2281.2L1040.3 2270.1L1036.3 2263.7L1031.9 2254.9L1029.6 2249L1027.1 2240.3L1025.6 2228.6L1026.3 2216.9L1032 2193.5L1034.4 2187.6L1037.3 2183L1040.8 2178.8L1044.1 2175.9L1063.9 2161.9L1081.6 2151.9Z" fill="#ff9999"/><path d="M1102.3 2149.6L1108.2 2148.8L1114.1 2148.7L1128.9 2151.1L1155.9 2158.3L1180.7 2167.1L1193.9 2173.5L1199.8 2177.4L1205.1 2181.7L1209.9 2187.6L1211.6 2191.1L1213.2 2196.4L1213.4 2202.2L1212.5 2208.1L1209.9 2216.9L1206.1 2225.6L1197.3 2240.3L1185 2255.3L1179.1 2261.3L1170.3 2269.1L1155.5 2279.4L1140.7 2286.6L1131.9 2289.5L1123 2291.2L1108.2 2292.1L1099.4 2291.5L1090.5 2290.1L1075.7 2285.8L1069.8 2283.2L1063.9 2279.7L1058 2275.2L1052.3 2269.5L1043.7 2257.8L1040.3 2251.4L1037.3 2244.2L1034.3 2231.5L1034 2219.8L1036.6 2199.3L1039.3 2190.5L1042.6 2184.7L1044.9 2181.7L1051.4 2175.9L1058 2171L1075.7 2160L1090.5 2153Z" fill="#ff8888"/><path d="M1098.2 2155.4L1105.3 2153.9L1111.2 2153.4L1123 2154.6L1143.7 2159.7L1167.3 2167.6L1182.1 2174.2L1188 2177.6L1193.8 2181.7L1199.8 2188.1L1202.8 2193.2L1203.9 2196.4L1204.8 2202.2L1204.4 2208.1L1203.2 2213.9L1201.2 2219.8L1195.2 2231.5L1185 2245L1173.2 2256.8L1158.5 2267.9L1146.6 2274.4L1131.9 2279.8L1117.1 2282.4L1102.3 2282.3L1087.6 2279.5L1075.7 2275L1069.8 2271.7L1063.9 2267.4L1055.1 2258.5L1050.4 2252L1047.2 2246.1L1042.9 2234.4L1041.2 2222.7L1042 2205.2L1043.6 2196.4L1047.5 2187.6L1052.1 2182L1055.5 2178.8L1067.7 2170L1084.6 2160.6Z" fill="#ff7777"/><path d="M1096.4 2161.3L1108.2 2158.7L1117.1 2158.8L1130.4 2161.3L1149.6 2166.9L1165.8 2173L1177.7 2178.8L1186.1 2184.7L1191 2189.6L1193.6 2193.5L1195 2196.4L1196.5 2202.2L1196.2 2211L1193.5 2219.8L1188.9 2228.6L1182.1 2237.9L1173.2 2247.1L1164.4 2254.4L1152.5 2262.1L1140.7 2267.7L1126 2271.9L1111.2 2273.4L1102.3 2272.9L1096.4 2272L1084.6 2268.6L1078.7 2265.9L1072.8 2262.4L1063.7 2254.9L1058.7 2249L1054.8 2243.2L1051.9 2237.3L1049.9 2231.5L1047.9 2219.8L1048.2 2205.2L1049.3 2199.3L1051.3 2193.5L1054.8 2187.6L1057.3 2184.7L1066.9 2176.6L1081.6 2167.6Z" fill="#ff6666"/><path d="M1096.5 2167.1L1105.3 2164.9L1111.2 2164.3L1120 2164.9L1128.9 2166.6L1141.1 2170L1157.3 2175.9L1169.6 2181.7L1176.2 2186L1181.5 2190.5L1185 2195.1L1187.2 2199.3L1188.5 2205.2L1188.3 2211L1186.7 2216.9L1184 2222.7L1180.2 2228.6L1175.5 2234.4L1170.3 2239.7L1158.5 2249.1L1152.5 2252.8L1143.7 2257.2L1128.9 2262.2L1120.3 2263.7L1114.1 2264.1L1105.3 2263.9L1099.4 2263L1087.6 2259.7L1081.6 2257L1075.7 2253.4L1069.8 2248.7L1064.7 2243.2L1060.6 2237.3L1057.7 2231.5L1055.7 2225.6L1054.3 2216.9L1054.3 2208.1L1055.2 2202.2L1058.5 2193.5L1062.8 2187.6L1066.9 2183.7L1073.2 2178.8L1081.6 2173.7Z" fill="#ff5555"/><path d="M1099.1 2173L1105.3 2171.5L1111.2 2170.9L1117.1 2171.1L1126 2172.4L1137.8 2175.6L1147.1 2178.8L1158.5 2183.8L1165.3 2187.6L1170.3 2191.1L1175.6 2196.4L1178.9 2202.2L1179.7 2205.2L1179.9 2208.1L1179 2213.9L1174.6 2222.7L1167.3 2231.5L1161.4 2236.7L1155.5 2241.1L1143.7 2247.7L1137.8 2250.1L1128.9 2252.7L1120 2254.2L1114.1 2254.6L1102.3 2253.8L1090.5 2250.6L1081.3 2246.1L1072.8 2239.4L1068.4 2234.4L1064.8 2228.6L1062.3 2222.7L1061 2216.9L1060.7 2211L1061.4 2205.2L1064.7 2196.4L1069 2190.5L1072.8 2186.9L1078.7 2182.5L1084.6 2179L1091 2175.9Z" fill="#ff4444"/><path d="M1109.9 2178.8L1117.1 2178.8L1123 2179.6L1137.8 2183.5L1152.5 2190L1162.1 2196.4L1167.2 2202.2L1168.5 2205.2L1169.1 2208.1L1168 2213.9L1164.8 2219.8L1162.5 2222.7L1158.5 2226.9L1152.9 2231.5L1143.7 2237.1L1131.9 2241.7L1120 2244L1108.2 2244.1L1096.4 2241.8L1087.6 2238.3L1078.7 2232.4L1072.7 2225.6L1069.8 2220.4L1068.6 2216.9L1068 2211L1068.3 2208.1L1069.8 2203.2L1071.9 2199.3L1075.7 2194.4L1078.7 2191.6L1087.6 2185.6L1099.4 2180.8Z" fill="#ff3333"/><path d="M1101.4 2190.5L1108.2 2189.3L1117.1 2189.2L1126 2190.6L1134.8 2193.5L1140.7 2196.4L1145.1 2199.3L1148.3 2202.2L1150.4 2205.2L1151.4 2208.1L1151.6 2211L1150.8 2213.9L1146.8 2219.8L1140.7 2224.6L1133.1 2228.6L1123 2231.5L1114.1 2232.2L1105.3 2231.5L1096.4 2229.3L1090.5 2226.8L1084.4 2222.7L1081.6 2219.8L1079.7 2216.9L1078.5 2213.9L1078.3 2211L1078.8 2208.1L1082.1 2202.2L1087.6 2197L1093.5 2193.4Z" fill="#ff2222"/><path d="M995 1994.5L1002.8 1991.6L1323.9 1991.6L1323.9 2140.8L1315 2146.9L1303.2 2151.8L1291.4 2154.1L1282.5 2154.7L1273.7 2154.5L1261.9 2152.7L1244.1 2148.9L1235.3 2146.1L1220.5 2140.3L1191 2131.6L1146.6 2122.4L1123 2119.4L1111.2 2119.2L1099.4 2119.9L1084.6 2123.2L1072.8 2127.1L1066.9 2129.7L1037.3 2150.5L1026.3 2161.3L1013.7 2171.4L1004.8 2176.7L996 2180L984.1 2182.9L966.7 2184.7L939.8 2189.2L916.2 2192.2L907.3 2192.5L901.4 2191.8L895.5 2190.2L889.6 2187.9L883.7 2184.2L883.7 2074.1L885 2070.6L886.9 2067.7L889.6 2065.3L892.6 2063.9L898.5 2062.6L922.1 2060.6L932.2 2058.9L942.8 2055.9L951.7 2051.2L956.1 2047.2L960 2041.3L969.4 2018.3L975.3 2008.5L980.2 2003.3L984.1 2000.2L990.1 1996.7ZM1313.6 2213.9L1323.9 2212.6L1323.9 2332.4L1315.7 2336.8L1303.8 2345.6L1297.7 2351.4L1293.3 2357.3L1292 2360.2L1291.5 2366L1292.3 2369L1299.7 2383.6L1263.2 2383.6L1267.5 2371.9L1268 2369L1267.6 2366L1266.3 2363.1L1264.1 2360.2L1247.1 2340.5L1241.2 2331.9L1237.7 2325.1L1233.7 2313.4L1231.5 2301.7L1231.9 2292.9L1233.7 2284.1L1239.1 2269.5L1245.4 2257.8L1255.9 2244.8L1267.8 2233.2L1276.6 2226.2L1285.5 2221.5L1300.3 2216.8Z" fill="#eefeee"/><path d="M1021.4 1994.5L1028.2 1991.6L1136.9 1991.6L1150.9 2009.2L1158.5 2015.5L1164.4 2018.6L1173.2 2021.7L1182.1 2023.3L1188 2023.7L1196.9 2023L1208.7 2020.7L1220.5 2017.2L1229.4 2013.4L1235.3 2009.8L1239.4 2006.2L1244.1 2000.4L1249.8 1991.6L1323.9 1991.6L1323.9 2118.2L1320.9 2123.2L1316.3 2129.1L1310 2134.9L1303.2 2139.6L1297.3 2142.6L1288.4 2145.6L1279.6 2147.3L1270.7 2147.9L1261.9 2147.4L1247.1 2144.9L1238.2 2142.2L1220.5 2135.3L1193.9 2127.3L1146.6 2116.4L1126 2113.9L1114.1 2113.8L1102.3 2114.8L1093.5 2116.3L1084.6 2118.7L1072.8 2122.6L1063.9 2126.4L1034.4 2147.7L1023.6 2158.3L1016.6 2164.3L1007.8 2170L1001.9 2172.2L993 2174.4L984.1 2175.6L948.7 2176L925.1 2174.7L916.2 2173.1L910.3 2171.3L902.6 2167.1L898.5 2162.9L894.7 2155.4L892.9 2146.6L892 2126.2L892.9 2108.6L894 2099.8L895.8 2091.1L898.1 2085.2L899.8 2082.3L904.4 2077.2L910.3 2073.4L919.2 2069.7L942.8 2062L948.7 2059.4L954.6 2056L960.5 2051.1L963.8 2047.2L978.2 2021.9L981.2 2017.9L986.8 2012.1L996 2006ZM1296.6 2237.3L1303.2 2236.7L1312.1 2236.7L1323.9 2238.3L1323.9 2304.9L1309.1 2309.9L1288.4 2314.4L1282.5 2315.1L1276.6 2315.1L1267.8 2313.3L1261.9 2310.4L1255.9 2305.8L1252.3 2301.7L1248.8 2295.8L1247 2290L1246.6 2284.1L1247.4 2278.3L1249.1 2272.4L1251.8 2266.6L1255.9 2260.5L1261.9 2254.4L1267.8 2249.7L1276.6 2243.9L1282.5 2241.1L1288.4 2239Z" fill="#ddfddd"/><path d="M1074.4 1994.5L1087.6 1993.1L1096.4 1992.9L1105.3 1993.9L1111.2 1995.7L1114.6 1997.5L1120 2001.5L1139.4 2020.9L1150.2 2029.6L1158.5 2034.9L1164.4 2037.9L1173.2 2041.3L1179.1 2042.8L1188 2043.5L1193.9 2043L1226.4 2035.5L1255.9 2031.1L1270.7 2027.7L1279.6 2026.3L1285.5 2025.9L1291.4 2026.4L1300.3 2029.1L1306.2 2033L1309.1 2035.8L1313.3 2041.3L1316.5 2047.2L1318.9 2053L1321.8 2064.7L1322.4 2073.5L1321.5 2085.2L1316.9 2105.7L1313.7 2114.5L1310.3 2120.3L1305.7 2126.2L1300.3 2131.1L1294.4 2135.1L1288.4 2138L1279.6 2140.9L1270.7 2142.3L1261.9 2142.5L1253 2141.6L1244.1 2139.6L1220.5 2130.7L1208.7 2126.8L1149.6 2110L1131.9 2107.4L1123 2107.3L1114.1 2107.9L1102.3 2109.6L1090.5 2112.3L1072.8 2118.1L1063.9 2121.9L1057 2126.2L1033.4 2143.7L1019.6 2156.7L1013.7 2161.5L1007.8 2165.2L1001.9 2167.4L993 2169L984.1 2169.5L963.5 2167.9L951.7 2166.1L943.3 2164.2L934.4 2161.3L927.9 2158.3L923 2155.4L919.4 2152.5L914.7 2146.6L909.3 2134.9L904.8 2120.3L903.3 2108.6L903.9 2099.8L906.8 2091.1L910.6 2085.2L916.2 2080.1L922.1 2076.5L948.7 2064.9L954.6 2061.7L960.5 2057.6L965.6 2053L970.4 2047.2L981.2 2030.7L986.6 2023.8L992.7 2017.9L998.9 2013.7L1010.7 2008.5L1031.4 2001.9L1046.2 1998.8ZM1286.5 2260.7L1291.4 2260.2L1297.3 2260.4L1303.2 2261.6L1307.9 2263.7L1311.5 2266.6L1313.3 2269.5L1313.6 2272.4L1312.6 2275.4L1310.5 2278.3L1307.2 2281.2L1300.3 2285.5L1294.4 2288.1L1288.4 2289.4L1282.5 2289.7L1276.6 2288.9L1273.7 2287.9L1268.6 2284.1L1266.8 2281.2L1266 2278.3L1266.2 2275.4L1267.4 2272.4L1269.6 2269.5L1273.7 2266.1L1279.6 2262.9Z" fill="#ccfccc"/><path d="M1028.2 2012.1L1040.3 2010.6L1055.1 2010.2L1087.6 2010.5L1099.4 2012.3L1106.2 2015L1114.1 2019.8L1140.7 2041.6L1152.5 2050L1164.4 2056.2L1176.2 2059.6L1185 2060.1L1191 2059.3L1217.5 2050.5L1226.4 2048.4L1235.3 2047.1L1247.1 2046.3L1270.7 2045.8L1279.6 2046.7L1285.5 2048.1L1291.4 2050.7L1298.7 2056L1303.6 2061.8L1307.9 2070.6L1309.8 2079.4L1310.2 2088.1L1308.8 2099.8L1306.4 2108.6L1303.8 2114.5L1300 2120.3L1294.4 2126.2L1288.4 2130.5L1282.5 2133.5L1273.7 2136.4L1267.8 2137.5L1258.9 2137.8L1250 2136.7L1241.2 2134.1L1214.6 2123.8L1184.6 2114.5L1161.4 2104.6L1152.5 2101.6L1146.6 2100.2L1137.8 2099L1128.9 2099L1120 2099.9L1108.2 2102.2L1090.5 2107.3L1072.8 2113.6L1061 2119L1052.1 2124.8L1031.4 2140.5L1013.7 2156.4L1004.8 2161.6L996 2163.6L984.1 2163.8L969.4 2161.7L956.7 2158.3L948.7 2155.1L939.2 2149.6L931 2142.6L924.7 2134.9L916.2 2120.7L913.1 2111.5L912.5 2102.8L913.7 2096.9L914.9 2094L918.8 2088.1L925.3 2082.3L933.9 2077.2L954.6 2067L966.2 2058.9L974.6 2050.1L990.1 2030.1L998.9 2022.3L1004.8 2018.9L1010.7 2016.5L1019.6 2013.9Z" fill="#bbfbbb"/><path d="M1025.6 2020.9L1037.3 2020.2L1052.1 2021.6L1066.9 2024.4L1087.6 2027.3L1096.4 2029.8L1102.3 2032.4L1108.2 2035.8L1115.9 2041.3L1122.7 2047.2L1131.4 2056L1138.9 2064.7L1145.1 2073.5L1146.1 2076.4L1145.1 2079.4L1139.6 2082.3L1111.2 2092.9L1069.8 2110.1L1061 2114.4L1049.1 2121.9L1028.5 2138.1L1013.7 2151L1004.8 2156.5L996 2158.5L984.1 2158.1L969.4 2154.6L957.2 2149.6L948.7 2144.4L939.8 2137.2L932.4 2129.1L926.1 2120.3L922.1 2111.9L920.9 2105.7L921.3 2099.8L923.6 2094L928.4 2088.1L933.9 2083.8L957.6 2070.5L969.4 2062.1L978.6 2053L993 2036.1L1000.4 2029.6L1004.8 2026.8L1010.7 2024.2L1016.6 2022.5ZM1226 2058.9L1235.3 2057.2L1244.1 2056.5L1255.9 2056.5L1267.8 2057.2L1276.6 2058.9L1282.5 2061.2L1288.3 2064.7L1291.4 2067.4L1296.1 2073.5L1298.8 2079.4L1300.2 2085.2L1300.7 2094L1299.5 2102.8L1297.7 2108.6L1294.8 2114.5L1290.3 2120.3L1282.5 2126.6L1276.6 2129.6L1270.7 2131.6L1264.8 2132.8L1258.9 2133.2L1250 2132.2L1240.2 2129.1L1214.6 2118.4L1191 2109.9L1183.3 2105.7L1172.4 2096.9L1164.8 2088.1L1163.3 2085.2L1164 2082.3L1170.4 2079.4L1188 2074.4L1211.6 2063.6Z" fill="#aafaaa"/><path d="M1019.5 2029.6L1031.4 2028.8L1037.3 2029.1L1046.2 2030.6L1081.6 2040.5L1090.5 2043.9L1100.8 2050.1L1105.3 2054.2L1109.1 2058.9L1111.9 2064.7L1112.5 2067.7L1112 2073.5L1108.8 2079.4L1106.2 2082.3L1099.4 2088.1L1085.9 2096.9L1061 2109.4L1052.1 2114.7L1040.3 2123.5L1013.7 2145.3L1007.8 2149.5L1001.9 2152.1L993 2153.1L984.1 2152.1L975.3 2149.5L963.5 2144L954.6 2138.4L945.7 2131.3L937.9 2123.2L931.9 2114.5L929.6 2108.6L929 2102.8L930.5 2096.9L933.9 2091.9L937.9 2088.1L942.8 2084.7L963.5 2072.2L973.4 2064.7L982.7 2056L996 2041.7L1001.9 2036.7L1010.7 2032ZM1228.3 2067.7L1235.3 2066.1L1244.1 2065.2L1261.9 2065.8L1267.8 2066.8L1273.7 2068.5L1278.2 2070.6L1282.5 2073.6L1285.5 2076.4L1289.4 2082.3L1291.5 2088.1L1292.2 2094L1291.9 2099.8L1290.7 2105.7L1288.1 2111.5L1283.7 2117.4L1276.6 2123L1269.8 2126.2L1261.9 2128L1253 2127.9L1244.1 2125.6L1235.3 2122L1207.4 2108.6L1197.5 2102.8L1194.5 2099.8L1192.7 2096.9L1191.9 2094L1192.2 2091.1L1193.7 2088.1L1199.9 2082.3L1208.3 2076.4L1217.5 2071.5Z" fill="#99f999"/><path d="M1015.4 2038.4L1022.6 2037.2L1028.5 2037L1040.3 2038.5L1052.1 2041.9L1072.8 2050.1L1082.9 2056L1088.9 2061.8L1091.9 2067.7L1092.4 2070.6L1091.7 2076.4L1088.7 2082.3L1083.8 2088.1L1080.6 2091.1L1072.6 2096.9L1049.1 2111.3L1010.7 2141.7L1004.8 2145.1L998.9 2146.8L993 2147.1L984.1 2145.5L975.3 2142L968 2137.9L957.6 2130.7L948.5 2123.2L943.2 2117.4L939.4 2111.5L937.4 2105.7L937.7 2099.8L939.8 2095.7L944.1 2091.1L966.4 2076L975.3 2069.4L1001.9 2044.9L1007.8 2041.2ZM1243 2073.5L1255.9 2073.4L1261.9 2074.2L1267.8 2075.6L1275 2079.4L1278.3 2082.3L1280.7 2085.2L1282.5 2088.8L1283.9 2094L1284.2 2096.9L1283.6 2102.8L1281.4 2108.6L1279.6 2111.5L1273.7 2117.4L1267.8 2120.6L1261.9 2122.3L1255.9 2122.8L1247.1 2121.2L1237.7 2117.4L1227.2 2111.5L1218.7 2105.7L1212.6 2099.8L1211.1 2096.9L1210.8 2094L1211.5 2091.1L1213.1 2088.1L1215.7 2085.2L1223.5 2079.5L1229.4 2076.8L1235.3 2074.9Z" fill="#88f888"/><path d="M1013.4 2047.2L1022.6 2045.6L1028.5 2045.6L1034.4 2046.3L1046.2 2049.6L1058 2055L1068.1 2061.8L1072.8 2067.3L1074.4 2070.6L1075.1 2073.5L1074.6 2079.4L1071.9 2085.2L1069.7 2088.1L1063.8 2094L1046.2 2107.2L1025.5 2124.5L1013.7 2133.6L1007.8 2137.3L1001.9 2139.8L996 2140.6L987.1 2139.3L981.2 2137L975.3 2133.6L960.7 2123.2L954.6 2117.9L951.5 2114.5L947.9 2108.6L946.6 2102.8L947.2 2099.8L948.8 2096.9L954.6 2091.1L978.2 2073.5L1001.9 2053.4L1007.8 2049.5ZM1242.4 2082.3L1250 2081.2L1258.9 2081.8L1264.8 2083.5L1268.1 2085.2L1271.6 2088.1L1273.8 2091.1L1275.1 2094L1275.8 2099.8L1274.2 2105.7L1270.7 2110.5L1267.8 2112.9L1261.9 2115.6L1258.9 2116.3L1253 2116.3L1247.1 2114.8L1241.2 2112.1L1235.9 2108.6L1232.5 2105.7L1228.2 2099.8L1227.4 2096.9L1227.5 2094L1228.6 2091.1L1231 2088.1L1234.9 2085.2Z" fill="#77f777"/><path d="M1014.5 2056L1022.6 2054.7L1031.4 2055.4L1040.3 2058.1L1047.6 2061.8L1052.1 2065.1L1057 2070.6L1059.2 2076.4L1058.8 2082.3L1056.1 2088.1L1048.6 2096.9L1026.5 2117.4L1013.7 2127.3L1004.8 2132.1L998.9 2133.5L993 2133.2L987.1 2131.6L977.6 2126.2L969.9 2120.3L963.6 2114.5L959.5 2108.6L958.4 2105.7L958.1 2102.8L958.8 2099.8L960.4 2096.9L965.9 2091.1L984.1 2075.9L1004.8 2060.4L1010.7 2057.3ZM1250.6 2091.1L1256.9 2091.1L1258.9 2091.7L1262.7 2094L1264.8 2096.9L1265.3 2099.8L1264.3 2102.8L1261.9 2105.6L1258.9 2107.1L1255.9 2107.7L1253 2107.5L1248.1 2105.7L1244.8 2102.8L1243.3 2099.8L1243.2 2096.9L1244.9 2094L1247.1 2092.5Z" fill="#66f666"/><path d="M1010.1 2067.7L1016.6 2065.7L1025.5 2065.6L1031.4 2067.2L1037.3 2070.3L1040.7 2073.5L1042.6 2076.4L1043.7 2079.4L1044 2082.3L1042.7 2088.1L1039.6 2094L1030.3 2105.7L1021.6 2114.5L1013.9 2120.3L1007.8 2123.7L1001.9 2125.5L996 2125.8L990.1 2124.3L987.1 2122.9L981.2 2119L976.2 2114.5L973.9 2111.5L971.1 2105.7L970.9 2102.8L971.4 2099.8L972.7 2096.9L976.9 2091.1L986.2 2082.3L998.9 2073.4Z" fill="#55f555"/><path d="M1006.4 2079.4L1010.7 2078.2L1016.6 2077.7L1023 2079.4L1026.5 2082.3L1028.1 2085.2L1028.6 2088.1L1027.6 2094L1024.8 2099.8L1020.9 2105.7L1013.7 2112.5L1010.5 2114.5L1004.8 2116.7L998.9 2117.3L996 2116.8L990.1 2114L987.2 2111.5L985 2108.6L983.8 2105.7L983.3 2102.8L983.6 2099.8L986.1 2094L991.1 2088.1L998.9 2082.5Z" fill="#44f444"/><path d="M1001 2094L1004.8 2092.1L1007.8 2091.8L1010.7 2092.8L1011.9 2094L1012.8 2096.9L1012.2 2099.8L1010.4 2102.8L1007.8 2104.7L1004.8 2105.8L1001.9 2105.7L998.9 2103.6L998.3 2102.8L997.7 2099.8L998.5 2096.9Z" fill="#33f333"/></g></g>
<rect x="902.6" y="1972" width="14.04" height="17.2" fill="#00f000"/>
<rect x="916.24" y="1972" width="14.04" height="17.2" fill="#11f111"/>
<rect x="929.89" y="1972" width="14.04" height="17.2" fill="#22f222"/>
<rect x="943.53" y="1972" width="14.04" height="17.2" fill="#33f333"/>
<rect x="957.17" y="1972" width="14.04" height="17.2" fill="#44f444"/>
<rect x="970.82" y="1972" width="14.04" height="17.2" fill="#55f555"/>
<rect x="984.46" y="1972" width="14.04" height="17.2" fill="#66f666"/>
<rect x="998.1" y="1972" width="14.04" height="17.2" fill="#77f777"/>
<rect x="1011.75" y="1972" width="14.04" height="17.2" fill="#88f888"/>
<rect x="1025.39" y="1972" width="14.04" height="17.2" fill="#99f999"/>
<rect x="1039.03" y="1972" width="14.04" height="17.2" fill="#aafaaa"/>
<rect x="1052.68" y="1972" width="14.04" height="17.2" fill="#bbfbbb"/>
<rect x="1066.32" y="1972" width="14.04" height="17.2" fill="#ccfccc"/>
<rect x="1079.96" y="1972" width="14.04" height="17.2" fill="#ddfddd"/>
<rect x="1093.61" y="1972" width="14.04" height="17.2" fill="#eefeee"/>
<rect x="1120.89" y="1972" width="14.04" height="17.2" fill="#ffeeee"/>
<rect x="1134.54" y="1972" width="14.04" height="17.2" fill="#ffdddd"/>
<rect x="1148.18" y="1972" width="14.04" height="17.2" fill="#ffcccc"/>
<rect x="1161.82" y="1972" width="14.04" height="17.2" fill="#ffbbbb"/>
<rect x="1175.47" y="1972" width="14.04" height="17.2" fill="#ffaaaa"/>
<rect x="1189.11" y="1972" width="14.04" height="17.2" fill="#ff9999"/>
<rect x="1202.75" y="1972" width="14.04" height="17.2" fill="#ff8888"/>
<rect x="1216.4" y="1972" width="14.04" height="17.2" fill="#ff7777"/>
<rect x="1230.04" y="1972" width="14.04" height="17.2" fill="#ff6666"/>
<rect x="1243.68" y="1972" width="14.04" height="17.2" fill="#ff5555"/>
<rect x="1257.33" y="1972" width="14.04" height="17.2" fill="#ff4444"/>
<rect x="1270.97" y="1972" width="14.04" height="17.2" fill="#ff3333"/>
<rect x="1284.61" y="1972" width="14.04" height="17.2" fill="#ff2222"/>
<rect x="1298.26" y="1972" width="13.64" height="17.2" fill="#ff1111"/>
<g font-family="'DejaVu Sans',Verdana,sans-serif" font-size="16.5" text-anchor="middle">
<text transform="translate(908.5 1967.5) scale(1 1)">-30</text>
<text transform="translate(979.7 1967.5) scale(1 1)">-20</text>
<text transform="translate(1051.2 1967.5) scale(1 1)">-10</text>
<text transform="translate(1113.1 1967.5) scale(1 1)">0</text>
<text transform="translate(1171.6 1967.5) scale(1 1)">10</text>
<text transform="translate(1236.2 1967.5) scale(1 1)">20</text>
<text transform="translate(1300.5 1967.5) scale(1 1)">30</text>
</g>
<rect x="883.3" y="1991.4" width="440.1" height="393.4" fill="none" stroke="#000" stroke-width="4"/>
<path d="M882.4 2386V2392.5M945.47 2386V2392.5M1008.54 2386V2392.5M1071.61 2386V2392.5M1134.69 2386V2392.5M1197.76 2386V2392.5M1260.83 2386V2392.5M1323.9 2386V2392.5M876.5 1991.6H882.5M876.5 2047.74H882.5M876.5 2103.89H882.5M876.5 2160.03H882.5M876.5 2216.17H882.5M876.5 2272.31H882.5M876.5 2328.46H882.5M876.5 2384.6H882.5" stroke="#000" stroke-width="1.3" fill="none"/>
<g font-family="'Liberation Sans',Arial,Helvetica,sans-serif">
<text transform="translate(890.91 2394.6) rotate(-90) scale(1 1.1)" font-size="21.6" text-anchor="end">0</text>
<text transform="translate(953.98 2394.6) rotate(-90) scale(1 1.1)" font-size="21.6" text-anchor="end">4.12</text>
<text transform="translate(1017.05 2394.6) rotate(-90) scale(1 1.1)" font-size="21.6" text-anchor="end">12</text>
<text transform="translate(1080.12 2394.6) rotate(-90) scale(1 1.1)" font-size="21.6" text-anchor="end">37</text>
<text transform="translate(1143.19 2394.6) rotate(-90) scale(1 1.1)" font-size="21.6" text-anchor="end">79</text>
<text transform="translate(1206.26 2394.6) rotate(-90) scale(1 1.1)" font-size="21.6" text-anchor="end">111</text>
<text transform="translate(1269.33 2394.6) rotate(-90) scale(1 1.1)" font-size="21.6" text-anchor="end">333</text>
<text transform="translate(1332.41 2394.6) rotate(-90) scale(1 1.1)" font-size="21.6" text-anchor="end">1000</text>
<text transform="translate(870.4 1992.1) rotate(-90) scale(1 1.05)" font-size="20" text-anchor="middle">12.4</text>
<text transform="translate(870.4 2048.24) rotate(-90) scale(1 1.05)" font-size="20" text-anchor="middle">4.12</text>
<text transform="translate(870.4 2104.39) rotate(-90) scale(1 1.05)" font-size="20" text-anchor="middle">1.37</text>
<text transform="translate(870.4 2160.53) rotate(-90) scale(1 1.05)" font-size="20" text-anchor="middle">1.20</text>
<text transform="translate(870.4 2216.67) rotate(-90) scale(1 1.05)" font-size="20" text-anchor="middle">0.46</text>
<text transform="translate(870.4 2272.81) rotate(-90) scale(1 1.05)" font-size="20" text-anchor="middle">0.15</text>
<text transform="translate(870.4 2328.96) rotate(-90) scale(1 1.05)" font-size="20" text-anchor="middle">0.10</text>
<text transform="translate(870.4 2385.1) rotate(-90) scale(1 1.05)" font-size="20" text-anchor="middle">0</text>
</g>
</g>
<g id="annotations" font-family="'Liberation Sans',Arial,Helvetica,sans-serif">
<text transform="translate(3 38.6)" font-size="42.3" font-weight="bold">a</text>
<text transform="translate(773.4 36)" font-size="42.3" font-weight="bold">b</text>
<text transform="translate(3.9 717.2)" font-size="42.3" font-weight="bold">c</text>
<text transform="translate(773.7 714.6)" font-size="42.3" font-weight="bold">d</text>
<text transform="translate(-1.3 1325.2)" font-size="42.3" font-weight="bold">e</text>
<text transform="translate(768.9 1322.6)" font-size="42.3" font-weight="bold">f</text>
<text transform="translate(-0.3 1960)" font-size="42.3" font-weight="bold">g</text>
<text transform="translate(769.5 1957.3)" font-size="42.3" font-weight="bold">h</text>
<text transform="translate(237.93 31.7) scale(1 0.966)" font-size="42.13">HCC1806</text>
<text transform="translate(893.56 32.3) scale(1 1.015)" font-size="41.81">HCC1806 + HA-CREB3L1</text>
<text transform="translate(49.05 443.59) rotate(-90) scale(1 1.038)" font-size="33.68">Doxorubicin, nM</text>
<text transform="translate(841.4 443.59) rotate(-90) scale(1 1.007)" font-size="33.68">Doxorubicin, nM</text>
<text transform="translate(38.67 1030.25) rotate(-90) scale(1 1.033)" font-size="33.13">Doxorubicin, nM</text>
<text transform="translate(842.9 1034.05) rotate(-90) scale(1 1.033)" font-size="33.1">Doxorubicin, nM</text>
<text transform="translate(52.3 1675.29) rotate(-90) scale(1 1.018)" font-size="33.61">Paclitaxel, nM</text>
<text transform="translate(833.9 1670.01) rotate(-90) scale(1 1.015)" font-size="37.62">Paclitaxel, nM</text>
<text transform="translate(79.6 2258.19) rotate(-90) scale(1 1.017)" font-size="33.63">Paclitaxel, nM</text>
<text transform="translate(839.4 2264.69) rotate(-90) scale(1 1.034)" font-size="33.61">Paclitaxel, nM</text>
<text transform="translate(243.81 647.1) scale(1 0.974)" font-size="33.86">Cladribine, nM</text>
<text transform="translate(1035.81 647.1) scale(1 0.974)" font-size="33.84">Cladribine, nM</text>
<text transform="translate(232.81 1241.9) scale(1 0.975)" font-size="33.81">Cladribine, nM</text>
<text transform="translate(1019.61 1242.5) scale(1 0.975)" font-size="33.81">Cladribine, nM</text>
<text transform="translate(227.71 1905) scale(1 0.975)" font-size="33.82">Cladribine, nM</text>
<text transform="translate(1017.61 1904.6) scale(1 0.976)" font-size="33.76">Cladribine, nM</text>
<text transform="translate(226.22 2476) scale(1 0.980)" font-size="33.65">Cladribine, nM</text>
<text transform="translate(991.5 2476) scale(1 0.971)" font-size="33.97">Cladribine, nM</text>
<text transform="translate(613.3 1018.08) rotate(-90) scale(1 1.022)" font-size="33.46">Maximum</text>
<text transform="translate(653.1 1045.79) rotate(-90) scale(1 1.060)" font-size="33.05">Synergy (ZIP)</text>
<text transform="translate(1423.5 983.88) rotate(-90) scale(1 1.022)" font-size="33.46">Maximum</text>
<text transform="translate(1463.9 1010.99) rotate(-90) scale(1 1.057)" font-size="33.14">Synergy (ZIP)</text>
<text transform="translate(623.1 2201.37) rotate(-90) scale(1 1.026)" font-size="33.34">Maximum</text>
<text transform="translate(662.9 2228.49) rotate(-90) scale(1 1.035)" font-size="33.05">Synergy (ZIP)</text>
<text transform="translate(1362.9 2368.48) rotate(-90) scale(1 1.031)" font-size="33.46">Maximum</text>
<text transform="translate(1402.5 2396.19) rotate(-90) scale(1 1.032)" font-size="33.14">Synergy (ZIP)</text>
<text transform="translate(667.7 300.6) scale(1 0.989)" font-size="34.1">21%</text>
<text transform="translate(1478.24 294.4) scale(1 0.988)" font-size="33.11">24%</text>
<text transform="translate(576.2 825) scale(1 1.038)" font-size="33.3">16.2</text>
<text transform="translate(1381.22 793.7) scale(1 1.048)" font-size="33.11">18.8</text>
<text transform="translate(625.02 1676.8) scale(1 1.014)" font-size="33.07">15%</text>
<text transform="translate(1404.03 1651) scale(1 1.043)" font-size="33.52">41%</text>
<text transform="translate(582.41 2258.2) scale(1 1.174)" font-size="33.1">9.3</text>
<text transform="translate(1335.64 2178.3) scale(1 1.049)" font-size="33.11">24</text>
</g>
<g id="arrows">
<circle cx="861.6" cy="241.3" r="1.1" fill="#222"/><circle cx="861.6" cy="278.2" r="1.1" fill="#222"/>
<path d="M290.1 308.7L678.5 308.7" stroke="#000" stroke-width="3.6" fill="none"/><path d="M266.8 308.7L291.1 296.7L291.1 320.7Z" fill="#000"/>
<path d="M1131.6 264.6L1478.8 264.6" stroke="#000" stroke-width="3.6" fill="none"/><path d="M1108.2 264.6L1132.6 252.6L1132.6 276.6Z" fill="#000"/>
<path d="M349 844.2L606.4 844.2" stroke="#000" stroke-width="3.6" fill="none"/><path d="M324.9 844.2L350 831.3L350 857.1Z" fill="#000"/>
<path d="M1215.3 806.4L1426.9 806.4" stroke="#000" stroke-width="3.6" fill="none"/><path d="M1191.2 806.4L1216.3 793.5L1216.3 819.3Z" fill="#000"/>
<path d="M289.6 1666.3L624.4 1666.3" stroke="#000" stroke-width="3.6" fill="none"/><path d="M267.1 1666.3L290.6 1654.3L290.6 1678.3Z" fill="#000"/>
<path d="M1164.7 1612.2L1427 1614" stroke="#000" stroke-width="3.6" fill="none"/><path d="M1142.7 1612.2L1165.7 1600.2L1165.7 1624.2Z" fill="#000"/>
<path d="M296 2267.7L607.5 2267.7" stroke="#000" stroke-width="3.8" fill="none"/><path d="M272.4 2267.7L297 2255.2L297 2280.2Z" fill="#000"/>
<path d="M1156.1 2207.4L1350.6 2207.4" stroke="#000" stroke-width="3.8" fill="none"/><path d="M1132 2207.4L1157.1 2194.9L1157.1 2219.9Z" fill="#000"/>
</g>
</svg></body></html>
